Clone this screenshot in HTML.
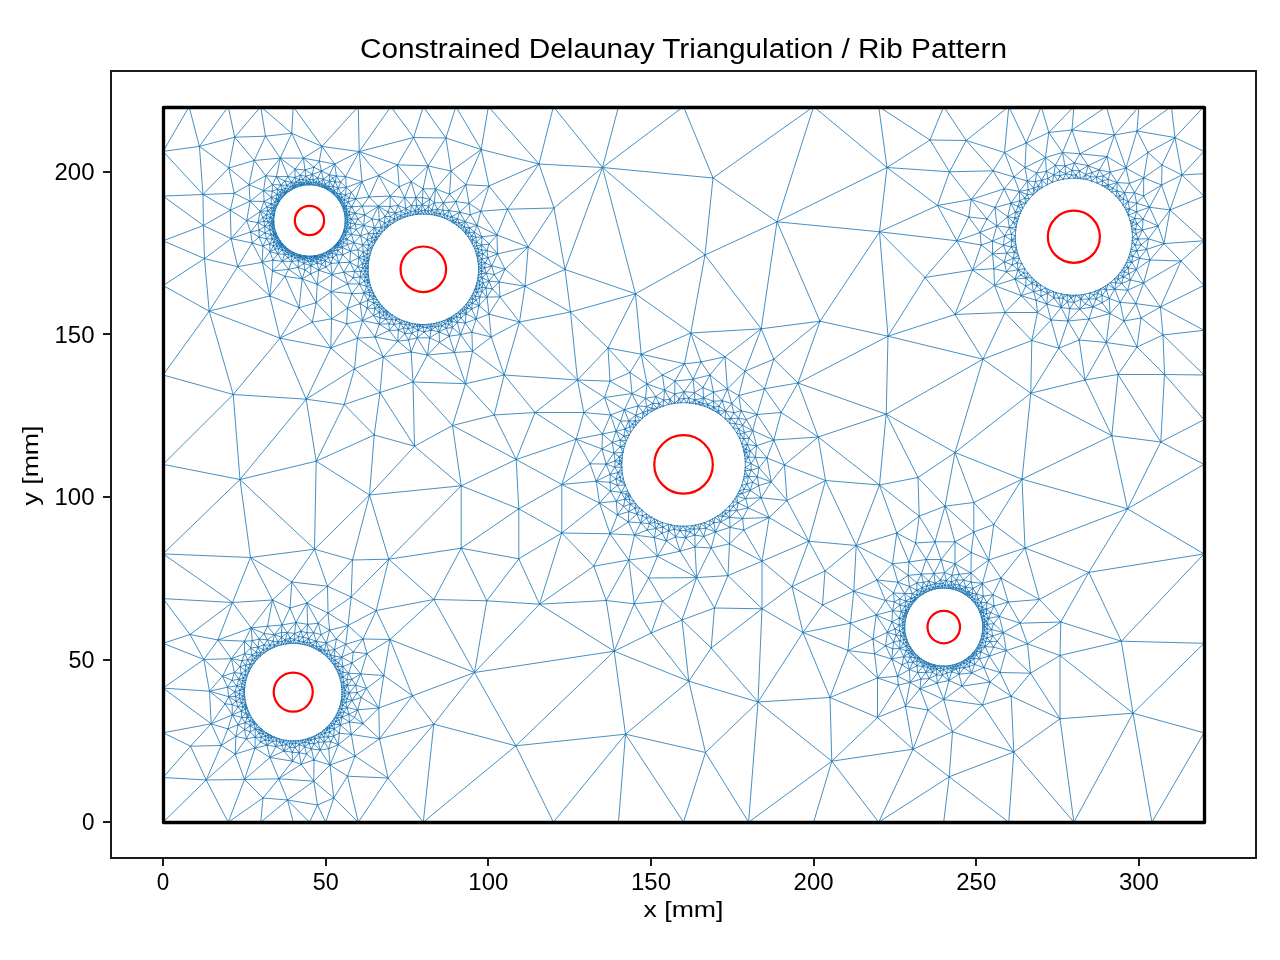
<!DOCTYPE html>
<html><head><meta charset="utf-8"><title>Constrained Delaunay Triangulation / Rib Pattern</title>
<style>
html,body{margin:0;padding:0;background:#fff;}
body{width:1280px;height:960px;overflow:hidden;position:relative;}
svg{display:block;}
text{font-family:"Liberation Sans",sans-serif;fill:#000;}
.tk{font-size:23.05px;}
.lb{font-size:22.5px;}
.tt{font-size:27px;}
</style></head><body>
<svg width="1280" height="960" viewBox="0 0 1280 960">
<rect x="0" y="0" width="1280" height="960" fill="#fff"/>
<path d="M345.3 220.2L345.2 218.5M345.3 220.2L345.2 222.0M345.3 220.2L347.9 221.6M345.3 220.2L347.4 219.3M345.2 218.5L345.1 216.7M345.2 218.5L347.5 217.4M345.2 218.5L347.4 219.3M345.1 216.7L344.8 215.0M345.1 216.7L347.5 217.4M345.1 216.7L346.7 215.6M344.8 215.0L344.5 213.2M344.8 215.0L346.8 213.7M344.8 215.0L346.7 215.6M344.5 213.2L344.1 211.5M344.5 213.2L346.8 213.7M344.5 213.2L346.2 211.9M344.1 211.5L343.6 209.8M344.1 211.5L346.6 209.4M344.1 211.5L346.2 211.9M343.6 209.8L343.1 208.2M343.6 209.8L346.6 209.4M343.6 209.8L344.8 208.1M343.1 208.2L342.4 206.6M343.1 208.2L344.1 206.8M343.1 208.2L344.8 208.1M342.4 206.6L341.7 205.0M342.4 206.6L344.1 206.8M342.4 206.6L343.7 205.5M341.7 205.0L340.9 203.4M341.7 205.0L344.0 203.3M341.7 205.0L343.7 205.5M340.9 203.4L340.0 201.9M340.9 203.4L344.0 203.3M340.9 203.4L342.1 201.7M340.0 201.9L339.1 200.4M340.0 201.9L341.3 199.9M340.0 201.9L342.1 201.7M339.1 200.4L338.1 199.0M339.1 200.4L341.3 199.9M339.1 200.4L339.9 198.7M338.1 199.0L337.0 197.6M338.1 199.0L339.2 197.0M338.1 199.0L339.9 198.7M337.0 197.6L335.8 196.3M337.0 197.6L339.2 197.0M337.0 197.6L337.9 195.6M335.8 196.3L334.6 195.0M335.8 196.3L336.7 193.3M335.8 196.3L337.9 195.6M334.6 195.0L333.3 193.8M334.6 195.0L336.7 193.3M334.6 195.0L334.6 193.0M333.3 193.8L332.0 192.7M333.3 193.8L334.6 193.0M333.3 193.8L333.5 192.2M332.0 192.7L330.6 191.6M332.0 192.7L332.4 191.2M332.0 192.7L333.5 192.2M330.6 191.6L329.1 190.6M330.6 191.6L331.1 189.3M330.6 191.6L332.4 191.2M329.1 190.6L327.6 189.7M329.1 190.6L331.1 189.3M329.1 190.6L328.9 188.7M327.6 189.7L326.1 188.8M327.6 189.7L328.9 188.7M327.6 189.7L327.5 188.0M326.1 188.8L324.5 188.0M326.1 188.8L326.1 186.9M326.1 188.8L327.5 188.0M324.5 188.0L322.9 187.3M324.5 188.0L324.3 186.4M324.5 188.0L326.1 186.9M322.9 187.3L321.3 186.7M322.9 187.3L324.3 186.4M322.9 187.3L323.0 185.7M321.3 186.7L319.6 186.2M321.3 186.7L321.6 184.0M321.3 186.7L323.0 185.7M319.6 186.2L317.9 185.7M319.6 186.2L321.6 184.0M319.6 186.2L319.2 184.3M317.9 185.7L316.2 185.3M317.9 185.7L317.8 183.8M317.9 185.7L319.2 184.3M316.2 185.3L314.5 185.1M316.2 185.3L316.1 182.3M316.2 185.3L317.8 183.8M314.5 185.1L312.7 184.9M314.5 185.1L316.1 182.3M314.5 185.1L313.6 182.8M312.7 184.9L311.0 184.7M312.7 184.9L311.1 182.6M312.7 184.9L313.6 182.8M311.0 184.7L310.1 184.7M311.0 184.7L311.1 182.6M310.1 184.7L309.2 184.7M310.1 184.7L311.1 182.6M310.1 184.7L309.0 183.7M309.2 184.7L307.5 184.8M309.2 184.7L309.0 183.7M307.5 184.8L305.7 184.9M307.5 184.8L309.0 183.7M307.5 184.8L306.9 183.1M305.7 184.9L304.0 185.1M305.7 184.9L304.3 182.8M305.7 184.9L306.9 183.1M304.0 185.1L302.2 185.5M304.0 185.1L304.3 182.8M304.0 185.1L302.7 184.1M302.2 185.5L301.4 185.6M302.2 185.5L301.6 184.5M302.2 185.5L302.7 184.1M301.4 185.6L300.5 185.8M301.4 185.6L300.1 184.6M301.4 185.6L301.6 184.5M300.5 185.8L298.8 186.3M300.5 185.8L300.1 184.6M298.8 186.3L297.2 186.9M298.8 186.3L300.1 184.6M298.8 186.3L297.4 184.7M297.2 186.9L295.5 187.5M297.2 186.9L295.2 185.9M297.2 186.9L297.4 184.7M295.5 187.5L294.7 187.9M295.5 187.5L295.2 185.9M295.5 187.5L294.1 187.1M294.7 187.9L293.9 188.3M294.7 187.9L294.1 187.1M293.9 188.3L292.4 189.1M293.9 188.3L294.1 187.1M293.9 188.3L292.4 187.7M292.4 189.1L290.9 189.9M292.4 189.1L292.4 187.7M290.9 189.9L289.4 190.9M290.9 189.9L290.6 186.5M290.9 189.9L288.5 188.7M290.9 189.9L292.4 187.7M289.4 190.9L288.0 191.9M289.4 190.9L286.9 191.0M289.4 190.9L288.5 188.7M288.0 191.9L286.6 193.0M288.0 191.9L286.9 191.0M286.6 193.0L285.9 193.6M286.6 193.0L286.9 191.0M286.6 193.0L285.7 192.4M285.9 193.6L285.3 194.2M285.9 193.6L284.7 193.2M285.9 193.6L285.7 192.4M285.3 194.2L284.0 195.4M285.3 194.2L284.7 193.2M284.0 195.4L282.8 196.7M284.0 195.4L281.2 194.4M284.0 195.4L284.7 193.2M284.0 195.4L282.7 192.5M282.8 196.7L281.7 198.0M282.8 196.7L281.2 194.4M282.8 196.7L280.4 196.1M281.7 198.0L280.6 199.4M281.7 198.0L279.0 197.5M281.7 198.0L280.4 196.1M280.6 199.4L279.6 200.8M280.6 199.4L279.0 197.5M280.6 199.4L278.2 199.4M279.6 200.8L279.1 201.6M279.6 200.8L278.8 200.7M279.6 200.8L278.2 199.4M279.1 201.6L278.7 202.3M279.1 201.6L277.3 201.2M279.1 201.6L278.8 200.7M278.7 202.3L277.8 203.9M278.7 202.3L277.3 201.2M277.8 203.9L277.0 205.4M277.8 203.9L277.3 201.2M277.8 203.9L275.0 202.3M277.8 203.9L274.7 205.3M277.0 205.4L276.3 207.0M277.0 205.4L274.7 205.3M276.3 207.0L275.7 208.7M276.3 207.0L273.8 207.0M276.3 207.0L274.7 205.3M275.7 208.7L275.2 210.4M275.7 208.7L273.8 207.0M275.7 208.7L273.7 209.0M275.2 210.4L274.7 212.1M275.2 210.4L272.4 211.0M275.2 210.4L273.7 209.0M274.7 212.1L274.3 213.8M274.7 212.1L272.4 211.0M274.7 212.1L273.2 213.5M274.3 213.8L274.2 214.6M274.3 213.8L273.2 213.5M274.2 214.6L274.1 215.5M274.2 214.6L272.7 215.4M274.2 214.6L273.2 213.5M274.1 215.5L273.8 217.2M274.1 215.5L272.7 215.4M273.8 217.2L273.7 219.0M273.8 217.2L272.7 215.4M273.8 217.2L270.3 217.7M273.8 217.2L272.6 219.2M273.7 219.0L273.7 220.8M273.7 219.0L272.6 219.2M273.7 220.8L273.7 221.6M273.7 220.8L271.7 221.1M273.7 220.8L272.6 219.2M273.7 221.6L273.8 222.5M273.7 221.6L271.7 221.1M273.7 221.6L272.7 222.9M273.8 222.5L273.9 224.3M273.8 222.5L272.7 222.9M273.9 224.3L274.1 226.0M273.9 224.3L272.7 222.9M273.9 224.3L272.3 224.9M274.1 226.0L274.4 227.7M274.1 226.0L272.2 227.2M274.1 226.0L272.3 224.9M274.4 227.7L274.8 229.4M274.4 227.7L272.2 227.2M274.4 227.7L272.8 229.1M274.8 229.4L275.3 231.1M274.8 229.4L273.0 231.5M274.8 229.4L272.8 229.1M275.3 231.1L275.9 232.8M275.3 231.1L273.0 231.5M275.3 231.1L274.5 232.5M275.9 232.8L276.2 233.6M275.9 232.8L275.1 233.5M275.9 232.8L274.5 232.5M276.2 233.6L276.5 234.4M276.2 233.6L275.3 235.0M276.2 233.6L275.1 233.5M276.5 234.4L277.3 236.0M276.5 234.4L275.3 235.0M277.3 236.0L277.6 236.8M277.3 236.0L275.4 237.3M277.3 236.0L275.3 235.0M277.6 236.8L278.1 237.6M277.6 236.8L275.4 237.3M277.6 236.8L277.0 238.3M278.1 237.6L278.9 239.1M278.1 237.6L277.0 238.3M278.9 239.1L279.9 240.6M278.9 239.1L277.0 238.3M278.9 239.1L277.2 240.7M279.9 240.6L280.4 241.3M279.9 240.6L278.4 242.2M279.9 240.6L279.8 242.3M279.9 240.6L277.2 240.7M280.4 241.3L280.9 242.0M280.4 241.3L279.8 242.3M280.9 242.0L282.0 243.4M280.9 242.0L279.8 242.3M280.9 242.0L280.5 243.6M282.0 243.4L282.6 244.1M282.0 243.4L281.4 244.4M282.0 243.4L280.5 243.6M282.6 244.1L283.2 244.7M282.6 244.1L281.9 245.5M282.6 244.1L281.4 244.4M283.2 244.7L284.4 246.0M283.2 244.7L281.9 245.5M283.2 244.7L283.3 246.9M284.4 246.0L285.0 246.6M284.4 246.0L283.3 246.9M285.0 246.6L285.7 247.2M285.0 246.6L284.6 248.4M285.0 246.6L283.3 246.9M285.7 247.2L287.0 248.3M285.7 247.2L284.6 248.4M285.7 247.2L286.3 249.1M287.0 248.3L287.7 248.9M287.0 248.3L286.3 249.1M287.7 248.9L288.4 249.4M287.7 248.9L287.6 250.5M287.7 248.9L286.3 249.1M288.4 249.4L289.8 250.4M288.4 249.4L287.6 250.5M289.8 250.4L291.3 251.3M289.8 250.4L287.6 250.5M289.8 250.4L289.2 252.1M291.3 251.3L292.9 252.2M291.3 251.3L289.2 252.1M291.3 251.3L291.1 253.4M292.9 252.2L294.4 252.9M292.9 252.2L292.9 254.0M292.9 252.2L291.1 253.4M294.4 252.9L296.0 253.6M294.4 252.9L292.9 254.0M294.4 252.9L294.5 255.0M296.0 253.6L297.7 254.3M296.0 253.6L296.7 255.7M296.0 253.6L294.5 255.0M297.7 254.3L299.4 254.8M297.7 254.3L298.9 256.0M297.7 254.3L296.7 255.7M299.4 254.8L300.2 255.0M299.4 254.8L298.9 256.0M300.2 255.0L301.0 255.3M300.2 255.0L298.9 256.0M300.2 255.0L300.4 256.2M301.0 255.3L302.8 255.6M301.0 255.3L300.4 256.2M301.0 255.3L301.4 256.5M302.8 255.6L304.5 255.9M302.8 255.6L302.6 257.3M302.8 255.6L301.4 256.5M304.5 255.9L305.4 256.0M304.5 255.9L304.1 258.0M304.5 255.9L305.5 257.3M304.5 255.9L302.6 257.3M305.4 256.0L306.2 256.1M305.4 256.0L305.5 257.3M306.2 256.1L308.0 256.2M306.2 256.1L307.1 258.2M306.2 256.1L305.5 257.3M308.0 256.2L309.7 256.3M308.0 256.2L309.7 258.6M308.0 256.2L307.1 258.2M309.7 256.3L310.6 256.3M309.7 256.3L309.7 258.6M310.6 256.3L311.5 256.2M310.6 256.3L309.7 258.6M310.6 256.3L311.5 257.3M311.5 256.2L313.3 256.1M311.5 256.2L311.5 257.3M313.3 256.1L314.1 256.0M313.3 256.1L313.6 258.4M313.3 256.1L311.5 257.3M313.3 256.1L315.0 257.1M314.1 256.0L315.0 255.8M314.1 256.0L315.0 257.1M315.0 255.8L315.9 255.7M315.0 255.8L315.0 257.1M315.0 255.8L316.2 256.5M315.9 255.7L316.7 255.5M315.9 255.7L316.2 256.5M316.7 255.5L318.4 255.1M316.7 255.5L316.2 256.5M316.7 255.5L317.7 256.8M318.4 255.1L320.1 254.6M318.4 255.1L319.9 257.1M318.4 255.1L317.7 256.8M320.1 254.6L321.8 254.1M320.1 254.6L319.9 257.1M320.1 254.6L321.4 255.8M321.8 254.1L323.4 253.4M321.8 254.1L321.4 255.8M321.8 254.1L322.9 255.4M323.4 253.4L325.0 252.7M323.4 253.4L324.9 256.0M323.4 253.4L322.9 255.4M325.0 252.7L326.6 251.9M325.0 252.7L324.9 256.0M325.0 252.7L326.8 254.3M326.6 251.9L328.1 251.0M326.6 251.9L329.3 253.8M326.6 251.9L326.8 254.3M328.1 251.0L329.6 250.1M328.1 251.0L329.3 253.8M328.1 251.0L330.1 251.8M329.6 250.1L331.0 249.1M329.6 250.1L330.1 251.8M329.6 250.1L331.3 250.9M331.0 249.1L332.4 248.0M331.0 249.1L333.8 250.6M331.0 249.1L331.3 250.9M332.4 248.0L333.7 246.8M332.4 248.0L335.1 248.3M332.4 248.0L333.8 250.6M333.7 246.8L334.3 246.2M333.7 246.8L335.1 248.3M333.7 246.8L335.4 246.7M334.3 246.2L335.0 245.6M334.3 246.2L335.4 246.7M335.0 245.6L336.2 244.3M335.0 245.6L335.4 246.7M335.0 245.6L336.7 245.7M336.2 244.3L336.7 243.7M336.2 244.3L337.3 244.7M336.2 244.3L336.7 245.7M336.7 243.7L337.3 243.0M336.7 243.7L338.3 243.8M336.7 243.7L337.3 244.7M337.3 243.0L337.9 242.3M337.3 243.0L338.3 243.8M337.3 243.0L338.2 243.0M337.9 242.3L338.4 241.6M337.9 242.3L339.2 242.3M337.9 242.3L338.2 243.0M338.4 241.6L339.4 240.1M338.4 241.6L339.2 242.3M339.4 240.1L340.3 238.7M339.4 240.1L339.2 242.3M339.4 240.1L341.1 241.1M340.3 238.7L341.2 237.1M340.3 238.7L342.8 239.3M340.3 238.7L341.1 241.1M341.2 237.1L341.9 235.5M341.2 237.1L342.8 239.3M341.2 237.1L343.6 237.3M341.9 235.5L342.6 233.9M341.9 235.5L345.5 235.1M341.9 235.5L343.6 237.3M342.6 233.9L343.3 232.3M342.6 233.9L345.0 232.6M342.6 233.9L345.5 235.1M343.3 232.3L343.5 231.5M343.3 232.3L345.0 232.6M343.3 232.3L344.4 231.4M343.5 231.5L343.8 230.6M343.5 231.5L344.4 231.4M343.8 230.6L344.3 228.9M343.8 230.6L344.4 231.4M343.8 230.6L345.6 230.7M344.3 228.9L344.6 227.2M344.3 228.9L346.7 228.9M344.3 228.9L345.6 230.7M344.6 227.2L344.9 225.5M344.6 227.2L346.7 228.9M344.6 227.2L346.9 226.8M344.9 225.5L345.1 223.7M344.9 225.5L347.7 224.5M344.9 225.5L346.9 226.8M345.1 223.7L345.2 222.0M345.1 223.7L347.7 224.5M345.1 223.7L346.6 222.9M345.2 222.0L347.9 221.6M345.2 222.0L346.6 222.9M478.6 266.8L478.4 264.1M478.6 266.8L478.6 269.5M478.6 266.8L481.6 265.4M478.6 266.8L481.1 268.1M478.4 264.1L478.1 261.4M478.4 264.1L481.6 265.4M478.4 264.1L481.2 262.5M478.1 261.4L477.6 258.8M478.1 261.4L481.9 259.0M478.1 261.4L481.2 262.5M477.6 258.8L477.0 256.1M477.6 258.8L481.9 259.0M477.6 258.8L479.1 255.8M477.0 256.1L476.7 254.8M477.0 256.1L479.1 255.8M476.7 254.8L476.3 253.5M476.7 254.8L478.7 252.5M476.7 254.8L479.1 255.8M476.3 253.5L475.5 250.9M476.3 253.5L478.7 252.5M475.5 250.9L474.5 248.4M475.5 250.9L478.7 252.5M475.5 250.9L478.2 248.7M474.5 248.4L473.4 245.9M474.5 248.4L478.2 248.7M474.5 248.4L476.8 245.9M473.4 245.9L472.2 243.4M473.4 245.9L476.5 242.0M473.4 245.9L476.8 245.9M472.2 243.4L470.9 241.1M472.2 243.4L476.5 242.0M472.2 243.4L472.9 239.8M470.9 241.1L469.4 238.8M470.9 241.1L472.9 239.8M469.4 238.8L467.9 236.6M469.4 238.8L471.7 236.0M469.4 238.8L472.9 239.8M467.9 236.6L466.2 234.4M467.9 236.6L469.0 232.4M467.9 236.6L471.7 236.0M466.2 234.4L465.4 233.4M466.2 234.4L469.0 232.4M466.2 234.4L465.8 232.0M465.4 233.4L464.5 232.3M465.4 233.4L465.8 232.0M464.5 232.3L462.6 230.4M464.5 232.3L465.8 232.0M464.5 232.3L466.5 229.7M462.6 230.4L460.7 228.5M462.6 230.4L464.5 227.0M462.6 230.4L466.5 229.7M460.7 228.5L458.6 226.7M460.7 228.5L464.5 227.0M460.7 228.5L461.7 225.2M458.6 226.7L456.5 225.0M458.6 226.7L459.2 223.0M458.6 226.7L461.7 225.2M456.5 225.0L454.3 223.5M456.5 225.0L459.2 223.0M456.5 225.0L455.6 222.0M454.3 223.5L453.1 222.7M454.3 223.5L455.6 222.0M453.1 222.7L452.0 222.0M453.1 222.7L453.2 220.2M453.1 222.7L455.6 222.0M452.0 222.0L449.6 220.6M452.0 222.0L453.2 220.2M449.6 220.6L447.2 219.4M449.6 220.6L453.2 220.2M449.6 220.6L451.9 216.6M447.2 219.4L444.7 218.3M447.2 219.4L451.9 216.6M447.2 219.4L447.4 215.8M444.7 218.3L442.2 217.3M444.7 218.3L444.4 214.4M444.7 218.3L447.4 215.8M442.2 217.3L439.6 216.4M442.2 217.3L444.4 214.4M442.2 217.3L440.0 213.7M439.6 216.4L437.0 215.7M439.6 216.4L440.0 213.7M437.0 215.7L434.4 215.1M437.0 215.7L436.5 213.1M437.0 215.7L440.0 213.7M434.4 215.1L431.7 214.6M434.4 215.1L436.5 213.1M434.4 215.1L434.2 212.4M431.7 214.6L429.0 214.3M431.7 214.6L431.8 210.1M431.7 214.6L434.2 212.4M429.0 214.3L426.3 214.1M429.0 214.3L431.8 210.1M429.0 214.3L428.1 211.0M426.3 214.1L423.6 214.0M426.3 214.1L425.0 210.1M426.3 214.1L428.1 211.0M423.6 214.0L420.9 214.0M423.6 214.0L425.0 210.1M423.6 214.0L421.4 210.7M420.9 214.0L418.2 214.2M420.9 214.0L421.4 210.7M420.9 214.0L418.3 212.3M418.2 214.2L416.8 214.4M418.2 214.2L418.3 212.3M416.8 214.4L415.5 214.5M416.8 214.4L415.0 210.9M416.8 214.4L418.3 212.3M415.5 214.5L412.8 215.0M415.5 214.5L415.0 210.9M412.8 215.0L410.1 215.6M412.8 215.0L415.0 210.9M412.8 215.0L410.6 211.4M410.1 215.6L407.5 216.3M410.1 215.6L410.6 211.4M410.1 215.6L407.9 213.0M407.5 216.3L404.9 217.1M407.5 216.3L404.8 213.7M407.5 216.3L407.9 213.0M404.9 217.1L402.4 218.1M404.9 217.1L404.8 213.7M404.9 217.1L400.8 215.7M402.4 218.1L399.9 219.2M402.4 218.1L400.8 215.7M399.9 219.2L397.5 220.4M399.9 219.2L397.5 217.4M399.9 219.2L400.8 215.7M397.5 220.4L395.1 221.7M397.5 220.4L397.5 217.4M397.5 220.4L394.1 219.1M395.1 221.7L392.8 223.2M395.1 221.7L394.1 219.1M392.8 223.2L390.6 224.7M392.8 223.2L389.3 221.2M392.8 223.2L394.1 219.1M390.6 224.7L388.5 226.4M390.6 224.7L389.3 221.2M390.6 224.7L387.5 224.9M388.5 226.4L387.4 227.2M388.5 226.4L387.5 224.9M387.4 227.2L386.4 228.1M387.4 227.2L385.1 226.7M387.4 227.2L387.5 224.9M386.4 228.1L384.4 230.0M386.4 228.1L385.1 226.7M384.4 230.0L382.5 231.9M384.4 230.0L385.1 226.7M384.4 230.0L381.2 227.1M382.5 231.9L380.7 234.0M382.5 231.9L381.2 227.1M382.5 231.9L379.1 230.8M380.7 234.0L379.1 236.1M380.7 234.0L377.0 233.2M380.7 234.0L379.1 230.8M379.1 236.1L377.5 238.3M379.1 236.1L375.7 236.9M379.1 236.1L377.0 233.2M377.5 238.3L376.8 239.5M377.5 238.3L375.7 236.9M376.8 239.5L376.0 240.6M376.8 239.5L375.7 236.9M376.8 239.5L374.4 239.9M376.0 240.6L374.7 243.0M376.0 240.6L374.4 239.9M374.7 243.0L373.5 245.4M374.7 243.0L371.6 241.7M374.7 243.0L374.4 239.9M373.5 245.4L372.3 247.9M373.5 245.4L368.7 244.9M373.5 245.4L371.6 241.7M373.5 245.4L370.5 247.7M372.3 247.9L371.4 250.4M372.3 247.9L370.5 247.7M371.4 250.4L370.5 253.0M371.4 250.4L367.6 249.7M371.4 250.4L370.5 247.7M370.5 253.0L369.8 255.6M370.5 253.0L367.6 249.7M370.5 253.0L367.1 254.1M369.8 255.6L369.1 258.2M369.8 255.6L367.1 257.7M369.8 255.6L367.1 254.1M369.1 258.2L368.9 259.6M369.1 258.2L367.1 257.7M368.9 259.6L368.7 260.9M368.9 259.6L367.1 257.7M368.9 259.6L367.1 260.8M368.7 260.9L368.3 263.6M368.7 260.9L367.1 260.8M368.3 263.6L368.1 266.3M368.3 263.6L367.1 260.8M368.3 263.6L365.8 263.4M368.1 266.3L368.1 267.7M368.1 266.3L365.0 266.0M368.1 266.3L366.2 268.1M368.1 266.3L365.8 263.4M368.1 267.7L368.0 269.0M368.1 267.7L366.2 268.1M368.0 269.0L368.1 271.7M368.0 269.0L365.2 271.0M368.0 269.0L366.2 268.1M368.1 271.7L368.3 274.4M368.1 271.7L365.2 271.0M368.1 271.7L366.5 274.3M368.3 274.4L368.4 275.8M368.3 274.4L366.5 274.3M368.4 275.8L368.6 277.1M368.4 275.8L365.3 277.3M368.4 275.8L366.5 274.3M368.6 277.1L369.0 279.8M368.6 277.1L365.3 277.3M368.6 277.1L367.2 280.0M369.0 279.8L369.3 281.1M369.0 279.8L367.2 280.0M369.3 281.1L369.6 282.5M369.3 281.1L367.2 280.0M369.3 281.1L367.8 282.8M369.6 282.5L370.3 285.1M369.6 282.5L367.8 282.8M370.3 285.1L371.2 287.7M370.3 285.1L366.5 286.4M370.3 285.1L367.8 282.8M371.2 287.7L372.1 290.2M371.2 287.7L366.5 286.4M371.2 287.7L368.6 290.0M372.1 290.2L373.2 292.7M372.1 290.2L369.4 292.4M372.1 290.2L368.6 290.0M373.2 292.7L374.4 295.1M373.2 292.7L369.4 292.4M373.2 292.7L373.4 296.1M373.2 292.7L369.9 295.7M374.4 295.1L375.1 296.3M374.4 295.1L373.4 296.1M375.1 296.3L375.8 297.5M375.1 296.3L373.4 296.1M375.8 297.5L377.2 299.8M375.8 297.5L372.8 298.8M375.8 297.5L373.4 296.1M377.2 299.8L378.8 302.0M377.2 299.8L372.8 298.8M377.2 299.8L373.7 303.1M378.8 302.0L380.4 304.2M378.8 302.0L373.7 303.1M378.8 302.0L377.3 304.9M380.4 304.2L382.2 306.2M380.4 304.2L379.1 307.4M380.4 304.2L377.3 304.9M382.2 306.2L384.0 308.2M382.2 306.2L379.1 307.4M382.2 306.2L381.6 309.2M384.0 308.2L386.0 310.1M384.0 308.2L383.9 311.8M384.0 308.2L381.6 309.2M386.0 310.1L387.0 311.0M386.0 310.1L383.9 311.8M386.0 310.1L386.4 312.0M387.0 311.0L388.0 311.9M387.0 311.0L386.4 312.0M388.0 311.9L390.2 313.5M388.0 311.9L386.8 314.5M388.0 311.9L386.4 312.0M390.2 313.5L392.4 315.1M390.2 313.5L386.8 314.5M390.2 313.5L389.4 316.5M392.4 315.1L394.7 316.6M392.4 315.1L391.6 319.5M392.4 315.1L389.4 316.5M394.7 316.6L397.0 317.9M394.7 316.6L391.6 319.5M394.7 316.6L396.0 320.1M397.0 317.9L399.4 319.2M397.0 317.9L396.0 320.1M399.4 319.2L401.9 320.3M399.4 319.2L400.3 323.4M399.4 319.2L396.0 320.1M401.9 320.3L404.4 321.3M401.9 320.3L400.3 323.4M404.4 321.3L407.0 322.1M404.4 321.3L400.3 323.4M404.4 321.3L405.5 324.6M407.0 322.1L409.6 322.9M407.0 322.1L405.5 324.6M407.0 322.1L409.5 324.9M409.6 322.9L412.3 323.5M409.6 322.9L409.5 324.9M412.3 323.5L414.9 323.9M412.3 323.5L413.4 327.4M412.3 323.5L409.5 324.9M414.9 323.9L417.6 324.3M414.9 323.9L417.3 326.2M414.9 323.9L413.4 327.4M417.6 324.3L419.0 324.4M417.6 324.3L417.3 326.2M419.0 324.4L420.3 324.5M419.0 324.4L417.3 326.2M419.0 324.4L420.0 326.3M420.3 324.5L421.7 324.5M420.3 324.5L420.0 326.3M421.7 324.5L423.1 324.6M421.7 324.5L422.8 327.3M421.7 324.5L420.0 326.3M423.1 324.6L425.8 324.5M423.1 324.6L422.8 327.3M425.8 324.5L428.5 324.3M425.8 324.5L422.8 327.3M425.8 324.5L427.0 327.7M428.5 324.3L431.2 324.0M428.5 324.3L427.0 327.7M428.5 324.3L430.1 326.7M431.2 324.0L433.9 323.6M431.2 324.0L432.4 326.5M431.2 324.0L430.1 326.7M433.9 323.6L436.5 323.0M433.9 323.6L435.4 327.1M433.9 323.6L432.4 326.5M436.5 323.0L439.1 322.3M436.5 323.0L435.4 327.1M436.5 323.0L438.6 326.1M439.1 322.3L441.7 321.4M439.1 322.3L441.8 325.8M439.1 322.3L438.6 326.1M441.7 321.4L444.2 320.5M441.7 321.4L441.8 325.8M441.7 321.4L445.2 323.7M444.2 320.5L446.7 319.4M444.2 320.5L447.8 321.1M444.2 320.5L445.2 323.7M446.7 319.4L447.9 318.8M446.7 319.4L447.8 321.1M447.9 318.8L449.2 318.2M447.9 318.8L447.8 321.1M447.9 318.8L449.6 319.7M449.2 318.2L451.5 316.8M449.2 318.2L449.6 319.7M449.2 318.2L451.2 318.9M451.5 316.8L453.8 315.4M451.5 316.8L451.2 318.9M451.5 316.8L453.7 318.5M453.8 315.4L456.0 313.8M453.8 315.4L456.9 316.9M453.8 315.4L453.7 318.5M456.0 313.8L458.2 312.2M456.0 313.8L456.9 316.9M456.0 313.8L460.2 313.8M458.2 312.2L460.3 310.4M458.2 312.2L460.2 313.8M460.3 310.4L462.2 308.6M460.3 310.4L462.8 311.4M460.3 310.4L460.2 313.8M462.2 308.6L464.1 306.6M462.2 308.6L462.8 311.4M462.2 308.6L464.7 309.8M464.1 306.6L465.9 304.6M464.1 306.6L467.1 308.2M464.1 306.6L464.7 309.8M465.9 304.6L467.6 302.4M465.9 304.6L467.1 308.2M465.9 304.6L469.0 305.5M467.6 302.4L469.2 300.2M467.6 302.4L472.3 303.2M467.6 302.4L469.0 305.5M469.2 300.2L470.6 297.9M469.2 300.2L472.3 303.2M469.2 300.2L472.7 299.0M470.6 297.9L472.0 295.6M470.6 297.9L472.7 299.0M472.0 295.6L473.2 293.2M472.0 295.6L475.4 296.2M472.0 295.6L472.7 299.0M473.2 293.2L474.3 290.7M473.2 293.2L477.3 292.2M473.2 293.2L475.4 296.2M474.3 290.7L474.8 289.4M474.3 290.7L477.3 292.2M474.3 290.7L476.3 289.1M474.8 289.4L475.3 288.2M474.8 289.4L476.3 289.1M475.3 288.2L476.2 285.6M475.3 288.2L476.3 289.1M476.2 285.6L476.9 283.0M476.2 285.6L479.6 284.7M476.2 285.6L476.3 289.1M476.2 285.6L479.1 288.5M476.9 283.0L477.5 280.3M476.9 283.0L479.6 284.7M476.9 283.0L479.6 280.9M477.5 280.3L478.0 277.7M477.5 280.3L479.6 280.9M478.0 277.7L478.3 275.0M478.0 277.7L482.2 277.7M478.0 277.7L479.6 280.9M478.3 275.0L478.5 272.3M478.3 275.0L482.2 277.7M478.3 275.0L481.4 273.9M478.5 272.3L478.6 269.5M478.5 272.3L481.8 270.9M478.5 272.3L481.4 273.9M478.6 269.5L481.8 270.9M478.6 269.5L481.1 268.1M1132.2 231.9L1131.9 229.1M1132.2 231.9L1132.4 237.7M1132.2 231.9L1135.5 229.2M1132.2 231.9L1136.2 233.7M1131.9 229.1L1131.4 226.2M1131.9 229.1L1135.5 229.2M1131.4 226.2L1130.9 223.4M1131.4 226.2L1137.1 223.9M1131.4 226.2L1135.5 229.2M1131.4 226.2L1133.0 222.2M1130.9 223.4L1130.1 220.6M1130.9 223.4L1133.0 222.2M1130.1 220.6L1128.3 215.2M1130.1 220.6L1134.7 218.4M1130.1 220.6L1133.0 222.2M1128.3 215.2L1127.2 212.6M1128.3 215.2L1136.6 211.8M1128.3 215.2L1129.5 208.9M1128.3 215.2L1134.7 218.4M1127.2 212.6L1125.9 210.0M1127.2 212.6L1129.5 208.9M1125.9 210.0L1124.5 207.4M1125.9 210.0L1129.5 208.9M1124.5 207.4L1123.0 205.0M1124.5 207.4L1128.2 201.6M1124.5 207.4L1129.5 208.9M1123.0 205.0L1119.7 200.3M1123.0 205.0L1128.2 201.6M1123.0 205.0L1123.4 199.1M1119.7 200.3L1117.8 198.1M1119.7 200.3L1119.9 195.9M1119.7 200.3L1123.4 199.1M1117.8 198.1L1115.9 196.0M1117.8 198.1L1119.9 195.9M1115.9 196.0L1111.7 192.1M1115.9 196.0L1119.9 195.9M1115.9 196.0L1117.0 191.1M1111.7 192.1L1109.5 190.3M1111.7 192.1L1112.8 188.1M1111.7 192.1L1117.0 191.1M1109.5 190.3L1107.1 188.6M1109.5 190.3L1112.8 188.1M1109.5 190.3L1108.1 185.2M1107.1 188.6L1104.7 187.0M1107.1 188.6L1108.1 185.2M1104.7 187.0L1102.3 185.6M1104.7 187.0L1108.1 185.2M1102.3 185.6L1097.1 183.0M1102.3 185.6L1108.1 185.2M1102.3 185.6L1102.4 180.9M1097.1 183.0L1091.7 181.0M1097.1 183.0L1096.5 177.0M1097.1 183.0L1102.4 180.9M1091.7 181.0L1086.2 179.5M1091.7 181.0L1096.5 177.0M1091.7 181.0L1090.4 176.7M1086.2 179.5L1083.4 179.0M1086.2 179.5L1085.7 174.5M1086.2 179.5L1090.4 176.7M1083.4 179.0L1080.5 178.6M1083.4 179.0L1085.7 174.5M1080.5 178.6L1077.6 178.3M1080.5 178.6L1079.4 170.9M1080.5 178.6L1085.7 174.5M1080.5 178.6L1076.0 175.1M1077.6 178.3L1074.8 178.2M1077.6 178.3L1076.0 175.1M1074.8 178.2L1069.0 178.4M1074.8 178.2L1071.5 175.0M1074.8 178.2L1076.0 175.1M1069.0 178.4L1063.3 179.2M1069.0 178.4L1065.7 173.7M1069.0 178.4L1071.5 175.0M1063.3 179.2L1057.7 180.5M1063.3 179.2L1065.7 173.7M1063.3 179.2L1059.9 175.9M1057.7 180.5L1052.3 182.3M1057.7 180.5L1059.9 175.9M1057.7 180.5L1053.9 174.9M1052.3 182.3L1047.1 184.7M1052.3 182.3L1048.0 178.5M1052.3 182.3L1053.9 174.9M1047.1 184.7L1042.1 187.6M1047.1 184.7L1048.0 178.5M1047.1 184.7L1041.7 180.2M1042.1 187.6L1039.7 189.2M1042.1 187.6L1038.4 186.1M1042.1 187.6L1041.7 180.2M1039.7 189.2L1037.4 190.9M1039.7 189.2L1038.4 186.1M1037.4 190.9L1035.2 192.8M1037.4 190.9L1038.4 186.1M1037.4 190.9L1033.6 188.1M1035.2 192.8L1033.1 194.7M1035.2 192.8L1033.6 188.1M1033.1 194.7L1029.2 198.9M1033.1 194.7L1028.2 189.8M1033.1 194.7L1033.6 188.1M1033.1 194.7L1027.0 194.4M1029.2 198.9L1027.4 201.1M1029.2 198.9L1024.8 198.1M1029.2 198.9L1027.0 194.4M1027.4 201.1L1025.7 203.5M1027.4 201.1L1024.8 198.1M1025.7 203.5L1022.7 208.3M1025.7 203.5L1019.7 200.8M1025.7 203.5L1024.8 198.1M1025.7 203.5L1021.3 204.4M1022.7 208.3L1021.3 210.9M1022.7 208.3L1018.1 206.4M1022.7 208.3L1021.3 204.4M1021.3 210.9L1020.1 213.5M1021.3 210.9L1018.1 206.4M1021.3 210.9L1015.5 212.1M1020.1 213.5L1019.0 216.2M1020.1 213.5L1015.5 212.1M1019.0 216.2L1018.1 218.9M1019.0 216.2L1015.5 212.1M1019.0 216.2L1014.8 217.9M1018.1 218.9L1017.3 221.6M1018.1 218.9L1014.8 217.9M1017.3 221.6L1016.6 224.4M1017.3 221.6L1013.3 222.5M1017.3 221.6L1014.8 217.9M1016.6 224.4L1016.1 227.3M1016.6 224.4L1013.3 222.5M1016.1 227.3L1015.7 230.1M1016.1 227.3L1009.4 227.5M1016.1 227.3L1013.3 222.5M1015.7 230.1L1015.3 235.8M1015.7 230.1L1009.4 227.5M1015.7 230.1L1011.4 233.9M1015.3 235.8L1015.3 238.7M1015.3 235.8L1011.6 240.3M1015.3 235.8L1011.4 233.9M1015.3 238.7L1015.5 241.6M1015.3 238.7L1011.6 240.3M1015.5 241.6L1015.8 244.4M1015.5 241.6L1011.6 240.3M1015.8 244.4L1016.3 247.3M1015.8 244.4L1011.3 247.1M1015.8 244.4L1011.6 240.3M1016.3 247.3L1016.8 250.1M1016.3 247.3L1011.3 247.1M1016.3 247.3L1014.3 252.1M1016.8 250.1L1017.6 252.9M1016.8 250.1L1014.3 252.1M1017.6 252.9L1018.4 255.6M1017.6 252.9L1014.3 252.1M1018.4 255.6L1019.4 258.3M1018.4 255.6L1013.4 258.4M1018.4 255.6L1014.3 252.1M1019.4 258.3L1021.8 263.5M1019.4 258.3L1013.4 258.4M1019.4 258.3L1017.2 262.9M1021.8 263.5L1024.7 268.5M1021.8 263.5L1018.0 269.8M1021.8 263.5L1017.2 262.9M1024.7 268.5L1028.0 273.2M1024.7 268.5L1023.7 273.0M1024.7 268.5L1018.0 269.8M1028.0 273.2L1029.9 275.4M1028.0 273.2L1023.7 273.0M1028.0 273.2L1026.0 278.2M1029.9 275.4L1031.8 277.5M1029.9 275.4L1026.0 278.2M1031.8 277.5L1033.9 279.5M1031.8 277.5L1026.0 278.2M1031.8 277.5L1031.9 283.4M1033.9 279.5L1036.0 281.4M1033.9 279.5L1031.9 283.4M1036.0 281.4L1038.2 283.2M1036.0 281.4L1031.9 283.4M1036.0 281.4L1036.8 286.1M1038.2 283.2L1040.6 284.9M1038.2 283.2L1036.8 286.1M1040.6 284.9L1045.4 287.9M1040.6 284.9L1036.8 286.1M1040.6 284.9L1040.9 290.2M1045.4 287.9L1048.0 289.3M1045.4 287.9L1047.5 293.5M1045.4 287.9L1040.9 290.2M1048.0 289.3L1050.6 290.5M1048.0 289.3L1047.5 293.5M1050.6 290.5L1053.3 291.6M1050.6 290.5L1047.5 293.5M1053.3 291.6L1056.0 292.5M1053.3 291.6L1053.8 297.9M1053.3 291.6L1047.5 293.5M1056.0 292.5L1061.5 294.0M1056.0 292.5L1053.8 297.9M1056.0 292.5L1058.9 298.0M1061.5 294.0L1064.4 294.5M1061.5 294.0L1063.2 298.4M1061.5 294.0L1058.9 298.0M1064.4 294.5L1067.2 294.9M1064.4 294.5L1063.2 298.4M1067.2 294.9L1070.1 295.2M1067.2 294.9L1067.4 301.8M1067.2 294.9L1063.2 298.4M1067.2 294.9L1071.1 297.7M1070.1 295.2L1072.9 295.3M1070.1 295.2L1071.1 297.7M1072.9 295.3L1075.8 295.3M1072.9 295.3L1071.1 297.7M1075.8 295.3L1078.7 295.1M1075.8 295.3L1073.9 302.3M1075.8 295.3L1080.9 299.3M1075.8 295.3L1071.1 297.7M1078.7 295.1L1081.5 294.8M1078.7 295.1L1080.9 299.3M1081.5 294.8L1084.4 294.3M1081.5 294.8L1080.9 299.3M1084.4 294.3L1090.0 293.0M1084.4 294.3L1080.9 299.3M1084.4 294.3L1088.9 298.9M1090.0 293.0L1095.4 291.2M1090.0 293.0L1088.9 298.9M1090.0 293.0L1093.6 295.2M1095.4 291.2L1098.1 290.1M1095.4 291.2L1093.6 295.2M1095.4 291.2L1097.7 293.4M1098.1 290.1L1100.6 288.8M1098.1 290.1L1097.7 293.4M1100.6 288.8L1103.2 287.4M1100.6 288.8L1102.1 295.4M1100.6 288.8L1106.3 289.9M1100.6 288.8L1097.7 293.4M1103.2 287.4L1105.6 285.9M1103.2 287.4L1106.3 289.9M1105.6 285.9L1108.0 284.3M1105.6 285.9L1106.3 289.9M1108.0 284.3L1110.3 282.6M1108.0 284.3L1114.7 289.2M1108.0 284.3L1106.3 289.9M1110.3 282.6L1114.6 278.8M1110.3 282.6L1114.7 289.2M1110.3 282.6L1115.8 282.8M1114.6 278.8L1116.6 276.7M1114.6 278.8L1118.4 279.2M1114.6 278.8L1115.8 282.8M1116.6 276.7L1118.5 274.6M1116.6 276.7L1118.4 279.2M1118.5 274.6L1120.3 272.4M1118.5 274.6L1123.4 276.9M1118.5 274.6L1118.4 279.2M1120.3 272.4L1122.0 270.0M1120.3 272.4L1123.4 276.9M1120.3 272.4L1124.5 271.8M1122.0 270.0L1123.6 267.6M1122.0 270.0L1124.5 271.8M1123.6 267.6L1125.0 265.2M1123.6 267.6L1128.3 267.9M1123.6 267.6L1124.5 271.8M1125.0 265.2L1126.4 262.6M1125.0 265.2L1128.3 267.9M1126.4 262.6L1127.6 260.0M1126.4 262.6L1131.8 262.3M1126.4 262.6L1128.3 267.9M1127.6 260.0L1128.7 257.3M1127.6 260.0L1131.8 262.3M1128.7 257.3L1129.6 254.6M1128.7 257.3L1131.8 262.3M1128.7 257.3L1132.8 256.3M1129.6 254.6L1130.4 251.9M1129.6 254.6L1132.8 256.3M1130.4 251.9L1131.1 249.1M1130.4 251.9L1136.8 250.9M1130.4 251.9L1132.8 256.3M1131.1 249.1L1132.0 243.4M1131.1 249.1L1136.8 250.9M1131.1 249.1L1135.3 245.1M1132.0 243.4L1132.3 240.5M1132.0 243.4L1135.3 245.1M1132.3 240.5L1132.4 237.7M1132.3 240.5L1138.0 239.0M1132.3 240.5L1135.3 245.1M1132.4 237.7L1138.0 239.0M1132.4 237.7L1136.2 233.7M745.3 461.6L745.1 458.6M745.3 461.6L745.3 467.7M745.3 461.6L748.5 457.1M745.3 461.6L750.9 463.6M745.1 458.6L744.7 455.6M745.1 458.6L748.5 457.1M744.7 455.6L744.2 452.6M744.7 455.6L748.5 457.1M744.7 455.6L746.4 452.6M744.2 452.6L743.9 451.1M744.2 452.6L746.4 452.6M743.9 451.1L743.5 449.6M743.9 451.1L745.9 449.1M743.9 451.1L746.4 452.6M743.5 449.6L742.7 446.7M743.5 449.6L745.9 449.1M742.7 446.7L741.8 443.8M742.7 446.7L745.9 449.1M742.7 446.7L747.4 444.6M741.8 443.8L739.5 438.2M741.8 443.8L747.4 444.6M741.8 443.8L743.8 438.6M739.5 438.2L736.6 432.8M739.5 438.2L743.8 438.6M739.5 438.2L740.5 434.2M736.6 432.8L733.3 427.8M736.6 432.8L738.7 429.2M736.6 432.8L740.5 434.2M733.3 427.8L729.5 423.1M733.3 427.8L735.5 423.6M733.3 427.8L738.7 429.2M729.5 423.1L727.4 420.9M729.5 423.1L730.8 418.5M729.5 423.1L735.5 423.6M727.4 420.9L725.2 418.8M727.4 420.9L730.8 418.5M725.2 418.8L720.5 414.9M725.2 418.8L730.8 418.5M725.2 418.8L725.5 411.0M720.5 414.9L718.0 413.2M720.5 414.9L718.6 410.8M720.5 414.9L725.5 411.0M718.0 413.2L716.8 412.3M718.0 413.2L718.6 410.8M716.8 412.3L715.5 411.5M716.8 412.3L718.6 410.8M715.5 411.5L712.8 410.0M715.5 411.5L718.6 410.8M715.5 411.5L713.9 407.2M712.8 410.0L710.1 408.7M712.8 410.0L713.9 407.2M710.1 408.7L707.4 407.4M710.1 408.7L713.9 407.2M710.1 408.7L707.8 404.3M707.4 407.4L704.5 406.3M707.4 407.4L707.8 404.3M704.5 406.3L701.7 405.4M704.5 406.3L707.8 404.3M704.5 406.3L702.7 403.3M701.7 405.4L700.2 404.9M701.7 405.4L702.7 403.3M700.2 404.9L698.7 404.5M700.2 404.9L699.3 402.1M700.2 404.9L702.7 403.3M698.7 404.5L695.8 403.9M698.7 404.5L699.3 402.1M695.8 403.9L692.8 403.3M695.8 403.9L699.3 402.1M695.8 403.9L694.9 399.9M692.8 403.3L689.8 403.0M692.8 403.3L694.9 399.9M689.8 403.0L686.8 402.7M689.8 403.0L694.9 399.9M689.8 403.0L688.8 398.0M686.8 402.7L680.7 402.7M686.8 402.7L688.8 398.0M686.8 402.7L683.8 398.7M680.7 402.7L677.7 402.9M680.7 402.7L679.2 398.8M680.7 402.7L683.8 398.7M677.7 402.9L674.7 403.3M677.7 402.9L679.2 398.8M674.7 403.3L671.7 403.8M674.7 403.3L674.7 394.0M674.7 403.3L669.8 399.3M674.7 403.3L679.2 398.8M671.7 403.8L668.7 404.4M671.7 403.8L669.8 399.3M668.7 404.4L662.9 406.2M668.7 404.4L669.8 399.3M668.7 404.4L663.8 400.1M662.9 406.2L660.1 407.3M662.9 406.2L659.0 403.5M662.9 406.2L663.8 400.1M660.1 407.3L657.3 408.5M660.1 407.3L659.0 403.5M657.3 408.5L654.6 409.8M657.3 408.5L652.8 403.4M657.3 408.5L659.0 403.5M657.3 408.5L651.8 408.3M654.6 409.8L651.9 411.3M654.6 409.8L651.8 408.3M651.9 411.3L646.9 414.7M651.9 411.3L651.8 408.3M651.9 411.3L647.9 410.6M646.9 414.7L644.5 416.5M646.9 414.7L643.1 412.5M646.9 414.7L647.9 410.6M644.5 416.5L642.2 418.5M644.5 416.5L643.1 412.5M642.2 418.5L640.0 420.6M642.2 418.5L635.9 415.3M642.2 418.5L643.1 412.5M640.0 420.6L637.9 422.8M640.0 420.6L635.9 415.3M640.0 420.6L635.1 421.0M637.9 422.8L635.9 425.1M637.9 422.8L635.1 421.0M635.9 425.1L634.0 427.5M635.9 425.1L632.5 424.0M635.9 425.1L635.1 421.0M634.0 427.5L630.6 432.5M634.0 427.5L632.5 424.0M634.0 427.5L629.8 426.8M630.6 432.5L629.1 435.1M630.6 432.5L625.1 429.2M630.6 432.5L629.8 426.8M629.1 435.1L627.8 437.8M629.1 435.1L625.1 429.2M629.1 435.1L623.8 435.9M627.8 437.8L626.5 440.6M627.8 437.8L623.8 435.9M626.5 440.6L625.4 443.4M626.5 440.6L620.3 440.1M626.5 440.6L623.8 435.9M625.4 443.4L624.5 446.3M625.4 443.4L620.3 440.1M625.4 443.4L620.2 446.7M624.5 446.3L623.6 449.2M624.5 446.3L620.2 446.7M623.6 449.2L623.0 452.2M623.6 449.2L620.2 446.7M623.0 452.2L622.4 455.2M623.0 452.2L613.9 453.1M623.0 452.2L620.2 446.7M623.0 452.2L619.2 456.7M622.4 455.2L622.1 458.2M622.4 455.2L619.2 456.7M622.1 458.2L621.8 461.2M622.1 458.2L619.2 456.7M622.1 458.2L619.7 460.8M621.8 461.2L621.8 462.7M621.8 461.2L619.7 460.8M621.8 462.7L621.7 464.2M621.8 462.7L618.9 463.9M621.8 462.7L619.7 460.8M621.7 464.2L621.8 467.3M621.7 464.2L618.9 463.9M621.8 467.3L622.0 470.3M621.8 467.3L618.9 463.9M621.8 467.3L618.0 472.6M621.8 467.3L614.8 467.2M622.0 470.3L622.4 473.3M622.0 470.3L618.0 472.6M622.4 473.3L623.5 479.3M622.4 473.3L618.0 472.6M622.4 473.3L619.9 477.1M623.5 479.3L624.3 482.2M623.5 479.3L620.9 481.4M623.5 479.3L619.9 477.1M624.3 482.2L625.3 485.1M624.3 482.2L620.9 481.4M625.3 485.1L627.6 490.7M625.3 485.1L617.4 485.3M625.3 485.1L620.9 481.4M625.3 485.1L621.3 492.4M627.6 490.7L628.9 493.4M627.6 490.7L626.2 494.4M627.6 490.7L621.3 492.4M628.9 493.4L629.7 494.7M628.9 493.4L626.2 494.4M628.9 493.4L628.2 496.3M629.7 494.7L630.4 496.0M629.7 494.7L628.2 496.3M630.4 496.0L633.8 501.1M630.4 496.0L628.2 496.3M630.4 496.0L629.5 499.5M633.8 501.1L635.6 503.5M633.8 501.1L630.3 504.3M633.8 501.1L629.5 499.5M635.6 503.5L637.6 505.8M635.6 503.5L630.3 504.3M635.6 503.5L635.0 508.1M637.6 505.8L639.7 508.0M637.6 505.8L635.0 508.1M639.7 508.0L641.9 510.1M639.7 508.0L636.8 514.1M639.7 508.0L635.0 508.1M641.9 510.1L646.6 514.0M641.9 510.1L636.8 514.1M641.9 510.1L642.4 516.0M646.6 514.0L649.0 515.7M646.6 514.0L646.5 518.4M646.6 514.0L642.4 516.0M649.0 515.7L651.6 517.3M649.0 515.7L646.5 518.4M651.6 517.3L654.2 518.8M651.6 517.3L649.5 523.6M651.6 517.3L646.5 518.4M654.2 518.8L656.9 520.2M654.2 518.8L649.5 523.6M654.2 518.8L654.5 522.3M656.9 520.2L662.5 522.6M656.9 520.2L654.5 522.3M656.9 520.2L658.7 524.2M662.5 522.6L668.3 524.3M662.5 522.6L662.9 527.2M662.5 522.6L658.7 524.2M668.3 524.3L671.3 525.0M668.3 524.3L668.7 530.9M668.3 524.3L662.9 527.2M671.3 525.0L674.3 525.5M671.3 525.0L668.7 530.9M671.3 525.0L674.3 529.3M674.3 525.5L677.3 525.9M674.3 525.5L674.3 529.3M677.3 525.9L680.3 526.2M677.3 525.9L680.0 530.6M677.3 525.9L674.3 529.3M680.3 526.2L683.3 526.2M680.3 526.2L680.0 530.6M683.3 526.2L686.4 526.2M683.3 526.2L685.7 530.6M683.3 526.2L680.0 530.6M686.4 526.2L692.4 525.6M686.4 526.2L685.7 530.6M686.4 526.2L689.8 528.8M692.4 525.6L695.4 525.1M692.4 525.6L694.1 529.0M692.4 525.6L689.8 528.8M695.4 525.1L698.4 524.4M695.4 525.1L694.1 529.0M695.4 525.1L699.5 528.9M698.4 524.4L701.3 523.6M698.4 524.4L699.5 528.9M701.3 523.6L704.2 522.7M701.3 523.6L705.8 528.3M701.3 523.6L699.5 528.9M704.2 522.7L709.8 520.4M704.2 522.7L705.8 528.3M704.2 522.7L709.7 525.4M709.8 520.4L712.5 519.0M709.8 520.4L713.8 522.9M709.8 520.4L709.7 525.4M712.5 519.0L715.1 517.5M712.5 519.0L713.8 522.9M715.1 517.5L717.7 515.9M715.1 517.5L720.5 521.8M715.1 517.5L713.8 522.9M717.7 515.9L720.2 514.2M717.7 515.9L720.5 521.8M717.7 515.9L722.6 516.4M720.2 514.2L722.6 512.3M720.2 514.2L722.6 516.4M722.6 512.3L724.9 510.4M722.6 512.3L725.9 513.8M722.6 512.3L722.6 516.4M724.9 510.4L729.2 506.1M724.9 510.4L725.9 513.8M724.9 510.4L729.9 510.8M729.2 506.1L733.1 501.4M729.2 506.1L729.9 510.8M729.2 506.1L733.4 506.2M733.1 501.4L734.8 498.9M733.1 501.4L738.1 502.8M733.1 501.4L733.4 506.2M734.8 498.9L736.4 496.4M734.8 498.9L738.1 502.8M736.4 496.4L737.9 493.7M736.4 496.4L745.6 498.5M736.4 496.4L738.1 502.8M736.4 496.4L742.3 493.5M737.9 493.7L739.3 491.0M737.9 493.7L742.3 493.5M739.3 491.0L741.7 485.4M739.3 491.0L744.2 489.1M739.3 491.0L742.3 493.5M741.7 485.4L743.4 479.6M741.7 485.4L747.0 483.9M741.7 485.4L744.2 489.1M743.4 479.6L744.1 476.7M743.4 479.6L748.5 476.5M743.4 479.6L747.0 483.9M744.1 476.7L744.6 473.7M744.1 476.7L748.5 476.5M744.6 473.7L745.0 470.7M744.6 473.7L748.5 476.5M745.0 470.7L745.3 467.7M745.0 470.7L751.3 470.2M745.0 470.7L748.5 476.5M745.3 467.7L751.3 470.2M745.3 467.7L750.9 463.6M982.8 625.9L982.7 624.0M982.8 625.9L982.8 627.8M982.8 625.9L984.5 624.7M982.8 625.9L984.9 627.0M982.7 624.0L982.5 622.1M982.7 624.0L984.5 624.7M982.7 624.0L984.3 622.2M982.5 622.1L982.2 620.2M982.5 622.1L984.3 622.2M982.2 620.2L981.8 618.3M982.2 620.2L984.4 619.3M982.2 620.2L984.3 622.2M981.8 618.3L981.3 616.5M981.8 618.3L983.8 616.2M981.8 618.3L984.4 619.3M981.3 616.5L980.7 614.6M981.3 616.5L983.8 616.2M980.7 614.6L980.1 612.8M980.7 614.6L983.8 616.2M980.7 614.6L983.2 612.5M980.7 614.6L981.0 612.5M980.1 612.8L979.7 611.9M980.1 612.8L981.0 612.5M979.7 611.9L979.3 611.1M979.7 611.9L981.0 610.6M979.7 611.9L981.0 612.5M979.3 611.1L978.5 609.3M979.3 611.1L981.0 610.6M978.5 609.3L977.6 607.6M978.5 609.3L981.0 610.6M978.5 609.3L982.3 607.1M978.5 609.3L978.9 605.9M977.6 607.6L976.6 606.0M977.6 607.6L978.9 605.9M976.6 606.0L975.5 604.4M976.6 606.0L977.6 603.3M976.6 606.0L978.9 605.9M975.5 604.4L974.4 602.9M975.5 604.4L977.6 603.3M975.5 604.4L975.5 601.7M974.4 602.9L973.2 601.4M974.4 602.9L975.5 601.7M973.2 601.4L971.9 600.0M973.2 601.4L974.5 598.9M973.2 601.4L975.5 601.7M971.9 600.0L970.5 598.7M971.9 600.0L974.5 598.9M971.9 600.0L972.1 596.9M970.5 598.7L969.1 597.4M970.5 598.7L972.1 596.9M969.1 597.4L967.6 596.2M969.1 597.4L972.1 596.9M969.1 597.4L969.8 595.0M967.6 596.2L966.0 595.0M967.6 596.2L967.9 594.1M967.6 596.2L969.8 595.0M966.0 595.0L964.4 594.0M966.0 595.0L967.9 594.1M966.0 595.0L966.6 593.0M964.4 594.0L962.8 593.0M964.4 594.0L965.3 591.3M964.4 594.0L966.6 593.0M962.8 593.0L961.1 592.1M962.8 593.0L965.3 591.3M962.8 593.0L963.2 590.3M961.1 592.1L959.4 591.3M961.1 592.1L961.3 589.0M961.1 592.1L963.2 590.3M959.4 591.3L957.6 590.6M959.4 591.3L961.3 589.0M959.4 591.3L959.0 588.8M957.6 590.6L955.8 589.9M957.6 590.6L956.4 587.9M957.6 590.6L959.0 588.8M955.8 589.9L954.0 589.4M955.8 589.9L956.4 587.9M954.0 589.4L952.1 588.9M954.0 589.4L956.4 587.9M954.0 589.4L953.3 587.2M952.1 588.9L950.2 588.6M952.1 588.9L950.5 587.4M952.1 588.9L953.3 587.2M950.2 588.6L949.3 588.4M950.2 588.6L950.5 587.4M949.3 588.4L948.3 588.3M949.3 588.4L950.5 587.4M948.3 588.3L946.4 588.1M948.3 588.3L948.5 585.2M948.3 588.3L950.5 587.4M946.4 588.1L944.5 588.0M946.4 588.1L948.5 585.2M946.4 588.1L945.1 585.2M944.5 588.0L942.6 588.1M944.5 588.0L945.1 585.2M944.5 588.0L941.9 586.1M942.6 588.1L940.7 588.2M942.6 588.1L941.9 586.1M940.7 588.2L938.8 588.4M940.7 588.2L941.9 586.1M940.7 588.2L938.3 586.4M938.8 588.4L936.9 588.6M938.8 588.4L938.3 586.4M936.9 588.6L935.0 589.0M936.9 588.6L935.6 586.9M936.9 588.6L938.3 586.4M935.0 589.0L933.1 589.5M935.0 589.0L935.6 586.9M935.0 589.0L932.9 587.5M933.1 589.5L931.3 590.1M933.1 589.5L932.9 587.5M931.3 590.1L929.5 590.7M931.3 590.1L929.3 588.6M931.3 590.1L932.9 587.5M929.5 590.7L927.7 591.5M929.5 590.7L929.3 588.6M927.7 591.5L926.0 592.3M927.7 591.5L925.9 589.5M927.7 591.5L929.3 588.6M926.0 592.3L924.3 593.2M926.0 592.3L925.9 589.5M926.0 592.3L923.7 591.3M924.3 593.2L922.7 594.2M924.3 593.2L923.7 591.3M922.7 594.2L921.1 595.3M922.7 594.2L921.1 591.3M922.7 594.2L919.8 593.7M922.7 594.2L923.7 591.3M921.1 595.3L919.6 596.4M921.1 595.3L919.8 593.7M919.6 596.4L918.1 597.6M919.6 596.4L916.9 594.8M919.6 596.4L919.8 593.7M918.1 597.6L916.7 598.9M918.1 597.6L914.8 597.2M918.1 597.6L916.9 594.8M916.7 598.9L916.0 599.6M916.7 598.9L914.8 597.2M916.0 599.6L915.3 600.3M916.0 599.6L914.8 597.2M916.0 599.6L914.5 599.4M915.3 600.3L914.7 601.0M915.3 600.3L914.5 599.4M914.7 601.0L914.1 601.7M914.7 601.0L913.0 600.8M914.7 601.0L914.5 599.4M914.1 601.7L912.8 603.2M914.1 601.7L913.0 600.8M912.8 603.2L911.7 604.8M912.8 603.2L913.0 600.8M912.8 603.2L910.6 601.9M911.7 604.8L910.7 606.4M911.7 604.8L908.7 604.4M911.7 604.8L910.6 601.9M910.7 606.4L909.7 608.0M910.7 606.4L908.7 604.4M910.7 606.4L908.1 607.3M909.7 608.0L908.8 609.7M909.7 608.0L908.1 607.3M908.8 609.7L908.0 611.4M908.8 609.7L905.9 610.1M908.8 609.7L908.1 607.3M908.0 611.4L907.3 613.2M908.0 611.4L905.9 610.1M908.0 611.4L906.3 611.9M907.3 613.2L906.6 615.0M907.3 613.2L904.8 613.3M907.3 613.2L906.3 611.9M906.6 615.0L906.1 616.9M906.6 615.0L904.8 613.3M906.6 615.0L905.0 615.4M906.1 616.9L905.6 618.7M906.1 616.9L903.4 616.2M906.1 616.9L905.0 615.4M905.6 618.7L905.3 620.6M905.6 618.7L903.4 616.2M905.6 618.7L903.1 619.2M905.3 620.6L905.0 622.5M905.3 620.6L902.7 622.1M905.3 620.6L903.1 619.2M905.0 622.5L904.8 624.4M905.0 622.5L902.7 622.1M904.8 624.4L904.7 626.3M904.8 624.4L902.7 625.3M904.8 624.4L902.7 622.1M904.7 626.3L904.7 628.2M904.7 626.3L902.7 625.3M904.7 626.3L902.7 628.6M904.7 628.2L904.8 630.1M904.7 628.2L902.7 628.6M904.8 630.1L905.0 632.1M904.8 630.1L902.7 628.6M904.8 630.1L903.2 632.7M905.0 632.1L905.3 633.9M905.0 632.1L903.2 632.7M905.3 633.9L905.7 635.8M905.3 633.9L903.2 632.7M905.3 633.9L904.2 636.1M905.7 635.8L906.2 637.7M905.7 635.8L904.2 636.1M906.2 637.7L906.8 639.5M906.2 637.7L903.9 639.5M906.2 637.7L904.2 636.1M906.8 639.5L907.4 641.3M906.8 639.5L903.9 639.5M906.8 639.5L906.1 642.5M907.4 641.3L908.1 643.1M907.4 641.3L906.1 642.5M908.1 643.1L909.0 644.8M908.1 643.1L906.3 646.2M908.1 643.1L906.1 642.5M909.0 644.8L909.9 646.5M909.0 644.8L906.3 646.2M909.9 646.5L910.9 648.1M909.9 646.5L906.3 646.2M909.9 646.5L908.4 648.5M910.9 648.1L912.0 649.7M910.9 648.1L909.3 650.4M910.9 648.1L908.4 648.5M912.0 649.7L913.1 651.2M912.0 649.7L909.3 650.4M912.0 649.7L910.8 651.8M913.1 651.2L914.3 652.7M913.1 651.2L911.6 653.7M913.1 651.2L910.8 651.8M914.3 652.7L915.6 654.1M914.3 652.7L911.6 653.7M914.3 652.7L913.3 655.1M915.6 654.1L917.0 655.5M915.6 654.1L914.8 657.6M915.6 654.1L913.3 655.1M917.0 655.5L918.4 656.8M917.0 655.5L917.5 657.9M917.0 655.5L914.8 657.6M918.4 656.8L919.1 657.4M918.4 656.8L917.5 657.9M919.1 657.4L919.9 658.0M919.1 657.4L917.5 657.9M919.1 657.4L919.2 659.2M919.9 658.0L921.4 659.1M919.9 658.0L919.2 659.2M921.4 659.1L923.0 660.2M921.4 659.1L920.5 662.1M921.4 659.1L919.2 659.2M923.0 660.2L924.7 661.1M923.0 660.2L920.5 662.1M923.0 660.2L923.0 662.7M924.7 661.1L926.4 662.0M924.7 661.1L924.7 663.5M924.7 661.1L923.0 662.7M926.4 662.0L928.1 662.8M926.4 662.0L924.7 663.5M926.4 662.0L926.5 664.6M928.1 662.8L929.0 663.2M928.1 662.8L926.5 664.6M928.1 662.8L929.2 664.7M929.0 663.2L929.9 663.6M929.0 663.2L929.2 664.7M929.9 663.6L931.7 664.2M929.9 663.6L929.2 664.7M931.7 664.2L933.5 664.7M931.7 664.2L932.9 666.5M931.7 664.2L929.2 664.7M931.7 664.2L930.7 666.4M933.5 664.7L934.5 665.0M933.5 664.7L932.9 666.5M934.5 665.0L935.4 665.2M934.5 665.0L932.9 666.5M934.5 665.0L935.1 666.7M935.4 665.2L937.3 665.6M935.4 665.2L935.1 666.7M937.3 665.6L939.2 665.8M937.3 665.6L936.8 669.1M937.3 665.6L935.1 666.7M939.2 665.8L941.1 666.0M939.2 665.8L940.6 667.9M939.2 665.8L936.8 669.1M941.1 666.0L943.0 666.1M941.1 666.0L940.6 667.9M943.0 666.1L944.9 666.1M943.0 666.1L940.6 667.9M943.0 666.1L943.5 669.6M944.9 666.1L946.8 666.0M944.9 666.1L943.5 669.6M944.9 666.1L947.6 668.5M946.8 666.0L948.7 665.8M946.8 666.0L947.6 668.5M948.7 665.8L950.6 665.5M948.7 665.8L947.6 668.5M948.7 665.8L950.7 668.0M950.6 665.5L952.5 665.1M950.6 665.5L953.4 666.8M950.6 665.5L950.7 668.0M952.5 665.1L954.4 664.6M952.5 665.1L953.4 666.8M954.4 664.6L956.2 664.1M954.4 664.6L955.8 666.1M954.4 664.6L953.4 666.8M956.2 664.1L958.0 663.4M956.2 664.1L955.8 666.1M956.2 664.1L958.0 665.7M958.0 663.4L959.8 662.7M958.0 663.4L960.7 664.6M958.0 663.4L958.0 665.7M959.8 662.7L961.5 661.8M959.8 662.7L960.7 664.6M961.5 661.8L963.2 660.9M961.5 661.8L963.9 663.1M961.5 661.8L960.7 664.6M963.2 660.9L964.8 659.9M963.2 660.9L963.9 663.1M964.8 659.9L966.4 658.9M964.8 659.9L963.9 663.1M964.8 659.9L966.8 661.3M966.4 658.9L967.9 657.7M966.4 658.9L968.6 659.2M966.4 658.9L966.8 661.3M967.9 657.7L968.7 657.1M967.9 657.7L968.6 659.2M968.7 657.1L969.4 656.5M968.7 657.1L970.8 658.5M968.7 657.1L968.6 659.2M969.4 656.5L970.8 655.2M969.4 656.5L970.8 658.5M969.4 656.5L971.9 656.4M970.8 655.2L972.2 653.8M970.8 655.2L971.9 656.4M972.2 653.8L972.8 653.1M972.2 653.8L973.7 655.1M972.2 653.8L971.9 656.4M972.8 653.1L973.4 652.4M972.8 653.1L973.7 655.1M972.8 653.1L974.6 653.1M973.4 652.4L974.6 650.9M973.4 652.4L974.6 653.1M974.6 650.9L975.8 649.4M974.6 650.9L976.8 651.4M974.6 650.9L974.6 653.1M975.8 649.4L976.8 647.8M975.8 649.4L976.8 651.4M975.8 649.4L978.7 648.4M976.8 647.8L977.8 646.1M976.8 647.8L978.7 648.4M977.8 646.1L978.7 644.4M977.8 646.1L978.7 648.4M977.8 646.1L980.6 645.4M978.7 644.4L979.5 642.7M978.7 644.4L980.6 645.4M979.5 642.7L980.2 640.9M979.5 642.7L982.4 642.7M979.5 642.7L980.6 645.4M980.2 640.9L980.9 639.1M980.2 640.9L982.4 642.7M980.2 640.9L983.1 639.4M980.9 639.1L981.4 637.3M980.9 639.1L983.1 639.4M981.4 637.3L981.9 635.4M981.4 637.3L984.1 636.1M981.4 637.3L983.1 639.4M981.9 635.4L982.2 633.5M981.9 635.4L984.1 636.1M981.9 635.4L983.8 633.4M982.2 633.5L982.5 631.6M982.2 633.5L983.8 633.4M982.5 631.6L982.7 629.7M982.5 631.6L983.8 633.4M982.5 631.6L984.4 630.3M982.7 629.7L982.8 627.8M982.7 629.7L984.4 630.3M982.8 627.8L984.4 630.3M982.8 627.8L984.9 627.0M341.9 689.6L341.8 687.2M341.9 689.6L342.0 692.0M341.9 689.6L345.1 690.3M341.9 689.6L344.2 687.7M341.8 687.2L341.5 684.9M341.8 687.2L343.9 685.6M341.8 687.2L344.2 687.7M341.5 684.9L341.1 682.5M341.5 684.9L343.9 685.6M341.5 684.9L343.6 682.3M341.1 682.5L340.5 680.2M341.1 682.5L343.6 682.3M340.5 680.2L339.9 677.9M340.5 680.2L342.9 677.0M340.5 680.2L343.6 682.3M339.9 677.9L339.1 675.6M339.9 677.9L342.9 677.0M339.1 675.6L338.3 673.4M339.1 675.6L342.9 677.0M339.1 675.6L340.7 673.7M338.3 673.4L337.3 671.2M338.3 673.4L339.5 670.2M338.3 673.4L340.7 673.7M337.3 671.2L336.2 669.0M337.3 671.2L339.5 670.2M336.2 669.0L335.0 667.0M336.2 669.0L339.5 670.2M336.2 669.0L337.9 666.5M335.0 667.0L333.7 664.9M335.0 667.0L335.4 663.9M335.0 667.0L337.9 666.5M333.7 664.9L332.4 663.0M333.7 664.9L335.4 663.9M332.4 663.0L330.9 661.1M332.4 663.0L335.0 660.3M332.4 663.0L335.4 663.9M330.9 661.1L329.3 659.3M330.9 661.1L335.0 660.3M330.9 661.1L332.1 658.4M329.3 659.3L327.7 657.6M329.3 659.3L330.6 655.1M329.3 659.3L332.1 658.4M327.7 657.6L325.9 655.9M327.7 657.6L330.6 655.1M327.7 657.6L326.9 653.9M325.9 655.9L324.1 654.3M325.9 655.9L326.9 653.9M324.1 654.3L322.2 652.9M324.1 654.3L324.4 650.2M324.1 654.3L326.9 653.9M322.2 652.9L320.3 651.5M322.2 652.9L321.1 650.0M322.2 652.9L324.4 650.2M320.3 651.5L319.2 650.9M320.3 651.5L321.1 650.0M319.2 650.9L318.2 650.2M319.2 650.9L321.1 650.0M319.2 650.9L318.8 648.8M318.2 650.2L316.1 649.0M318.2 650.2L318.8 648.8M316.1 649.0L314.0 648.0M316.1 649.0L316.5 646.3M316.1 649.0L318.8 648.8M314.0 648.0L311.8 647.0M314.0 648.0L316.5 646.3M314.0 648.0L312.9 645.1M311.8 647.0L309.6 646.2M311.8 647.0L312.9 645.1M309.6 646.2L307.3 645.4M309.6 646.2L310.2 643.0M309.6 646.2L312.9 645.1M307.3 645.4L305.0 644.8M307.3 645.4L310.2 643.0M307.3 645.4L307.0 642.6M305.0 644.8L302.7 644.2M305.0 644.8L303.8 641.7M305.0 644.8L307.0 642.6M302.7 644.2L300.3 643.8M302.7 644.2L303.8 641.7M300.3 643.8L297.9 643.6M300.3 643.8L299.1 640.9M300.3 643.8L303.8 641.7M297.9 643.6L295.5 643.4M297.9 643.6L299.1 640.9M295.5 643.4L293.1 643.3M295.5 643.4L294.4 639.6M295.5 643.4L299.1 640.9M293.1 643.3L290.7 643.4M293.1 643.3L294.4 639.6M293.1 643.3L290.7 641.5M290.7 643.4L288.3 643.6M290.7 643.4L290.7 641.5M288.3 643.6L286.0 643.9M288.3 643.6L287.9 641.3M288.3 643.6L290.7 641.5M286.0 643.9L283.6 644.3M286.0 643.9L285.3 639.9M286.0 643.9L287.9 641.3M283.6 644.3L281.3 644.8M283.6 644.3L285.3 639.9M283.6 644.3L281.9 641.6M281.3 644.8L279.0 645.5M281.3 644.8L278.0 641.8M281.3 644.8L281.9 641.6M279.0 645.5L276.7 646.2M279.0 645.5L278.0 641.8M276.7 646.2L274.5 647.1M276.7 646.2L278.0 641.8M276.7 646.2L274.4 644.8M274.5 647.1L272.3 648.0M274.5 647.1L274.4 644.8M272.3 648.0L270.1 649.1M272.3 648.0L269.8 645.2M272.3 648.0L274.4 644.8M270.1 649.1L268.1 650.3M270.1 649.1L269.8 645.2M270.1 649.1L266.9 648.4M268.1 650.3L266.0 651.6M268.1 650.3L266.9 648.4M266.0 651.6L264.1 653.0M266.0 651.6L263.2 649.6M266.0 651.6L266.9 648.4M264.1 653.0L262.2 654.5M264.1 653.0L263.2 649.6M264.1 653.0L260.5 652.5M262.2 654.5L260.4 656.0M262.2 654.5L260.5 652.5M260.4 656.0L258.7 657.7M260.4 656.0L258.6 654.9M260.4 656.0L260.5 652.5M258.7 657.7L257.0 659.4M258.7 657.7L256.3 656.1M258.7 657.7L258.6 654.9M257.0 659.4L255.4 661.2M257.0 659.4L256.3 656.1M257.0 659.4L254.6 658.2M255.4 661.2L254.0 663.1M255.4 661.2L252.3 660.1M255.4 661.2L254.6 658.2M254.0 663.1L252.6 665.1M254.0 663.1L252.3 660.1M254.0 663.1L250.2 664.2M252.6 665.1L251.3 667.1M252.6 665.1L250.2 664.2M251.3 667.1L250.1 669.2M251.3 667.1L250.2 664.2M251.3 667.1L248.5 668.1M250.1 669.2L249.1 671.3M250.1 669.2L248.5 668.1M249.1 671.3L248.1 673.5M249.1 671.3L245.4 670.6M249.1 671.3L248.5 668.1M248.1 673.5L247.3 675.8M248.1 673.5L245.4 670.6M248.1 673.5L245.2 675.0M247.3 675.8L246.5 678.0M247.3 675.8L245.2 675.0M246.5 678.0L245.9 680.3M246.5 678.0L243.3 677.9M246.5 678.0L245.2 675.0M245.9 680.3L245.3 682.7M245.9 680.3L243.3 677.9M245.9 680.3L242.9 680.8M245.3 682.7L244.9 685.0M245.3 682.7L241.6 683.6M245.3 682.7L242.9 680.8M244.9 685.0L244.7 687.4M244.9 685.0L241.8 687.0M244.9 685.0L241.6 683.6M244.7 687.4L244.6 688.6M244.7 687.4L241.8 687.0M244.7 687.4L243.2 689.3M244.6 688.6L244.5 689.8M244.6 688.6L243.2 689.3M244.5 689.8L244.4 692.2M244.5 689.8L243.2 689.3M244.4 692.2L244.5 694.6M244.4 692.2L239.5 694.2M244.4 692.2L243.2 689.3M244.4 692.2L240.0 690.2M244.4 692.2L242.6 696.1M244.5 694.6L244.7 697.0M244.5 694.6L242.6 696.1M244.7 697.0L245.0 699.4M244.7 697.0L242.6 696.1M244.7 697.0L243.1 699.5M245.0 699.4L245.4 701.7M245.0 699.4L243.1 699.5M245.4 701.7L245.9 704.1M245.4 701.7L241.5 702.9M245.4 701.7L244.6 704.7M245.4 701.7L243.1 699.5M245.9 704.1L246.2 705.2M245.9 704.1L244.6 704.7M246.2 705.2L246.6 706.4M246.2 705.2L244.6 704.7M246.2 705.2L245.4 706.7M246.6 706.4L246.9 707.5M246.6 706.4L245.4 706.7M246.9 707.5L247.3 708.6M246.9 707.5L245.4 709.2M246.9 707.5L245.4 706.7M247.3 708.6L248.2 710.9M247.3 708.6L245.4 709.2M248.2 710.9L249.1 713.1M248.2 710.9L245.6 713.5M248.2 710.9L245.4 709.2M249.1 713.1L250.2 715.2M249.1 713.1L245.6 713.5M249.1 713.1L247.8 714.9M250.2 715.2L251.4 717.3M250.2 715.2L247.2 717.6M250.2 715.2L247.8 714.9M251.4 717.3L252.7 719.3M251.4 717.3L247.2 717.6M251.4 717.3L249.8 720.9M252.7 719.3L254.1 721.3M252.7 719.3L252.6 722.3M252.7 719.3L249.8 720.9M254.1 721.3L254.8 722.2M254.1 721.3L252.6 722.3M254.8 722.2L255.6 723.1M254.8 722.2L252.6 722.3M254.8 722.2L254.2 724.5M255.6 723.1L257.1 724.9M255.6 723.1L254.2 724.5M257.1 724.9L258.8 726.7M257.1 724.9L255.3 729.2M257.1 724.9L254.2 724.5M258.8 726.7L260.5 728.3M258.8 726.7L259.2 729.7M258.8 726.7L255.3 729.2M260.5 728.3L261.4 729.1M260.5 728.3L259.2 729.7M261.4 729.1L262.3 729.9M261.4 729.1L259.2 729.7M261.4 729.1L261.4 731.2M262.3 729.9L264.2 731.4M262.3 729.9L261.4 731.2M264.2 731.4L266.2 732.7M264.2 731.4L262.8 733.8M264.2 731.4L261.4 731.2M266.2 732.7L268.2 734.0M266.2 732.7L265.3 736.2M266.2 732.7L262.8 733.8M266.2 732.7L267.9 735.1M268.2 734.0L269.2 734.6M268.2 734.0L267.9 735.1M269.2 734.6L270.3 735.2M269.2 734.6L267.9 735.1M270.3 735.2L271.4 735.7M270.3 735.2L268.3 737.5M270.3 735.2L271.3 737.7M270.3 735.2L267.9 735.1M271.4 735.7L272.4 736.3M271.4 735.7L271.3 737.7M272.4 736.3L274.6 737.2M272.4 736.3L271.3 737.7M274.6 737.2L276.9 738.1M274.6 737.2L272.6 741.5M274.6 737.2L271.3 737.7M274.6 737.2L276.5 740.8M276.9 738.1L279.1 738.8M276.9 738.1L276.5 740.8M279.1 738.8L281.4 739.5M279.1 738.8L279.7 742.3M279.1 738.8L276.5 740.8M281.4 739.5L283.8 740.0M281.4 739.5L279.7 742.3M281.4 739.5L283.2 742.1M283.8 740.0L286.1 740.4M283.8 740.0L283.2 742.1M286.1 740.4L288.5 740.7M286.1 740.4L286.1 744.6M286.1 740.4L283.2 742.1M288.5 740.7L290.9 740.9M288.5 740.7L286.1 744.6M288.5 740.7L289.5 743.6M290.9 740.9L293.3 740.9M290.9 740.9L292.4 743.9M290.9 740.9L289.5 743.6M293.3 740.9L295.7 740.8M293.3 740.9L292.4 743.9M293.3 740.9L295.7 743.0M295.7 740.8L298.1 740.7M295.7 740.8L295.7 743.0M298.1 740.7L300.5 740.4M298.1 740.7L299.4 744.7M298.1 740.7L295.7 743.0M300.5 740.4L302.8 740.0M300.5 740.4L299.4 744.7M300.5 740.4L302.4 742.7M302.8 740.0L305.2 739.4M302.8 740.0L305.2 742.1M302.8 740.0L302.4 742.7M305.2 739.4L307.5 738.8M305.2 739.4L305.2 742.1M305.2 739.4L307.8 740.3M307.5 738.8L308.6 738.4M307.5 738.8L307.8 740.3M308.6 738.4L309.7 738.0M308.6 738.4L310.8 740.0M308.6 738.4L307.8 740.3M309.7 738.0L312.0 737.2M309.7 738.0L310.8 740.0M312.0 737.2L314.2 736.2M312.0 737.2L310.8 740.0M312.0 737.2L314.9 738.8M314.2 736.2L316.3 735.1M314.2 736.2L314.9 738.8M316.3 735.1L318.4 733.9M316.3 735.1L319.5 737.6M316.3 735.1L314.9 738.8M318.4 733.9L320.4 732.6M318.4 733.9L319.5 737.6M318.4 733.9L321.5 734.4M320.4 732.6L322.4 731.3M320.4 732.6L321.5 734.4M322.4 731.3L324.2 729.8M322.4 731.3L325.2 733.2M322.4 731.3L321.5 734.4M324.2 729.8L326.0 728.2M324.2 729.8L327.0 730.1M324.2 729.8L325.2 733.2M326.0 728.2L326.9 727.4M326.0 728.2L327.0 730.1M326.0 728.2L327.5 728.2M326.9 727.4L327.8 726.6M326.9 727.4L327.5 728.2M327.8 726.6L329.4 724.8M327.8 726.6L329.7 728.1M327.8 726.6L327.5 728.2M329.4 724.8L331.0 723.0M329.4 724.8L329.7 728.1M329.4 724.8L331.8 725.8M331.0 723.0L332.5 721.1M331.0 723.0L334.3 724.1M331.0 723.0L331.8 725.8M332.5 721.1L333.8 719.2M332.5 721.1L334.3 724.1M332.5 721.1L336.1 721.3M333.8 719.2L335.1 717.1M333.8 719.2L336.1 721.3M333.8 719.2L337.4 717.9M335.1 717.1L336.3 715.0M335.1 717.1L337.4 717.9M336.3 715.0L337.4 712.9M336.3 715.0L338.9 715.1M336.3 715.0L337.4 717.9M337.4 712.9L338.3 710.7M337.4 712.9L338.9 715.1M337.4 712.9L340.4 712.7M338.3 710.7L339.2 708.5M338.3 710.7L341.7 708.9M338.3 710.7L340.4 712.7M339.2 708.5L339.9 706.2M339.2 708.5L341.7 708.9M339.9 706.2L340.6 703.9M339.9 706.2L342.9 705.2M339.9 706.2L341.7 708.9M340.6 703.9L341.1 701.6M340.6 703.9L342.5 702.1M340.6 703.9L342.9 705.2M341.1 701.6L341.3 700.4M341.1 701.6L342.5 702.1M341.3 700.4L341.5 699.2M341.3 700.4L343.6 699.5M341.3 700.4L342.5 702.1M341.5 699.2L341.8 696.8M341.5 699.2L343.6 699.5M341.8 696.8L342.0 694.4M341.8 696.8L343.6 699.5M341.8 696.8L344.9 696.1M342.0 694.4L342.0 692.0M342.0 694.4L344.9 696.1M342.0 694.4L344.8 693.2M342.0 692.0L345.1 690.3M342.0 692.0L344.8 693.2M163.1 822.2L228.2 822.2M163.1 822.2L163.1 777.5M163.1 822.2L206.2 780.0M228.2 822.2L260.7 822.2M228.2 822.2L206.2 780.0M228.2 822.2L244.5 779.5M228.2 822.2L263.0 798.0M260.7 822.2L293.2 822.2M260.7 822.2L263.0 798.0M260.7 822.2L287.5 800.0M293.2 822.2L309.5 822.2M293.2 822.2L287.5 800.0M309.5 822.2L325.7 822.2M309.5 822.2L287.5 800.0M309.5 822.2L317.5 805.0M325.7 822.2L358.3 822.2M325.7 822.2L317.5 805.0M325.7 822.2L333.8 798.0M358.3 822.2L423.3 822.2M358.3 822.2L388.0 778.0M358.3 822.2L347.5 776.2M358.3 822.2L333.8 798.0M423.3 822.2L553.4 822.2M423.3 822.2L433.8 724.2M423.3 822.2L388.0 778.0M423.3 822.2L515.8 745.8M553.4 822.2L618.5 822.2M553.4 822.2L625.5 734.2M553.4 822.2L515.8 745.8M618.5 822.2L683.5 822.2M618.5 822.2L625.5 734.2M683.5 822.2L748.6 822.2M683.5 822.2L625.5 734.2M683.5 822.2L705.5 752.5M748.6 822.2L813.6 822.2M748.6 822.2L758.0 702.0M748.6 822.2L705.5 752.5M748.6 822.2L831.8 761.2M813.6 822.2L878.7 822.2M813.6 822.2L831.8 761.2M878.7 822.2L943.7 822.2M878.7 822.2L831.8 761.2M878.7 822.2L913.0 749.2M878.7 822.2L949.2 776.8M943.7 822.2L1008.8 822.2M943.7 822.2L949.2 776.8M1008.8 822.2L1073.9 822.2M1008.8 822.2L949.2 776.8M1008.8 822.2L1013.8 752.0M1073.9 822.2L1151.9 822.2M1073.9 822.2L1013.8 752.0M1073.9 822.2L1060.0 718.8M1073.9 822.2L1133.0 713.2M1151.9 822.2L1204.0 822.2M1151.9 822.2L1204.0 732.8M1151.9 822.2L1133.0 713.2M1204.0 822.2L1204.0 732.8M163.1 106.6L189.1 106.6M163.1 106.6L163.1 151.4M189.1 106.6L228.2 106.6M189.1 106.6L163.1 151.4M189.1 106.6L199.4 146.4M228.2 106.6L260.7 106.6M228.2 106.6L199.4 146.4M228.2 106.6L234.7 137.2M260.7 106.6L293.2 106.6M260.7 106.6L234.7 137.2M260.7 106.6L265.5 136.2M260.7 106.6L291.7 133.3M293.2 106.6L358.3 106.6M293.2 106.6L291.7 133.3M293.2 106.6L322.0 146.4M358.3 106.6L390.8 106.6M358.3 106.6L322.0 146.4M358.3 106.6L359.2 151.6M390.8 106.6L423.3 106.6M390.8 106.6L359.2 151.6M390.8 106.6L413.6 137.5M423.3 106.6L455.9 106.6M423.3 106.6L413.6 137.5M423.3 106.6L445.9 138.0M455.9 106.6L488.4 106.6M455.9 106.6L481.2 149.5M455.9 106.6L445.9 138.0M488.4 106.6L553.4 106.6M488.4 106.6L481.2 149.5M488.4 106.6L539.0 164.0M553.4 106.6L618.5 106.6M553.4 106.6L539.0 164.0M553.4 106.6L602.5 167.5M618.5 106.6L683.5 106.6M618.5 106.6L602.5 167.5M683.5 106.6L813.6 106.6M683.5 106.6L602.5 167.5M683.5 106.6L713.0 178.0M813.6 106.6L878.7 106.6M813.6 106.6L713.0 178.0M813.6 106.6L777.0 221.8M813.6 106.6L887.0 167.5M878.7 106.6L943.7 106.6M878.7 106.6L887.0 167.5M878.7 106.6L930.0 140.0M943.7 106.6L1008.8 106.6M943.7 106.6L930.0 140.0M943.7 106.6L966.2 140.5M1008.8 106.6L1041.3 106.6M1008.8 106.6L966.2 140.5M1008.8 106.6L1004.5 152.5M1008.8 106.6L1026.2 143.0M1041.3 106.6L1073.9 106.6M1041.3 106.6L1026.2 143.0M1041.3 106.6L1048.8 132.5M1073.9 106.6L1106.4 106.6M1073.9 106.6L1048.8 132.5M1073.9 106.6L1072.0 130.0M1106.4 106.6L1138.9 106.6M1106.4 106.6L1072.0 130.0M1106.4 106.6L1114.4 135.0M1138.9 106.6L1171.4 106.6M1138.9 106.6L1114.4 135.0M1138.9 106.6L1137.0 131.0M1171.4 106.6L1204.0 106.6M1171.4 106.6L1137.0 131.0M1171.4 106.6L1175.0 137.6M1204.0 106.6L1204.0 151.4M1204.0 106.6L1175.0 137.6M163.1 777.5L163.1 732.8M163.1 777.5L190.5 746.2M163.1 777.5L206.2 780.0M163.1 732.8L163.1 688.1M163.1 732.8L211.2 723.8M163.1 732.8L190.5 746.2M163.1 688.1L163.1 643.3M163.1 688.1L203.8 659.5M163.1 688.1L209.5 691.2M163.1 688.1L211.2 723.8M163.1 643.3L163.1 598.6M163.1 643.3L190.0 634.5M163.1 643.3L203.8 659.5M163.1 598.6L163.1 553.9M163.1 598.6L232.5 602.5M163.1 598.6L190.0 634.5M163.1 553.9L163.1 464.4M163.1 553.9L240.0 479.5M163.1 553.9L250.5 557.5M163.1 553.9L232.5 602.5M163.1 464.4L163.1 375.0M163.1 464.4L233.2 394.5M163.1 464.4L240.0 479.5M163.1 375.0L163.1 285.5M163.1 375.0L233.2 394.5M163.1 375.0L209.2 311.2M163.1 285.5L163.1 240.8M163.1 285.5L204.5 258.6M163.1 285.5L209.2 311.2M163.1 240.8L163.1 196.1M163.1 240.8L203.4 225.5M163.1 240.8L204.5 258.6M163.1 196.1L163.1 151.4M163.1 196.1L203.0 194.5M163.1 196.1L203.4 225.5M163.1 151.4L199.4 146.4M163.1 151.4L203.0 194.5M1204.0 732.8L1204.0 643.3M1204.0 732.8L1133.0 713.2M1204.0 643.3L1204.0 553.9M1204.0 643.3L1121.3 641.2M1204.0 643.3L1133.0 713.2M1204.0 553.9L1204.0 464.4M1204.0 553.9L1121.3 641.2M1204.0 553.9L1127.5 508.8M1204.0 553.9L1088.8 572.4M1204.0 464.4L1204.0 419.7M1204.0 464.4L1160.8 442.0M1204.0 464.4L1127.5 508.8M1204.0 419.7L1204.0 375.0M1204.0 419.7L1164.5 374.5M1204.0 419.7L1160.8 442.0M1204.0 375.0L1204.0 330.3M1204.0 375.0L1163.0 335.0M1204.0 375.0L1164.5 374.5M1204.0 330.3L1204.0 285.5M1204.0 330.3L1163.0 335.0M1204.0 330.3L1160.4 307.0M1204.0 285.5L1204.0 240.8M1204.0 285.5L1181.0 261.0M1204.0 285.5L1160.4 307.0M1204.0 240.8L1204.0 196.1M1204.0 240.8L1170.0 210.0M1204.0 240.8L1164.0 243.6M1204.0 240.8L1181.0 261.0M1204.0 196.1L1204.0 173.7M1204.0 196.1L1182.0 175.0M1204.0 196.1L1170.0 210.0M1204.0 173.7L1204.0 151.4M1204.0 173.7L1182.0 175.0M1204.0 151.4L1175.0 137.6M1204.0 151.4L1182.0 175.0M481.2 149.5L539.0 164.0M481.2 149.5L489.0 186.0M481.2 149.5L445.9 138.0M481.2 149.5L451.1 171.1M481.2 149.5L465.8 184.7M539.0 164.0L602.5 167.5M539.0 164.0L554.0 208.0M539.0 164.0L507.5 209.2M539.0 164.0L489.0 186.0M602.5 167.5L713.0 178.0M602.5 167.5L705.0 255.0M602.5 167.5L635.5 293.8M602.5 167.5L565.0 269.5M602.5 167.5L554.0 208.0M713.0 178.0L777.0 221.8M713.0 178.0L705.0 255.0M777.0 221.8L705.0 255.0M777.0 221.8L761.2 328.8M777.0 221.8L887.0 167.5M777.0 221.8L879.5 231.8M777.0 221.8L820.0 321.2M705.0 255.0L635.5 293.8M705.0 255.0L690.8 333.0M705.0 255.0L761.2 328.8M635.5 293.8L565.0 269.5M635.5 293.8L570.5 312.0M635.5 293.8L690.8 333.0M635.5 293.8L608.0 348.0M635.5 293.8L641.2 354.2M565.0 269.5L554.0 208.0M565.0 269.5L528.2 247.0M565.0 269.5L525.0 286.2M565.0 269.5L570.5 312.0M554.0 208.0L507.5 209.2M554.0 208.0L528.2 247.0M507.5 209.2L489.0 186.0M507.5 209.2L528.2 247.0M507.5 209.2L497.0 235.0M507.5 209.2L480.8 211.2M489.0 186.0L469.1 203.4M489.0 186.0L480.8 211.2M489.0 186.0L465.8 184.7M528.2 247.0L497.0 235.0M528.2 247.0L525.0 286.2M528.2 247.0L505.0 269.2M528.2 247.0L497.5 253.9M497.0 235.0L480.8 211.2M497.0 235.0L497.5 253.9M497.0 235.0L477.1 225.4M497.0 235.0L481.8 236.9M497.0 235.0L489.1 244.0M525.0 286.2L570.5 312.0M525.0 286.2L519.5 322.0M525.0 286.2L500.0 296.8M525.0 286.2L505.0 269.2M525.0 286.2L499.1 282.0M570.5 312.0L519.5 322.0M570.5 312.0L577.5 380.0M570.5 312.0L608.0 348.0M519.5 322.0L500.0 296.8M519.5 322.0L489.0 314.2M519.5 322.0L491.2 337.0M519.5 322.0L504.2 375.0M519.5 322.0L577.5 380.0M500.0 296.8L489.0 314.2M500.0 296.8L499.1 282.0M500.0 296.8L487.0 297.1M500.0 296.8L492.3 288.8M505.0 269.2L497.5 253.9M505.0 269.2L499.1 282.0M505.0 269.2L491.7 265.9M505.0 269.2L494.2 274.5M489.0 314.2L491.2 337.0M489.0 314.2L487.0 297.1M489.0 314.2L476.2 319.1M489.0 314.2L479.0 305.6M690.8 333.0L761.2 328.8M690.8 333.0L725.0 356.8M690.8 333.0L641.2 354.2M690.8 333.0L684.5 363.8M690.8 333.0L701.0 362.0M761.2 328.8L820.0 321.2M761.2 328.8L773.8 359.2M761.2 328.8L745.0 371.2M761.2 328.8L725.0 356.8M491.2 337.0L472.5 351.3M491.2 337.0L504.2 375.0M491.2 337.0L471.9 332.3M491.2 337.0L476.2 319.1M887.0 167.5L930.0 140.0M887.0 167.5L949.5 171.8M887.0 167.5L937.5 205.5M887.0 167.5L879.5 231.8M930.0 140.0L966.2 140.5M930.0 140.0L949.5 171.8M966.2 140.5L1004.5 152.5M966.2 140.5L949.5 171.8M966.2 140.5L993.0 170.8M1004.5 152.5L1026.2 143.0M1004.5 152.5L993.0 170.8M1004.5 152.5L1025.0 167.5M1004.5 152.5L1014.0 177.0M1026.2 143.0L1048.8 132.5M1026.2 143.0L1025.0 167.5M1026.2 143.0L1045.5 157.5M1048.8 132.5L1072.0 130.0M1048.8 132.5L1045.5 157.5M1048.8 132.5L1062.5 152.5M1072.0 130.0L1062.5 152.5M1072.0 130.0L1080.0 153.8M1072.0 130.0L1114.4 135.0M949.5 171.8L993.0 170.8M949.5 171.8L937.5 205.5M949.5 171.8L971.2 199.5M993.0 170.8L971.2 199.5M993.0 170.8L1004.2 188.8M993.0 170.8L1014.0 177.0M1025.0 167.5L1045.5 157.5M1025.0 167.5L1014.0 177.0M1025.0 167.5L1027.4 181.1M1025.0 167.5L1036.6 173.0M1045.5 157.5L1062.5 152.5M1045.5 157.5L1046.4 171.3M1045.5 157.5L1055.3 165.3M1045.5 157.5L1036.6 173.0M1062.5 152.5L1080.0 153.8M1062.5 152.5L1065.0 166.0M1062.5 152.5L1055.3 165.3M1062.5 152.5L1074.4 163.0M1080.0 153.8L1114.4 135.0M1080.0 153.8L1107.0 156.6M1080.0 153.8L1088.2 165.7M1080.0 153.8L1074.4 163.0M937.5 205.5L971.2 199.5M937.5 205.5L879.5 231.8M937.5 205.5L956.8 240.8M937.5 205.5L968.8 217.0M971.2 199.5L1004.2 188.8M971.2 199.5L968.8 217.0M971.2 199.5L995.0 207.5M971.2 199.5L987.0 219.0M1004.2 188.8L995.0 207.5M1004.2 188.8L1014.0 177.0M1004.2 188.8L1010.9 203.2M1004.2 188.8L1019.4 191.4M879.5 231.8L956.8 240.8M879.5 231.8L925.0 277.5M879.5 231.8L820.0 321.2M879.5 231.8L888.0 336.2M956.8 240.8L968.8 217.0M956.8 240.8L980.0 232.5M956.8 240.8L981.2 245.0M956.8 240.8L925.0 277.5M956.8 240.8L972.5 270.0M968.8 217.0L980.0 232.5M968.8 217.0L987.0 219.0M995.0 207.5L987.0 219.0M995.0 207.5L996.9 225.9M995.0 207.5L1010.9 203.2M995.0 207.5L1007.7 216.7M980.0 232.5L981.2 245.0M980.0 232.5L992.5 241.2M980.0 232.5L987.0 219.0M980.0 232.5L996.9 225.9M981.2 245.0L992.5 241.2M981.2 245.0L972.5 270.0M981.2 245.0L992.5 253.8M992.5 241.2L992.5 253.8M992.5 241.2L996.9 225.9M992.5 241.2L1003.4 245.2M992.5 241.2L1004.6 235.8M925.0 277.5L972.5 270.0M925.0 277.5L888.0 336.2M925.0 277.5L955.0 314.5M972.5 270.0L994.5 285.5M972.5 270.0L992.5 253.8M972.5 270.0L955.0 314.5M972.5 270.0L993.9 268.7M994.5 285.5L955.0 314.5M994.5 285.5L1005.0 312.5M994.5 285.5L1015.0 279.0M994.5 285.5L1021.3 295.7M994.5 285.5L1006.4 271.7M994.5 285.5L993.9 268.7M992.5 253.8L1004.3 261.9M992.5 253.8L1003.4 245.2M992.5 253.8L1006.6 253.2M992.5 253.8L993.9 268.7M820.0 321.2L888.0 336.2M820.0 321.2L798.0 383.0M820.0 321.2L773.8 359.2M888.0 336.2L955.0 314.5M888.0 336.2L983.0 359.2M888.0 336.2L798.0 383.0M888.0 336.2L886.2 414.2M955.0 314.5L1005.0 312.5M955.0 314.5L983.0 359.2M1005.0 312.5L1037.5 312.5M1005.0 312.5L983.0 359.2M1005.0 312.5L1031.8 340.5M1005.0 312.5L1021.3 295.7M1037.5 312.5L1031.8 340.5M1037.5 312.5L1051.0 320.0M1037.5 312.5L1021.3 295.7M1037.5 312.5L1046.9 304.1M1037.5 312.5L1036.1 300.3M1061.2 307.5L1051.0 320.0M1061.2 307.5L1068.0 321.0M1061.2 307.5L1046.9 304.1M1061.2 307.5L1067.4 301.8M1061.2 307.5L1053.8 297.9M1061.2 307.5L1063.2 298.4M1061.2 307.5L1069.8 308.7M1061.2 307.5L1058.9 298.0M280.0 338.2L330.8 348.0M280.0 338.2L233.2 394.5M280.0 338.2L306.2 399.2M280.0 338.2L269.8 295.9M280.0 338.2L209.2 311.2M280.0 338.2L299.1 307.7M280.0 338.2L312.3 322.2M330.8 348.0L357.5 338.2M330.8 348.0L354.5 368.8M330.8 348.0L306.2 399.2M330.8 348.0L312.3 322.2M330.8 348.0L331.6 318.8M330.8 348.0L346.7 323.8M357.5 338.2L383.2 357.0M357.5 338.2L354.5 368.8M357.5 338.2L346.7 323.8M357.5 338.2L375.0 337.0M357.5 338.2L362.5 320.6M383.2 357.0L354.5 368.8M383.2 357.0L411.2 352.0M383.2 357.0L380.0 392.5M383.2 357.0L413.0 382.0M383.2 357.0L375.0 337.0M383.2 357.0L397.7 341.2M354.5 368.8L306.2 399.2M354.5 368.8L344.2 404.5M354.5 368.8L380.0 392.5M411.2 352.0L427.5 355.0M411.2 352.0L413.0 382.0M411.2 352.0L397.7 341.2M411.2 352.0L417.2 337.8M411.2 352.0L408.6 339.9M427.5 355.0L454.5 352.5M427.5 355.0L413.0 382.0M427.5 355.0L465.5 383.7M427.5 355.0L439.5 342.5M427.5 355.0L429.7 337.8M427.5 355.0L417.2 337.8M454.5 352.5L465.5 383.7M454.5 352.5L472.5 351.3M454.5 352.5L439.5 342.5M454.5 352.5L449.2 336.2M454.5 352.5L460.5 334.6M233.2 394.5L306.2 399.2M233.2 394.5L240.0 479.5M233.2 394.5L209.2 311.2M306.2 399.2L344.2 404.5M306.2 399.2L316.2 461.2M306.2 399.2L240.0 479.5M344.2 404.5L380.0 392.5M344.2 404.5L374.2 435.0M344.2 404.5L316.2 461.2M380.0 392.5L413.0 382.0M380.0 392.5L374.2 435.0M380.0 392.5L414.5 446.2M413.0 382.0L465.5 383.7M413.0 382.0L414.5 446.2M413.0 382.0L452.5 425.5M465.5 383.7L452.5 425.5M465.5 383.7L472.5 351.3M465.5 383.7L504.2 375.0M465.5 383.7L494.2 415.0M374.2 435.0L414.5 446.2M374.2 435.0L316.2 461.2M374.2 435.0L369.5 495.0M414.5 446.2L452.5 425.5M414.5 446.2L369.5 495.0M414.5 446.2L461.2 485.8M452.5 425.5L461.2 485.8M452.5 425.5L494.2 415.0M452.5 425.5L516.2 459.5M316.2 461.2L240.0 479.5M316.2 461.2L369.5 495.0M316.2 461.2L314.5 549.2M240.0 479.5L314.5 549.2M240.0 479.5L250.5 557.5M369.5 495.0L461.2 485.8M369.5 495.0L314.5 549.2M369.5 495.0L352.5 560.0M369.5 495.0L388.8 559.2M461.2 485.8L388.8 559.2M461.2 485.8L461.2 548.2M461.2 485.8L516.2 459.5M461.2 485.8L518.8 508.8M314.5 549.2L250.5 557.5M314.5 549.2L352.5 560.0M314.5 549.2L291.8 582.0M314.5 549.2L327.5 586.2M250.5 557.5L232.5 602.5M250.5 557.5L272.5 600.0M250.5 557.5L291.8 582.0M352.5 560.0L388.8 559.2M352.5 560.0L327.5 586.2M352.5 560.0L351.2 597.0M388.8 559.2L461.2 548.2M388.8 559.2L351.2 597.0M388.8 559.2L376.2 610.5M388.8 559.2L433.8 599.5M461.2 548.2L433.8 599.5M461.2 548.2L486.8 600.8M461.2 548.2L518.8 508.8M461.2 548.2L518.8 558.8M232.5 602.5L190.0 634.5M232.5 602.5L218.0 640.0M232.5 602.5L272.5 600.0M232.5 602.5L251.2 627.9M190.0 634.5L218.0 640.0M190.0 634.5L203.8 659.5M218.0 640.0L203.8 659.5M218.0 640.0L244.5 641.2M218.0 640.0L231.4 658.7M218.0 640.0L251.2 627.9M203.8 659.5L209.5 691.2M203.8 659.5L222.5 676.2M203.8 659.5L231.4 658.7M209.5 691.2L211.2 723.8M209.5 691.2L222.5 676.2M209.5 691.2L225.0 703.8M209.5 691.2L227.5 687.2M209.5 691.2L228.7 696.7M211.2 723.8L190.5 746.2M211.2 723.8L221.2 745.5M211.2 723.8L225.0 703.8M211.2 723.8L232.3 714.9M211.2 723.8L227.9 728.9M190.5 746.2L221.2 745.5M190.5 746.2L206.2 780.0M221.2 745.5L206.2 780.0M221.2 745.5L235.9 736.4M221.2 745.5L235.2 754.1M221.2 745.5L227.9 728.9M206.2 780.0L244.5 779.5M206.2 780.0L235.2 754.1M244.5 779.5L278.8 778.8M244.5 779.5L270.0 757.5M244.5 779.5L263.0 798.0M244.5 779.5L255.0 748.0M244.5 779.5L235.2 754.1M278.8 778.8L292.5 761.2M278.8 778.8L270.0 757.5M278.8 778.8L263.0 798.0M278.8 778.8L287.5 800.0M278.8 778.8L313.8 781.2M278.8 778.8L301.2 764.3M272.5 600.0L291.8 582.0M272.5 600.0L267.5 626.2M272.5 600.0L290.0 608.0M272.5 600.0L282.0 625.0M272.5 600.0L251.2 627.9M291.8 582.0L307.0 603.0M291.8 582.0L327.5 586.2M291.8 582.0L290.0 608.0M307.0 603.0L327.5 586.2M307.0 603.0L290.0 608.0M307.0 603.0L328.0 613.0M307.0 603.0L307.6 624.3M307.0 603.0L318.3 623.3M307.0 603.0L295.9 622.5M327.5 586.2L351.2 597.0M327.5 586.2L328.0 613.0M351.2 597.0L376.2 610.5M351.2 597.0L348.0 625.5M351.2 597.0L328.0 613.0M376.2 610.5L390.0 639.5M376.2 610.5L433.8 599.5M376.2 610.5L348.0 625.5M376.2 610.5L363.0 639.0M390.0 639.5L433.8 599.5M390.0 639.5L474.5 672.5M390.0 639.5L412.5 695.8M390.0 639.5L383.8 675.5M390.0 639.5L367.0 653.6M390.0 639.5L363.0 639.0M433.8 599.5L474.5 672.5M433.8 599.5L486.8 600.8M474.5 672.5L412.5 695.8M474.5 672.5L433.8 724.2M474.5 672.5L486.8 600.8M474.5 672.5L539.5 604.2M474.5 672.5L614.2 651.2M474.5 672.5L515.8 745.8M412.5 695.8L433.8 724.2M412.5 695.8L379.5 738.8M412.5 695.8L378.8 708.0M412.5 695.8L383.8 675.5M433.8 724.2L388.0 778.0M433.8 724.2L379.5 738.8M433.8 724.2L515.8 745.8M388.0 778.0L379.5 738.8M388.0 778.0L347.5 776.2M388.0 778.0L355.0 756.0M379.5 738.8L378.8 708.0M379.5 738.8L355.0 756.0M379.5 738.8L363.0 723.6M379.5 738.8L351.3 734.4M378.8 708.0L383.8 675.5M378.8 708.0L361.2 697.5M378.8 708.0L363.0 723.6M378.8 708.0L357.7 709.9M378.8 708.0L366.5 688.4M383.8 675.5L367.0 653.6M383.8 675.5L360.7 673.9M383.8 675.5L366.5 688.4M348.0 625.5L328.0 613.0M348.0 625.5L363.0 639.0M348.0 625.5L329.7 630.2M348.0 625.5L345.7 644.3M348.0 625.5L336.4 639.0M267.5 626.2L282.0 625.0M267.5 626.2L274.5 634.7M267.5 626.2L264.0 633.6M267.5 626.2L251.2 627.9M244.5 641.2L231.4 658.7M244.5 641.2L244.6 653.7M244.5 641.2L252.3 640.7M244.5 641.2L251.2 627.9M244.5 641.2L250.7 648.0M361.2 697.5L352.0 700.5M361.2 697.5L357.7 709.9M361.2 697.5L357.1 692.7M361.2 697.5L366.5 688.4M347.5 776.2L330.0 765.0M347.5 776.2L333.8 798.0M347.5 776.2L355.0 756.0M330.0 765.0L333.8 798.0M330.0 765.0L313.8 781.2M330.0 765.0L355.0 756.0M330.0 765.0L338.3 744.7M330.0 765.0L314.0 760.0M330.0 765.0L328.7 748.7M330.0 765.0L320.1 749.9M292.5 761.2L270.0 757.5M292.5 761.2L284.0 751.0M292.5 761.2L299.1 752.8M292.5 761.2L292.2 752.2M292.5 761.2L301.2 764.3M270.0 757.5L255.0 748.0M270.0 757.5L267.0 745.3M270.0 757.5L284.0 751.0M270.0 757.5L275.9 746.5M222.5 676.2L227.5 687.2M222.5 676.2L231.4 658.7M222.5 676.2L234.4 672.5M222.5 676.2L232.0 680.4M225.0 703.8L232.3 714.9M225.0 703.8L232.2 704.6M225.0 703.8L228.7 696.7M263.0 798.0L287.5 800.0M287.5 800.0L317.5 805.0M287.5 800.0L313.8 781.2M317.5 805.0L333.8 798.0M317.5 805.0L313.8 781.2M333.8 798.0L313.8 781.2M313.8 781.2L314.0 760.0M313.8 781.2L301.2 764.3M486.8 600.8L539.5 604.2M486.8 600.8L518.8 558.8M539.5 604.2L606.2 600.5M539.5 604.2L614.2 651.2M539.5 604.2L561.8 533.0M539.5 604.2L518.8 558.8M539.5 604.2L593.8 566.2M606.2 600.5L634.2 603.8M606.2 600.5L614.2 651.2M606.2 600.5L593.8 566.2M606.2 600.5L628.8 560.0M634.2 603.8L662.5 601.2M634.2 603.8L651.2 633.0M634.2 603.8L614.2 651.2M634.2 603.8L628.8 560.0M634.2 603.8L648.6 578.0M662.5 601.2L682.0 620.0M662.5 601.2L651.2 633.0M662.5 601.2L696.6 577.6M662.5 601.2L648.6 578.0M714.5 608.0L762.0 608.8M714.5 608.0L682.0 620.0M714.5 608.0L711.2 648.0M714.5 608.0L728.0 575.6M714.5 608.0L696.6 577.6M762.0 608.8L711.2 648.0M762.0 608.8L758.0 702.0M762.0 608.8L803.0 632.5M762.0 608.8L762.0 561.2M762.0 608.8L728.0 575.6M762.0 608.8L792.0 586.6M682.0 620.0L651.2 633.0M682.0 620.0L711.2 648.0M682.0 620.0L688.8 681.2M682.0 620.0L696.6 577.6M651.2 633.0L614.2 651.2M651.2 633.0L688.8 681.2M711.2 648.0L688.8 681.2M711.2 648.0L758.0 702.0M614.2 651.2L688.8 681.2M614.2 651.2L625.5 734.2M614.2 651.2L515.8 745.8M688.8 681.2L758.0 702.0M688.8 681.2L625.5 734.2M688.8 681.2L705.5 752.5M758.0 702.0L705.5 752.5M758.0 702.0L803.0 632.5M758.0 702.0L830.0 697.5M758.0 702.0L831.8 761.2M625.5 734.2L515.8 745.8M625.5 734.2L705.5 752.5M803.0 632.5L822.5 605.0M803.0 632.5L850.5 623.2M803.0 632.5L848.0 650.5M803.0 632.5L830.0 697.5M803.0 632.5L792.0 586.6M822.5 605.0L853.8 591.2M822.5 605.0L850.5 623.2M822.5 605.0L792.0 586.6M822.5 605.0L825.0 571.0M853.8 591.2L850.5 623.2M853.8 591.2L876.2 615.0M853.8 591.2L856.2 545.5M853.8 591.2L825.0 571.0M853.8 591.2L877.0 580.0M853.8 591.2L885.4 600.4M850.5 623.2L876.2 615.0M850.5 623.2L848.0 650.5M850.5 623.2L873.0 639.0M876.2 615.0L885.4 600.4M876.2 615.0L873.0 639.0M876.2 615.0L887.4 632.3M876.2 615.0L892.6 610.7M876.2 615.0L891.9 621.8M848.0 650.5L874.5 653.8M848.0 650.5L877.5 678.0M848.0 650.5L830.0 697.5M848.0 650.5L873.0 639.0M874.5 653.8L877.5 678.0M874.5 653.8L873.0 639.0M874.5 653.8L891.8 659.0M874.5 653.8L885.5 645.8M877.5 678.0L830.0 697.5M877.5 678.0L877.5 717.5M877.5 678.0L897.5 676.2M877.5 678.0L898.4 685.0M877.5 678.0L891.8 659.0M830.0 697.5L877.5 717.5M830.0 697.5L831.8 761.2M877.5 717.5L831.8 761.2M877.5 717.5L913.0 749.2M877.5 717.5L905.5 706.2M877.5 717.5L898.4 685.0M831.8 761.2L913.0 749.2M913.0 749.2L952.5 731.8M913.0 749.2L949.2 776.8M913.0 749.2L905.5 706.2M913.0 749.2L928.0 710.0M952.5 731.8L949.2 776.8M952.5 731.8L1013.8 752.0M952.5 731.8L982.5 705.0M952.5 731.8L928.0 710.0M952.5 731.8L943.8 699.5M949.2 776.8L1013.8 752.0M1013.8 752.0L1060.0 718.8M1013.8 752.0L1011.2 696.2M1013.8 752.0L982.5 705.0M1060.0 718.8L1011.2 696.2M1060.0 718.8L1030.5 673.2M1060.0 718.8L1060.0 655.5M1060.0 718.8L1133.0 713.2M1011.2 696.2L982.5 705.0M1011.2 696.2L1030.5 673.2M1011.2 696.2L1000.0 672.5M1011.2 696.2L990.0 682.0M982.5 705.0L943.8 699.5M982.5 705.0L962.0 686.2M982.5 705.0L990.0 682.0M1030.5 673.2L1060.0 655.5M1030.5 673.2L1027.5 643.8M1030.5 673.2L1006.2 650.5M1030.5 673.2L1000.0 672.5M1060.0 655.5L1027.5 643.8M1060.0 655.5L1060.8 622.0M1060.0 655.5L1121.3 641.2M1060.0 655.5L1133.0 713.2M1027.5 643.8L1020.0 623.2M1027.5 643.8L1060.8 622.0M1027.5 643.8L1006.2 650.5M1027.5 643.8L1003.3 632.6M1020.0 623.2L1060.8 622.0M1020.0 623.2L1039.5 599.5M1020.0 623.2L1008.2 602.0M1020.0 623.2L1003.3 632.6M1020.0 623.2L999.3 616.4M1060.8 622.0L1039.5 599.5M1060.8 622.0L1121.3 641.2M1060.8 622.0L1088.8 572.4M1039.5 599.5L1008.2 602.0M1039.5 599.5L1025.0 548.0M1039.5 599.5L1001.0 578.0M1039.5 599.5L1088.8 572.4M1008.2 602.0L1001.0 578.0M1008.2 602.0L994.0 606.0M1008.2 602.0L999.3 616.4M1008.2 602.0L992.9 594.7M1006.2 650.5L1000.0 672.5M1006.2 650.5L1003.3 632.6M1006.2 650.5L993.5 647.1M1006.2 650.5L989.4 656.1M1006.2 650.5L997.2 641.4M1000.0 672.5L990.0 682.0M1000.0 672.5L983.9 667.5M1000.0 672.5L989.4 656.1M905.5 706.2L928.0 710.0M905.5 706.2L920.0 688.8M905.5 706.2L898.4 685.0M905.5 706.2L910.1 682.4M928.0 710.0L943.8 699.5M928.0 710.0L920.0 688.8M943.8 699.5L920.0 688.8M943.8 699.5L962.0 686.2M943.8 699.5L949.0 680.5M943.8 699.5L937.2 683.1M920.0 688.8L929.2 678.6M920.0 688.8L937.2 683.1M920.0 688.8L920.9 679.1M920.0 688.8L910.1 682.4M962.0 686.2L990.0 682.0M962.0 686.2L971.5 672.9M962.0 686.2L949.0 680.5M962.0 686.2L959.0 674.2M897.5 676.2L898.4 685.0M897.5 676.2L909.4 669.6M897.5 676.2L891.8 659.0M897.5 676.2L902.0 664.8M897.5 676.2L910.1 682.4M1121.3 641.2L1133.0 713.2M1121.3 641.2L1088.8 572.4M983.0 359.2L1031.8 340.5M983.0 359.2L1030.8 393.2M983.0 359.2L886.2 414.2M983.0 359.2L955.0 452.5M1031.8 340.5L1058.8 348.2M1031.8 340.5L1030.8 393.2M1031.8 340.5L1051.0 320.0M1058.8 348.2L1079.2 340.0M1058.8 348.2L1085.0 380.0M1058.8 348.2L1030.8 393.2M1058.8 348.2L1051.0 320.0M1058.8 348.2L1068.0 321.0M1079.2 340.0L1106.3 342.5M1079.2 340.0L1085.0 380.0M1079.2 340.0L1068.0 321.0M1079.2 340.0L1089.0 319.0M1106.3 342.5L1137.0 347.0M1106.3 342.5L1085.0 380.0M1106.3 342.5L1118.0 374.5M1106.3 342.5L1089.0 319.0M1106.3 342.5L1110.0 313.6M1106.3 342.5L1124.0 321.0M1137.0 347.0L1163.0 335.0M1137.0 347.0L1118.0 374.5M1137.0 347.0L1164.5 374.5M1137.0 347.0L1124.0 321.0M1137.0 347.0L1141.0 318.0M1163.0 335.0L1164.5 374.5M1163.0 335.0L1141.0 318.0M1163.0 335.0L1160.4 307.0M1085.0 380.0L1118.0 374.5M1085.0 380.0L1030.8 393.2M1085.0 380.0L1111.8 435.7M1118.0 374.5L1164.5 374.5M1118.0 374.5L1111.8 435.7M1118.0 374.5L1160.8 442.0M1164.5 374.5L1160.8 442.0M1030.8 393.2L1111.8 435.7M1030.8 393.2L1022.0 479.2M1030.8 393.2L955.0 452.5M1111.8 435.7L1160.8 442.0M1111.8 435.7L1022.0 479.2M1111.8 435.7L1127.5 508.8M1160.8 442.0L1127.5 508.8M1022.0 479.2L1127.5 508.8M1022.0 479.2L973.8 502.5M1022.0 479.2L993.8 524.5M1022.0 479.2L1025.0 548.0M1022.0 479.2L955.0 452.5M1127.5 508.8L1025.0 548.0M1127.5 508.8L1088.8 572.4M973.8 502.5L993.8 524.5M973.8 502.5L973.8 532.0M973.8 502.5L955.0 452.5M973.8 502.5L945.0 506.2M993.8 524.5L973.8 532.0M993.8 524.5L1025.0 548.0M993.8 524.5L988.8 560.0M973.8 532.0L988.8 560.0M973.8 532.0L971.2 552.5M973.8 532.0L945.0 506.2M973.8 532.0L955.0 541.8M1025.0 548.0L988.8 560.0M1025.0 548.0L1001.0 578.0M1025.0 548.0L1088.8 572.4M988.8 560.0L971.2 552.5M988.8 560.0L971.0 573.0M988.8 560.0L1001.0 578.0M988.8 560.0L982.4 583.4M971.2 552.5L955.0 541.8M971.2 552.5L955.0 563.8M971.2 552.5L971.0 573.0M798.0 383.0L773.8 359.2M798.0 383.0L764.5 388.8M798.0 383.0L781.2 412.5M798.0 383.0L886.2 414.2M798.0 383.0L818.2 437.0M773.8 359.2L745.0 371.2M773.8 359.2L764.5 388.8M745.0 371.2L725.0 356.8M745.0 371.2L764.5 388.8M745.0 371.2L738.8 395.5M745.0 371.2L727.4 389.0M725.0 356.8L710.0 375.0M725.0 356.8L701.0 362.0M725.0 356.8L727.4 389.0M764.5 388.8L738.8 395.5M764.5 388.8L781.2 412.5M764.5 388.8L757.0 414.5M738.8 395.5L757.0 414.5M738.8 395.5L727.4 389.0M738.8 395.5L741.1 410.7M738.8 395.5L731.7 403.5M781.2 412.5L757.0 414.5M781.2 412.5L818.2 437.0M781.2 412.5L773.8 440.0M757.0 414.5L773.8 440.0M757.0 414.5L741.1 410.7M757.0 414.5L752.7 430.6M757.0 414.5L746.4 419.6M886.2 414.2L818.2 437.0M886.2 414.2L955.0 452.5M886.2 414.2L879.5 485.0M886.2 414.2L918.0 477.5M818.2 437.0L773.8 440.0M818.2 437.0L784.5 465.0M818.2 437.0L825.5 480.5M818.2 437.0L879.5 485.0M773.8 440.0L784.5 465.0M773.8 440.0L767.0 458.0M773.8 440.0L756.6 445.7M773.8 440.0L752.7 430.6M784.5 465.0L825.5 480.5M784.5 465.0L771.2 481.8M784.5 465.0L787.0 500.5M784.5 465.0L767.0 458.0M955.0 452.5L918.0 477.5M955.0 452.5L945.0 506.2M825.5 480.5L879.5 485.0M825.5 480.5L787.0 500.5M825.5 480.5L808.8 541.2M825.5 480.5L856.2 545.5M879.5 485.0L918.0 477.5M879.5 485.0L856.2 545.5M879.5 485.0L896.8 533.0M879.5 485.0L919.2 516.2M918.0 477.5L919.2 516.2M918.0 477.5L945.0 506.2M771.2 481.8L787.0 500.5M771.2 481.8L767.0 458.0M771.2 481.8L761.0 497.8M771.2 481.8L757.3 476.8M771.2 481.8L758.7 485.6M771.2 481.8L759.1 467.7M787.0 500.5L769.2 517.5M787.0 500.5L808.8 541.2M787.0 500.5L761.0 497.8M769.2 517.5L808.8 541.2M769.2 517.5L762.0 561.2M769.2 517.5L743.8 530.0M769.2 517.5L761.0 497.8M769.2 517.5L748.2 507.8M769.2 517.5L742.6 518.5M808.8 541.2L856.2 545.5M808.8 541.2L762.0 561.2M808.8 541.2L792.0 586.6M808.8 541.2L825.0 571.0M856.2 545.5L896.8 533.0M856.2 545.5L892.5 563.8M856.2 545.5L825.0 571.0M856.2 545.5L877.0 580.0M896.8 533.0L919.2 516.2M896.8 533.0L892.5 563.8M896.8 533.0L915.6 543.0M896.8 533.0L909.0 562.0M919.2 516.2L945.0 506.2M919.2 516.2L935.0 541.8M919.2 516.2L915.6 543.0M945.0 506.2L935.0 541.8M945.0 506.2L955.0 541.8M935.0 541.8L955.0 541.8M935.0 541.8L926.2 559.5M935.0 541.8L915.6 543.0M935.0 541.8L941.1 559.6M955.0 541.8L955.0 563.8M955.0 541.8L941.1 559.6M926.2 559.5L915.6 543.0M926.2 559.5L909.0 562.0M926.2 559.5L921.3 574.1M926.2 559.5L934.0 573.6M926.2 559.5L941.1 559.6M762.0 561.2L743.8 530.0M762.0 561.2L729.5 543.8M762.0 561.2L728.0 575.6M762.0 561.2L792.0 586.6M743.8 530.0L729.5 543.8M743.8 530.0L730.0 527.4M743.8 530.0L742.6 518.5M729.5 543.8L711.2 548.0M729.5 543.8L728.0 575.6M729.5 543.8L730.0 527.4M729.5 543.8L715.5 531.9M955.0 563.8L971.0 573.0M955.0 563.8L951.9 575.4M955.0 563.8L959.3 574.2M955.0 563.8L944.5 572.6M955.0 563.8L941.1 559.6M892.5 563.8L909.0 562.0M892.5 563.8L877.0 580.0M892.5 563.8L897.9 582.2M892.5 563.8L908.1 575.4M472.5 351.3L504.2 375.0M472.5 351.3L471.9 332.3M472.5 351.3L460.5 334.6M504.2 375.0L577.5 380.0M504.2 375.0L494.2 415.0M504.2 375.0L535.0 412.5M577.5 380.0L608.0 348.0M577.5 380.0L610.0 381.2M577.5 380.0L535.0 412.5M577.5 380.0L583.8 412.5M577.5 380.0L604.5 397.5M608.0 348.0L641.2 354.2M608.0 348.0L610.0 381.2M608.0 348.0L630.0 372.5M641.2 354.2L630.0 372.5M641.2 354.2L662.5 375.0M641.2 354.2L684.5 363.8M641.2 354.2L647.0 384.0M610.0 381.2L630.0 372.5M610.0 381.2L604.5 397.5M610.0 381.2L632.0 393.6M630.0 372.5L632.0 393.6M630.0 372.5L647.0 384.0M662.5 375.0L684.5 363.8M662.5 375.0L647.0 384.0M662.5 375.0L675.0 381.0M662.5 375.0L664.5 390.1M684.5 363.8L701.0 362.0M684.5 363.8L675.0 381.0M684.5 363.8L693.1 379.2M710.0 375.0L701.0 362.0M710.0 375.0L727.4 389.0M710.0 375.0L702.9 387.6M710.0 375.0L713.5 392.1M710.0 375.0L693.1 379.2M494.2 415.0L535.0 412.5M494.2 415.0L516.2 459.5M535.0 412.5L583.8 412.5M535.0 412.5L576.2 439.2M535.0 412.5L516.2 459.5M583.8 412.5L604.5 397.5M583.8 412.5L610.5 415.0M583.8 412.5L576.2 439.2M583.8 412.5L602.4 434.0M604.5 397.5L610.5 415.0M604.5 397.5L632.0 393.6M604.5 397.5L624.3 409.8M610.5 415.0L602.4 434.0M610.5 415.0L624.3 409.8M610.5 415.0L616.1 431.2M610.5 415.0L620.6 421.2M576.2 439.2L516.2 459.5M576.2 439.2L590.0 463.8M576.2 439.2L561.8 484.5M576.2 439.2L602.4 434.0M576.2 439.2L602.0 449.0M516.2 459.5L561.8 484.5M516.2 459.5L518.8 508.8M590.0 463.8L596.2 481.2M590.0 463.8L561.8 484.5M590.0 463.8L602.0 449.0M590.0 463.8L606.1 464.1M596.2 481.2L561.8 484.5M596.2 481.2L599.5 503.0M596.2 481.2L606.1 464.1M596.2 481.2L610.1 482.4M596.2 481.2L610.2 474.3M596.2 481.2L610.4 491.1M561.8 484.5L518.8 508.8M561.8 484.5L599.5 503.0M561.8 484.5L561.8 533.0M518.8 508.8L561.8 533.0M518.8 508.8L518.8 558.8M599.5 503.0L561.8 533.0M599.5 503.0L610.0 533.8M599.5 503.0L617.4 515.0M599.5 503.0L616.3 501.2M599.5 503.0L610.4 491.1M561.8 533.0L610.0 533.8M561.8 533.0L518.8 558.8M561.8 533.0L593.8 566.2M610.0 533.8L634.5 535.0M610.0 533.8L593.8 566.2M610.0 533.8L628.8 560.0M610.0 533.8L617.4 515.0M610.0 533.8L628.3 521.9M634.5 535.0L628.8 560.0M634.5 535.0L657.5 556.2M634.5 535.0L647.3 530.0M634.5 535.0L628.3 521.9M634.5 535.0L640.8 522.9M634.5 535.0L654.3 537.6M593.8 566.2L628.8 560.0M628.8 560.0L657.5 556.2M628.8 560.0L648.6 578.0M657.5 556.2L680.0 551.2M657.5 556.2L696.6 577.6M657.5 556.2L648.6 578.0M657.5 556.2L666.4 541.0M657.5 556.2L654.3 537.6M680.0 551.2L695.0 547.0M680.0 551.2L696.6 577.6M680.0 551.2L666.4 541.0M680.0 551.2L685.7 537.8M680.0 551.2L675.6 536.9M711.2 548.0L695.0 547.0M711.2 548.0L728.0 575.6M711.2 548.0L696.6 577.6M711.2 548.0L703.8 536.5M711.2 548.0L715.5 531.9M199.4 146.4L234.7 137.2M199.4 146.4L228.8 168.0M199.4 146.4L203.0 194.5M234.7 137.2L265.5 136.2M234.7 137.2L254.2 160.5M234.7 137.2L228.8 168.0M265.5 136.2L291.7 133.3M265.5 136.2L254.2 160.5M265.5 136.2L280.3 158.1M291.7 133.3L322.0 146.4M291.7 133.3L280.3 158.1M291.7 133.3L303.4 158.1M322.0 146.4L303.4 158.1M322.0 146.4L334.7 164.1M322.0 146.4L359.2 151.6M322.0 146.4L319.3 161.1M254.2 160.5L280.3 158.1M254.2 160.5L228.8 168.0M254.2 160.5L249.1 184.8M254.2 160.5L265.7 175.7M280.3 158.1L303.4 158.1M280.3 158.1L276.4 176.6M280.3 158.1L288.1 176.6M280.3 158.1L265.7 175.7M280.3 158.1L295.1 169.2M303.4 158.1L313.9 167.2M303.4 158.1L305.0 169.9M303.4 158.1L295.1 169.2M303.4 158.1L319.3 161.1M228.8 168.0L203.0 194.5M228.8 168.0L234.2 193.3M228.8 168.0L249.1 184.8M203.0 194.5L234.2 193.3M203.0 194.5L230.3 210.2M203.0 194.5L203.4 225.5M234.2 193.3L249.1 184.8M234.2 193.3L230.3 210.2M234.2 193.3L250.1 201.2M249.1 184.8L263.6 190.6M249.1 184.8L265.7 175.7M249.1 184.8L250.1 201.2M276.4 176.6L288.1 176.6M276.4 176.6L280.8 185.0M276.4 176.6L272.4 184.6M276.4 176.6L265.7 175.7M276.4 176.6L284.8 181.1M288.1 176.6L291.3 182.3M288.1 176.6L284.8 181.1M288.1 176.6L295.0 177.5M288.1 176.6L295.1 169.2M313.9 167.2L312.3 174.4M313.9 167.2L305.0 169.9M313.9 167.2L321.4 171.0M313.9 167.2L319.3 161.1M334.7 164.1L359.2 151.6M334.7 164.1L345.6 176.6M334.7 164.1L329.4 174.7M334.7 164.1L321.4 171.0M334.7 164.1L336.4 176.0M334.7 164.1L319.3 161.1M230.3 210.2L246.7 220.6M230.3 210.2L203.4 225.5M230.3 210.2L231.1 238.6M230.3 210.2L250.1 201.2M246.7 220.6L231.1 238.6M246.7 220.6L260.3 211.5M246.7 220.6L257.9 222.6M246.7 220.6L250.6 232.0M246.7 220.6L250.1 201.2M203.4 225.5L231.1 238.6M203.4 225.5L204.5 258.6M231.1 238.6L252.2 243.0M231.1 238.6L204.5 258.6M231.1 238.6L237.7 266.7M231.1 238.6L250.6 232.0M252.2 243.0L237.7 266.7M252.2 243.0L259.1 237.1M252.2 243.0L262.3 262.3M252.2 243.0L250.6 232.0M252.2 243.0L262.9 246.1M359.2 151.6L413.6 137.5M359.2 151.6L397.5 164.8M359.2 151.6L345.6 176.6M359.2 151.6L362.0 181.6M359.2 151.6L378.8 175.5M204.5 258.6L237.7 266.7M204.5 258.6L209.2 311.2M237.7 266.7L269.8 295.9M237.7 266.7L209.2 311.2M237.7 266.7L262.3 262.3M272.5 270.9L269.8 295.9M272.5 270.9L285.0 276.4M272.5 270.9L282.3 261.3M272.5 270.9L288.6 269.4M272.5 270.9L272.9 260.3M272.5 270.9L262.3 262.3M269.8 295.9L209.2 311.2M269.8 295.9L285.0 276.4M269.8 295.9L299.1 307.7M269.8 295.9L262.3 262.3M285.0 276.4L302.2 278.8M285.0 276.4L299.1 307.7M285.0 276.4L288.6 269.4M302.2 278.8L299.1 307.7M302.2 278.8L316.2 302.7M302.2 278.8L317.2 284.4M302.2 278.8L298.1 267.3M302.2 278.8L310.7 273.9M302.2 278.8L288.6 269.4M302.2 278.8L305.0 269.9M299.1 307.7L316.2 302.7M299.1 307.7L312.3 322.2M316.2 302.7L331.1 291.7M316.2 302.7L312.3 322.2M316.2 302.7L331.6 318.8M316.2 302.7L317.2 284.4M331.1 291.7L331.6 318.8M331.1 291.7L347.7 283.9M331.1 291.7L317.2 284.4M331.1 291.7L347.5 308.2M331.1 291.7L332.0 274.6M331.1 291.7L351.8 293.7M312.3 322.2L331.6 318.8M331.6 318.8L346.7 323.8M331.6 318.8L347.5 308.2M346.7 323.8L362.5 320.6M346.7 323.8L347.5 308.2M375.0 337.0L397.7 341.2M375.0 337.0L362.5 320.6M375.0 337.0L389.2 330.5M375.0 337.0L379.3 324.1M397.7 341.2L404.9 333.6M397.7 341.2L389.2 330.5M397.7 341.2L408.6 339.9M397.7 341.2L398.4 330.1M439.5 342.5L449.2 336.2M439.5 342.5L429.7 337.8M439.5 342.5L439.1 331.9M471.9 332.3L476.2 319.1M471.9 332.3L465.2 322.9M471.9 332.3L460.5 334.6M449.2 336.2L452.5 327.6M449.2 336.2L439.1 331.9M449.2 336.2L446.3 328.3M449.2 336.2L460.5 334.6M429.7 337.8L417.2 337.8M429.7 337.8L424.1 332.0M429.7 337.8L439.1 331.9M429.7 337.8L431.1 330.2M417.2 337.8L424.1 332.0M417.2 337.8L418.1 330.2M417.2 337.8L408.6 339.9M417.2 337.8L411.8 333.2M389.1 323.8L394.2 324.5M389.1 323.8L391.6 319.5M389.1 323.8L389.2 330.5M389.1 323.8L379.3 324.1M389.1 323.8L385.7 319.2M362.5 320.6L367.2 308.1M362.5 320.6L379.3 324.1M362.5 320.6L373.5 315.5M362.5 320.6L347.5 308.2M362.5 320.6L360.1 303.6M347.7 283.9L343.8 272.2M347.7 283.9L359.4 283.9M347.7 283.9L353.2 277.8M347.7 283.9L332.0 274.6M347.7 283.9L351.8 293.7M343.8 272.2L353.2 277.8M343.8 272.2L349.8 262.2M343.8 272.2L338.8 262.8M343.8 272.2L354.5 271.3M343.8 272.2L332.0 274.6M357.8 266.7L362.9 267.9M357.8 266.7L358.9 257.6M357.8 266.7L360.8 271.4M357.8 266.7L349.8 262.2M357.8 266.7L362.4 263.6M357.8 266.7L354.5 271.3M359.4 283.9L360.2 276.9M359.4 283.9L364.3 281.4M359.4 283.9L364.1 293.1M359.4 283.9L353.2 277.8M359.4 283.9L366.5 286.4M359.4 283.9L351.8 293.7M367.2 308.1L367.8 300.3M367.2 308.1L374.8 308.5M367.2 308.1L373.7 303.1M367.2 308.1L373.5 315.5M367.2 308.1L360.1 303.6M318.8 270.3L317.2 284.4M318.8 270.3L310.9 265.7M318.8 270.3L317.1 263.0M318.8 270.3L310.7 273.9M318.8 270.3L325.9 267.0M318.8 270.3L332.0 274.6M318.8 270.3L321.6 264.4M317.2 284.4L310.7 273.9M317.2 284.4L332.0 274.6M413.6 137.5L445.9 138.0M413.6 137.5L397.5 164.8M413.6 137.5L428.0 165.9M445.9 138.0L428.0 165.9M445.9 138.0L451.1 171.1M397.5 164.8L428.0 165.9M397.5 164.8L378.8 175.5M397.5 164.8L399.2 186.7M397.5 164.8L411.2 181.6M428.0 165.9L451.1 171.1M428.0 165.9L411.2 181.6M428.0 165.9L423.0 188.8M428.0 165.9L435.5 188.8M451.1 171.1L435.5 188.8M451.1 171.1L449.5 194.2M451.1 171.1L465.8 184.7M345.6 176.6L362.0 181.6M345.6 176.6L346.3 187.4M345.6 176.6L336.4 176.0M345.6 176.6L340.6 182.1M362.0 181.6L378.8 175.5M362.0 181.6L369.1 196.9M362.0 181.6L355.8 198.8M362.0 181.6L346.3 187.4M362.0 181.6L351.5 192.4M378.8 175.5L399.2 186.7M378.8 175.5L369.1 196.9M378.8 175.5L390.2 196.1M399.2 186.7L411.2 181.6M399.2 186.7L390.2 196.1M399.2 186.7L404.6 197.6M411.2 181.6L423.0 188.8M411.2 181.6L415.9 197.7M411.2 181.6L404.6 197.6M423.0 188.8L435.5 188.8M423.0 188.8L430.0 199.2M423.0 188.8L415.9 197.7M423.0 188.8L422.6 197.7M435.5 188.8L449.5 194.2M435.5 188.8L430.0 199.2M435.5 188.8L443.4 202.7M435.5 188.8L434.4 202.8M449.5 194.2L443.4 202.7M449.5 194.2L455.9 201.6M449.5 194.2L465.8 184.7M469.1 203.4L480.8 211.2M469.1 203.4L459.7 212.3M469.1 203.4L470.3 214.7M469.1 203.4L455.9 201.6M469.1 203.4L465.8 184.7M480.8 211.2L477.1 225.4M480.8 211.2L470.3 214.7M369.1 196.9L355.8 198.8M369.1 196.9L390.2 196.1M369.1 196.9L378.4 206.2M369.1 196.9L362.3 206.1M355.8 198.8L348.5 202.1M355.8 198.8L351.5 192.4M355.8 198.8L362.3 206.1M355.8 198.8L351.8 206.8M355.8 198.8L349.0 197.8M390.2 196.1L378.4 206.2M390.2 196.1L398.1 205.5M390.2 196.1L390.1 206.5M390.2 196.1L404.6 197.6M430.0 199.2L428.5 206.3M430.0 199.2L422.6 197.7M430.0 199.2L422.3 204.7M430.0 199.2L434.4 202.8M378.4 206.2L364.7 214.9M378.4 206.2L387.9 211.9M378.4 206.2L379.3 220.0M378.4 206.2L390.1 206.5M378.4 206.2L362.3 206.1M378.4 206.2L385.0 216.6M378.4 206.2L372.1 218.9M497.5 253.9L487.0 250.6M497.5 253.9L491.7 265.9M497.5 253.9L488.0 257.7M497.5 253.9L489.1 244.0M499.1 282.0L489.0 281.1M499.1 282.0L492.3 288.8M499.1 282.0L494.2 274.5M1114.4 135.0L1137.0 131.0M1114.4 135.0L1107.0 156.6M1114.4 135.0L1126.0 168.0M1137.0 131.0L1175.0 137.6M1137.0 131.0L1126.0 168.0M1137.0 131.0L1148.0 152.4M1175.0 137.6L1148.0 152.4M1175.0 137.6L1162.0 165.0M1175.0 137.6L1182.0 175.0M1065.0 166.0L1059.7 171.0M1065.0 166.0L1071.9 170.4M1065.0 166.0L1055.3 165.3M1065.0 166.0L1074.4 163.0M1065.0 166.0L1065.7 173.7M1107.0 156.6L1126.0 168.0M1107.0 156.6L1110.2 172.2M1107.0 156.6L1088.2 165.7M1107.0 156.6L1099.4 170.0M1126.0 168.0L1148.0 152.4M1126.0 168.0L1129.5 183.3M1126.0 168.0L1110.2 172.2M1126.0 168.0L1117.2 182.6M1126.0 168.0L1143.7 177.9M1148.0 152.4L1162.0 165.0M1148.0 152.4L1143.7 177.9M1162.0 165.0L1182.0 175.0M1162.0 165.0L1161.6 185.0M1162.0 165.0L1143.7 177.9M1182.0 175.0L1161.6 185.0M1182.0 175.0L1170.0 210.0M1161.6 185.0L1170.0 210.0M1161.6 185.0L1143.6 196.0M1161.6 185.0L1149.5 207.2M1161.6 185.0L1143.7 177.9M1170.0 210.0L1158.0 226.0M1170.0 210.0L1164.0 243.6M1170.0 210.0L1149.5 207.2M1143.6 196.0L1136.7 203.2M1143.6 196.0L1149.5 207.2M1143.6 196.0L1134.5 192.8M1143.6 196.0L1143.7 177.9M1158.0 226.0L1164.0 243.6M1158.0 226.0L1148.4 238.8M1158.0 226.0L1143.0 219.2M1158.0 226.0L1142.5 230.0M1158.0 226.0L1149.5 207.2M1164.0 243.6L1181.0 261.0M1164.0 243.6L1150.0 260.0M1164.0 243.6L1148.4 238.8M1164.0 243.6L1146.7 249.4M1181.0 261.0L1150.0 260.0M1181.0 261.0L1143.6 283.0M1181.0 261.0L1160.4 307.0M1150.0 260.0L1143.6 283.0M1150.0 260.0L1136.4 269.6M1150.0 260.0L1139.5 258.3M1150.0 260.0L1146.7 249.4M1143.6 283.0L1160.4 307.0M1143.6 283.0L1136.4 269.6M1143.6 283.0L1130.4 279.9M1143.6 283.0L1127.6 290.3M1143.6 283.0L1135.9 303.6M1014.0 177.0L1027.4 181.1M1014.0 177.0L1019.4 191.4M987.0 219.0L996.9 225.9M1015.0 279.0L1021.3 295.7M1015.0 279.0L1020.9 275.1M1015.0 279.0L1025.7 286.1M1015.0 279.0L1026.0 278.2M1015.0 279.0L1018.0 269.8M1015.0 279.0L1006.4 271.7M1051.0 320.0L1068.0 321.0M1051.0 320.0L1046.9 304.1M1068.0 321.0L1089.0 319.0M1068.0 321.0L1079.7 309.1M1068.0 321.0L1069.8 308.7M1089.0 319.0L1110.0 313.6M1089.0 319.0L1079.7 309.1M1089.0 319.0L1092.9 306.9M1110.0 313.6L1124.0 321.0M1110.0 313.6L1120.1 302.4M1110.0 313.6L1102.1 302.7M1110.0 313.6L1109.2 298.5M1110.0 313.6L1092.9 306.9M1124.0 321.0L1141.0 318.0M1124.0 321.0L1120.1 302.4M1124.0 321.0L1135.9 303.6M1141.0 318.0L1160.4 307.0M1141.0 318.0L1135.9 303.6M1160.4 307.0L1135.9 303.6M701.0 362.0L693.1 379.2M632.0 393.6L647.0 384.0M632.0 393.6L624.3 409.8M632.0 393.6L645.5 398.3M632.0 393.6L638.0 405.9M647.0 384.0L645.5 398.3M647.0 384.0L664.5 390.1M647.0 384.0L655.8 396.6M675.0 381.0L664.5 390.1M675.0 381.0L684.0 391.7M675.0 381.0L674.7 394.0M675.0 381.0L693.1 379.2M727.4 389.0L722.2 400.7M727.4 389.0L713.5 392.1M727.4 389.0L731.7 403.5M767.0 458.0L756.6 445.7M767.0 458.0L755.5 457.3M767.0 458.0L759.1 467.7M602.4 434.0L602.0 449.0M602.4 434.0L616.1 431.2M602.4 434.0L612.3 442.4M602.0 449.0L606.1 464.1M602.0 449.0L612.3 442.4M602.0 449.0L613.9 453.1M617.4 515.0L616.3 501.2M617.4 515.0L628.3 521.9M617.4 515.0L628.8 511.6M617.4 515.0L623.5 506.3M695.0 547.0L696.6 577.6M695.0 547.0L703.8 536.5M695.0 547.0L685.7 537.8M695.0 547.0L694.9 535.1M728.0 575.6L696.6 577.6M696.6 577.6L648.6 578.0M792.0 586.6L825.0 571.0M915.6 543.0L909.0 562.0M909.0 562.0L921.3 574.1M909.0 562.0L908.1 575.4M971.0 573.0L982.4 583.4M971.0 573.0L963.6 580.0M971.0 573.0L959.3 574.2M971.0 573.0L971.1 582.1M1001.0 578.0L982.4 583.4M1001.0 578.0L992.9 594.7M877.0 580.0L885.4 600.4M877.0 580.0L897.9 582.2M877.0 580.0L893.5 593.0M885.4 600.4L892.6 610.7M885.4 600.4L894.3 601.8M885.4 600.4L893.5 593.0M873.0 639.0L887.4 632.3M873.0 639.0L885.5 645.8M898.4 685.0L910.1 682.4M990.0 682.0L983.9 667.5M990.0 682.0L971.5 672.9M290.0 608.0L282.0 625.0M290.0 608.0L295.9 622.5M328.0 613.0L329.7 630.2M328.0 613.0L318.3 623.3M355.0 756.0L338.3 744.7M355.0 756.0L351.3 734.4M363.0 723.6L349.5 722.0M363.0 723.6L351.3 734.4M363.0 723.6L354.5 717.5M363.0 723.6L357.7 709.9M367.0 653.6L363.0 639.0M367.0 653.6L360.7 673.9M367.0 653.6L351.9 663.0M367.0 653.6L353.3 652.0M363.0 639.0L345.7 644.3M363.0 639.0L353.3 652.0M282.0 625.0L274.5 634.7M282.0 625.0L287.4 632.6M282.0 625.0L281.5 632.4M282.0 625.0L295.9 622.5M255.0 748.0L267.0 745.3M255.0 748.0L255.2 737.2M255.0 748.0L260.6 741.9M255.0 748.0L246.3 738.8M255.0 748.0L235.2 754.1M897.9 582.2L904.6 593.5M897.9 582.2L909.5 586.6M897.9 582.2L908.1 575.4M897.9 582.2L893.5 593.0M263.6 190.6L271.4 197.4M263.6 190.6L272.4 184.6M263.6 190.6L265.7 175.7M263.6 190.6L264.1 201.5M263.6 190.6L272.3 191.2M263.6 190.6L250.1 201.2M270.1 251.7L277.8 253.8M270.1 251.7L273.4 246.0M270.1 251.7L272.9 260.3M270.1 251.7L262.3 262.3M270.1 251.7L262.9 246.1M270.1 251.7L269.6 243.8M270.1 251.7L275.1 249.3M360.5 235.7L351.5 234.5M360.5 235.7L368.6 233.3M360.5 235.7L362.7 245.0M360.5 235.7L353.9 242.7M360.5 235.7L363.7 225.4M360.5 235.7L356.3 229.5M360.5 235.7L367.2 239.7M350.5 251.2L342.7 254.7M350.5 251.2L358.9 257.6M350.5 251.2L347.4 244.5M350.5 251.2L342.3 247.5M350.5 251.2L349.8 262.2M350.5 251.2L353.9 242.7M350.5 251.2L357.9 249.7M983.9 667.5L971.5 672.9M983.9 667.5L974.6 664.5M983.9 667.5L989.4 656.1M983.9 667.5L979.5 658.7M260.3 211.5L267.0 206.9M260.3 211.5L266.4 214.7M260.3 211.5L257.9 222.6M260.3 211.5L264.1 201.5M260.3 211.5L250.1 201.2M260.3 211.5L262.8 217.4M260.3 211.5L268.0 210.8M235.9 736.4L244.6 729.6M235.9 736.4L238.1 724.8M235.9 736.4L246.3 738.8M235.9 736.4L235.2 754.1M235.9 736.4L227.9 728.9M329.7 630.2L326.3 643.0M329.7 630.2L336.4 639.0M329.7 630.2L321.2 634.5M329.7 630.2L318.3 623.3M338.3 744.7L333.8 736.0M338.3 744.7L328.7 748.7M338.3 744.7L351.3 734.4M338.3 744.7L339.3 733.2M338.3 744.7L330.9 741.7M994.0 606.0L986.6 609.2M994.0 606.0L999.3 616.4M994.0 606.0L986.8 602.6M994.0 606.0L992.9 594.7M994.0 606.0L990.7 612.6M314.0 760.0L311.4 749.0M314.0 760.0L320.1 749.9M314.0 760.0L306.5 754.0M314.0 760.0L301.2 764.3M929.2 678.6L926.0 672.3M929.2 678.6L932.3 672.2M929.2 678.6L937.2 683.1M929.2 678.6L920.9 679.1M929.2 678.6L936.6 675.0M909.4 669.6L912.8 662.4M909.4 669.6L902.0 664.8M909.4 669.6L917.8 672.6M909.4 669.6L907.6 662.3M909.4 669.6L910.1 682.4M909.4 669.6L916.9 665.8M298.1 267.3L303.9 263.5M298.1 267.3L291.7 261.5M298.1 267.3L288.6 269.4M298.1 267.3L298.4 260.7M298.1 267.3L305.0 269.9M951.9 575.4L951.4 581.7M951.9 575.4L959.3 574.2M951.9 575.4L956.5 579.9M951.9 575.4L944.5 572.6M951.9 575.4L946.3 580.5M300.3 175.2L299.2 179.9M300.3 175.2L305.0 169.9M300.3 175.2L295.0 177.5M300.3 175.2L305.9 176.3M300.3 175.2L295.1 169.2M300.3 175.2L302.9 179.4M227.5 687.2L236.7 685.9M227.5 687.2L232.0 680.4M227.5 687.2L228.7 696.7M227.5 687.2L234.8 691.8M232.3 714.9L238.1 706.8M232.3 714.9L241.7 717.5M232.3 714.9L241.2 711.1M232.3 714.9L232.2 704.6M232.3 714.9L238.1 724.8M232.3 714.9L227.9 728.9M310.9 265.7L317.1 263.0M310.9 265.7L303.9 263.5M310.9 265.7L310.7 273.9M310.9 265.7L310.9 261.3M310.9 265.7L305.0 269.9M310.9 265.7L308.0 261.3M310.9 265.7L313.5 261.2M415.9 197.7L416.6 205.8M415.9 197.7L422.6 197.7M415.9 197.7L422.3 204.7M415.9 197.7L404.6 197.6M415.9 197.7L411.4 205.5M477.1 225.4L469.6 227.8M477.1 225.4L481.8 236.9M477.1 225.4L470.3 214.7M477.1 225.4L465.0 221.6M477.1 225.4L474.4 232.2M702.9 387.6L703.6 397.8M702.9 387.6L694.4 392.5M702.9 387.6L713.5 392.1M702.9 387.6L693.1 379.2M364.7 214.9L355.0 213.2M364.7 214.9L362.3 206.1M364.7 214.9L363.7 225.4M364.7 214.9L357.9 219.1M364.7 214.9L372.1 218.9M312.3 174.4L309.6 179.3M312.3 174.4L317.7 178.0M312.3 174.4L305.0 169.9M312.3 174.4L313.4 179.8M312.3 174.4L321.4 171.0M312.3 174.4L305.9 176.3M891.8 659.0L903.7 656.6M891.8 659.0L899.8 648.4M891.8 659.0L902.0 664.8M891.8 659.0L892.8 648.8M891.8 659.0L885.5 645.8M1003.3 632.6L993.7 623.6M1003.3 632.6L992.6 635.9M1003.3 632.6L991.6 629.5M1003.3 632.6L999.3 616.4M1003.3 632.6L997.2 641.4M606.1 464.1L615.2 461.0M606.1 464.1L610.2 474.3M606.1 464.1L613.9 453.1M606.1 464.1L614.8 467.2M487.0 297.1L482.1 291.5M487.0 297.1L479.0 305.6M487.0 297.1L492.3 288.8M487.0 297.1L486.0 288.0M487.0 297.1L479.8 297.0M982.4 583.4L983.2 596.2M982.4 583.4L973.0 588.4M982.4 583.4L976.6 593.9M982.4 583.4L971.1 582.1M982.4 583.4L992.9 594.7M267.0 745.3L265.3 740.1M267.0 745.3L275.9 746.5M267.0 745.3L269.1 740.5M267.0 745.3L260.6 741.9M267.0 745.3L272.6 741.5M756.6 445.7L752.7 430.6M756.6 445.7L750.3 451.0M756.6 445.7L749.0 438.2M756.6 445.7L755.5 457.3M756.6 445.7L747.4 444.6M459.7 212.3L457.4 218.9M459.7 212.3L449.3 210.6M459.7 212.3L470.3 214.7M459.7 212.3L465.0 221.6M459.7 212.3L451.9 216.6M459.7 212.3L455.9 201.6M616.3 501.2L625.0 499.2M616.3 501.2L610.4 491.1M616.3 501.2L623.5 506.3M616.3 501.2L621.3 492.4M352.0 700.5L347.2 698.7M352.0 700.5L349.4 692.9M352.0 700.5L347.2 707.6M352.0 700.5L357.7 709.9M352.0 700.5L357.1 692.7M352.0 700.5L345.8 702.5M887.4 632.3L893.6 641.8M887.4 632.3L891.9 621.8M887.4 632.3L896.2 635.0M887.4 632.3L895.0 629.0M887.4 632.3L885.5 645.8M307.6 624.3L313.6 632.7M307.6 624.3L301.1 631.2M307.6 624.3L318.3 623.3M307.6 624.3L306.9 632.8M307.6 624.3L295.9 622.5M360.7 673.9L351.9 663.0M360.7 673.9L355.7 685.2M360.7 673.9L348.6 673.2M360.7 673.9L366.5 688.4M360.7 673.9L351.8 679.4M921.3 574.1L934.0 573.6M921.3 574.1L916.9 583.0M921.3 574.1L928.9 581.1M921.3 574.1L908.1 575.4M921.3 574.1L923.4 582.4M259.1 230.2L257.9 222.6M259.1 230.2L259.1 237.1M259.1 230.2L250.6 232.0M259.1 230.2L265.0 232.9M259.1 230.2L264.7 226.4M722.2 400.7L719.0 406.2M722.2 400.7L713.5 392.1M722.2 400.7L731.7 403.5M722.2 400.7L713.4 401.2M722.2 400.7L725.5 411.0M231.4 658.7L234.4 672.5M231.4 658.7L244.6 653.7M231.4 658.7L240.1 666.7M231.4 658.7L241.9 660.7M345.7 644.3L334.6 649.6M345.7 644.3L341.7 657.2M345.7 644.3L336.4 639.0M345.7 644.3L353.3 652.0M380.0 317.8L383.2 315.4M380.0 317.8L379.2 312.3M380.0 317.8L379.3 324.1M380.0 317.8L373.5 315.5M380.0 317.8L385.7 319.2M487.0 250.6L482.9 254.1M487.0 250.6L481.7 245.1M487.0 250.6L488.0 257.7M487.0 250.6L481.7 250.0M487.0 250.6L489.1 244.0M330.9 263.5L325.1 261.0M330.9 263.5L332.9 257.6M330.9 263.5L325.9 267.0M330.9 263.5L338.8 262.8M330.9 263.5L328.4 257.6M330.9 263.5L332.0 274.6M282.3 261.3L277.8 253.8M282.3 261.3L291.7 261.5M282.3 261.3L288.6 269.4M282.3 261.3L284.4 254.5M282.3 261.3L272.9 260.3M282.3 261.3L287.8 257.7M329.4 174.7L329.5 181.4M329.4 174.7L321.4 171.0M329.4 174.7L336.4 176.0M329.4 174.7L323.3 179.2M329.4 174.7L332.5 178.2M971.5 672.9L974.6 664.5M971.5 672.9L959.0 674.2M971.5 672.9L964.0 667.9M971.5 672.9L969.2 666.6M949.0 680.5L959.0 674.2M949.0 680.5L942.3 675.3M949.0 680.5L951.7 671.8M949.0 680.5L937.2 683.1M949.0 680.5L946.7 672.9M993.5 647.1L989.4 656.1M993.5 647.1L985.3 646.6M993.5 647.1L990.2 641.7M993.5 647.1L997.2 641.4M892.6 610.7L899.9 605.1M892.6 610.7L891.9 621.8M892.6 610.7L901.3 611.5M892.6 610.7L894.3 601.8M892.6 610.7L899.2 618.2M452.5 327.6L448.9 324.4M452.5 327.6L457.3 322.4M452.5 327.6L446.3 328.3M452.5 327.6L460.5 334.6M452.5 327.6L451.7 321.6M346.3 187.4L345.4 195.0M346.3 187.4L338.3 188.1M346.3 187.4L351.5 192.4M346.3 187.4L340.6 182.1M346.3 187.4L340.7 193.6M1021.3 295.7L1025.7 286.1M1021.3 295.7L1033.5 291.6M1021.3 295.7L1036.1 300.3M761.0 497.8L748.2 507.8M761.0 497.8L750.2 490.4M761.0 497.8L745.6 498.5M761.0 497.8L758.7 485.6M1120.1 302.4L1109.2 298.5M1120.1 302.4L1114.7 289.2M1120.1 302.4L1127.6 290.3M1120.1 302.4L1135.9 303.6M367.8 300.3L372.8 298.8M367.8 300.3L364.1 293.1M367.8 300.3L373.7 303.1M367.8 300.3L369.9 295.7M367.8 300.3L360.1 303.6M259.3 639.1L257.8 647.0M259.3 639.1L267.4 639.9M259.3 639.1L264.0 645.0M259.3 639.1L264.0 633.6M259.3 639.1L252.3 640.7M259.3 639.1L251.2 627.9M1129.5 183.3L1117.2 182.6M1129.5 183.3L1124.6 192.6M1129.5 183.3L1134.5 192.8M1129.5 183.3L1143.7 177.9M349.5 722.0L348.8 714.3M349.5 722.0L340.4 725.0M349.5 722.0L342.2 717.3M349.5 722.0L351.3 734.4M349.5 722.0L354.5 717.5M360.2 276.9L364.3 281.4M360.2 276.9L365.3 277.3M360.2 276.9L353.2 277.8M360.2 276.9L360.8 271.4M360.2 276.9L354.5 271.3M360.2 276.9L363.5 274.3M963.6 580.0L959.5 585.1M963.6 580.0L959.3 574.2M963.6 580.0L965.7 587.0M963.6 580.0L956.5 579.9M963.6 580.0L971.1 582.1M666.4 541.0L675.6 536.9M666.4 541.0L662.0 533.1M666.4 541.0L668.7 530.9M666.4 541.0L654.3 537.6M424.1 332.0L418.1 330.2M424.1 332.0L431.1 330.2M424.1 332.0L422.8 327.3M424.1 332.0L427.0 327.7M1148.4 238.8L1142.5 230.0M1148.4 238.8L1141.0 244.8M1148.4 238.8L1146.7 249.4M1148.4 238.8L1138.0 239.0M624.3 409.8L638.0 405.9M624.3 409.8L628.7 420.8M624.3 409.8L635.9 415.3M624.3 409.8L620.6 421.2M280.8 185.0L281.9 189.7M280.8 185.0L287.1 185.3M280.8 185.0L272.4 184.6M280.8 185.0L285.2 188.6M280.8 185.0L284.8 181.1M280.8 185.0L277.4 189.3M476.2 319.1L479.0 305.6M476.2 319.1L465.2 322.9M476.2 319.1L471.7 309.1M476.2 319.1L466.1 313.9M996.9 225.9L1007.7 216.7M996.9 225.9L1004.6 235.8M996.9 225.9L1009.4 227.5M1110.2 172.2L1117.2 182.6M1110.2 172.2L1099.4 170.0M1110.2 172.2L1108.2 179.4M1110.2 172.2L1103.2 175.9M284.0 751.0L275.9 746.5M284.0 751.0L289.8 747.4M284.0 751.0L281.8 745.5M284.0 751.0L292.2 752.2M284.0 751.0L286.1 744.6M1143.0 219.2L1142.5 230.0M1143.0 219.2L1136.6 211.8M1143.0 219.2L1149.5 207.2M1143.0 219.2L1137.1 223.9M1143.0 219.2L1134.7 218.4M730.0 527.4L715.5 531.9M730.0 527.4L729.6 517.4M730.0 527.4L720.5 521.8M730.0 527.4L742.6 518.5M1004.3 261.9L1006.6 253.2M1004.3 261.9L1012.1 264.9M1004.3 261.9L1013.4 258.4M1004.3 261.9L1006.4 271.7M1004.3 261.9L993.9 268.7M741.1 410.7L733.7 412.7M741.1 410.7L731.7 403.5M741.1 410.7L746.4 419.6M741.1 410.7L738.5 418.3M1010.9 203.2L1019.4 191.4M1010.9 203.2L1007.7 216.7M1010.9 203.2L1018.1 206.4M1010.9 203.2L1019.7 200.8M1010.9 203.2L1015.5 212.1M1079.7 309.1L1085.4 303.8M1079.7 309.1L1073.9 302.3M1079.7 309.1L1069.8 308.7M1079.7 309.1L1080.9 299.3M1079.7 309.1L1092.9 306.9M491.7 265.9L485.2 263.0M491.7 265.9L486.3 273.3M491.7 265.9L494.2 274.5M491.7 265.9L484.7 267.9M491.7 265.9L488.0 257.7M1088.2 165.7L1079.4 170.9M1088.2 165.7L1099.4 170.0M1088.2 165.7L1074.4 163.0M1088.2 165.7L1085.7 174.5M1088.2 165.7L1091.9 172.5M1027.4 181.1L1019.4 191.4M1027.4 181.1L1035.4 181.5M1027.4 181.1L1028.2 189.8M1027.4 181.1L1036.6 173.0M1027.4 181.1L1033.6 188.1M647.3 530.0L640.8 522.9M647.3 530.0L649.5 523.6M647.3 530.0L655.9 528.5M647.3 530.0L654.3 537.6M1136.4 269.6L1130.4 279.9M1136.4 269.6L1139.5 258.3M1136.4 269.6L1128.9 273.7M1136.4 269.6L1131.8 262.3M1136.4 269.6L1128.3 267.9M398.1 205.5L405.7 208.4M398.1 205.5L395.2 213.0M398.1 205.5L390.1 206.5M398.1 205.5L401.1 211.3M398.1 205.5L404.6 197.6M757.3 476.8L752.7 482.3M757.3 476.8L751.3 470.2M757.3 476.8L748.5 476.5M757.3 476.8L758.7 485.6M757.3 476.8L759.1 467.7M1130.4 279.9L1121.7 283.4M1130.4 279.9L1128.9 273.7M1130.4 279.9L1123.4 276.9M1130.4 279.9L1127.6 290.3M610.1 482.4L610.2 474.3M610.1 482.4L617.4 485.3M610.1 482.4L610.4 491.1M610.1 482.4L615.9 478.9M274.5 634.7L267.4 639.9M274.5 634.7L281.5 637.2M274.5 634.7L273.0 641.2M274.5 634.7L264.0 633.6M274.5 634.7L281.5 632.4M274.5 634.7L278.0 641.8M645.5 398.3L638.0 405.9M645.5 398.3L655.8 396.6M645.5 398.3L652.8 403.4M645.5 398.3L646.5 406.5M628.3 521.9L640.8 522.9M628.3 521.9L628.8 511.6M628.3 521.9L636.8 514.1M1102.1 302.7L1109.2 298.5M1102.1 302.7L1096.1 298.9M1102.1 302.7L1102.1 295.4M1102.1 302.7L1092.9 306.9M616.1 431.2L612.3 442.4M616.1 431.2L620.3 440.1M616.1 431.2L625.1 429.2M616.1 431.2L623.8 435.9M616.1 431.2L620.6 421.2M443.4 202.7L449.3 210.6M443.4 202.7L437.4 209.3M443.4 202.7L442.8 210.2M443.4 202.7L455.9 201.6M443.4 202.7L434.4 202.8M1046.9 304.1L1041.1 296.1M1046.9 304.1L1053.8 297.9M1046.9 304.1L1047.5 293.5M1046.9 304.1L1036.1 300.3M348.5 202.1L346.2 206.0M348.5 202.1L344.5 199.7M348.5 202.1L344.0 203.3M348.5 202.1L351.8 206.8M348.5 202.1L349.0 197.8M287.4 632.6L281.5 637.2M287.4 632.6L290.0 638.0M287.4 632.6L285.3 639.9M287.4 632.6L281.5 632.4M287.4 632.6L294.6 633.4M287.4 632.6L295.9 622.5M703.8 536.5L715.5 531.9M703.8 536.5L694.9 535.1M703.8 536.5L705.8 528.3M703.8 536.5L699.5 528.9M664.5 390.1L655.8 396.6M664.5 390.1L674.7 394.0M664.5 390.1L669.8 399.3M664.5 390.1L663.8 400.1M387.9 211.9L395.2 213.0M387.9 211.9L390.1 206.5M387.9 211.9L390.5 216.5M387.9 211.9L385.0 216.6M685.7 537.8L675.6 536.9M685.7 537.8L694.9 535.1M685.7 537.8L685.7 530.6M685.7 537.8L680.0 530.6M685.7 537.8L690.0 532.3M1003.4 245.2L1006.6 253.2M1003.4 245.2L1004.6 235.8M1003.4 245.2L1011.3 247.1M1003.4 245.2L1011.6 240.3M404.9 333.6L403.5 327.9M404.9 333.6L408.6 339.9M404.9 333.6L408.3 328.7M404.9 333.6L398.4 330.1M404.9 333.6L411.8 333.2M489.0 281.1L486.3 273.3M489.0 281.1L483.1 283.2M489.0 281.1L492.3 288.8M489.0 281.1L494.2 274.5M489.0 281.1L482.2 277.7M489.0 281.1L486.0 288.0M1136.7 203.2L1136.6 211.8M1136.7 203.2L1128.2 201.6M1136.7 203.2L1149.5 207.2M1136.7 203.2L1129.5 208.9M1136.7 203.2L1134.5 192.8M362.9 267.9L365.0 266.0M362.9 267.9L365.2 271.0M362.9 267.9L366.2 268.1M362.9 267.9L360.8 271.4M362.9 267.9L362.4 263.6M612.3 442.4L620.3 440.1M612.3 442.4L613.9 453.1M612.3 442.4L620.2 446.7M364.3 281.4L365.3 277.3M364.3 281.4L367.2 280.0M364.3 281.4L366.5 286.4M364.3 281.4L367.8 282.8M1139.5 258.3L1131.8 262.3M1139.5 258.3L1136.8 250.9M1139.5 258.3L1146.7 249.4M1139.5 258.3L1132.8 256.3M439.1 331.9L431.1 330.2M439.1 331.9L441.8 325.8M439.1 331.9L435.4 327.1M439.1 331.9L446.3 328.3M439.1 331.9L438.6 326.1M428.5 206.3L425.0 210.1M428.5 206.3L431.8 210.1M428.5 206.3L422.3 204.7M428.5 206.3L434.4 202.8M428.5 206.3L428.1 211.0M374.8 308.5L379.2 312.3M374.8 308.5L373.7 303.1M374.8 308.5L373.5 315.5M374.8 308.5L379.1 307.4M374.8 308.5L377.3 304.9M752.7 430.6L749.0 438.2M752.7 430.6L742.6 425.3M752.7 430.6L744.4 432.5M752.7 430.6L746.4 419.6M1067.4 301.8L1073.9 302.3M1067.4 301.8L1063.2 298.4M1067.4 301.8L1069.8 308.7M1067.4 301.8L1071.1 297.7M1046.4 171.3L1055.3 165.3M1046.4 171.3L1048.0 178.5M1046.4 171.3L1053.9 174.9M1046.4 171.3L1036.6 173.0M1046.4 171.3L1041.7 180.2M394.2 324.5L391.6 319.5M394.2 324.5L389.2 330.5M394.2 324.5L400.3 323.4M394.2 324.5L398.4 330.1M394.2 324.5L396.0 320.1M684.0 391.7L694.4 392.5M684.0 391.7L674.7 394.0M684.0 391.7L688.8 398.0M684.0 391.7L679.2 398.8M684.0 391.7L693.1 379.2M684.0 391.7L683.8 398.7M1059.7 171.0L1055.3 165.3M1059.7 171.0L1065.7 173.7M1059.7 171.0L1059.9 175.9M1059.7 171.0L1053.9 174.9M1071.9 170.4L1079.4 170.9M1071.9 170.4L1074.4 163.0M1071.9 170.4L1065.7 173.7M1071.9 170.4L1071.5 175.0M1071.9 170.4L1076.0 175.1M1020.9 275.1L1023.7 273.0M1020.9 275.1L1026.0 278.2M1020.9 275.1L1018.0 269.8M266.5 238.8L270.6 234.6M266.5 238.8L259.1 237.1M266.5 238.8L272.2 238.9M266.5 238.8L262.9 246.1M266.5 238.8L265.0 232.9M266.5 238.8L269.6 243.8M277.8 253.8L284.4 254.5M277.8 253.8L272.9 260.3M277.8 253.8L278.8 248.6M277.8 253.8L282.2 250.0M277.8 253.8L275.1 249.3M342.7 254.7L342.3 247.5M342.7 254.7L349.8 262.2M342.7 254.7L338.8 262.8M342.7 254.7L337.9 250.5M342.7 254.7L336.5 254.8M904.6 593.5L912.3 593.6M904.6 593.5L905.9 601.1M904.6 593.5L909.5 586.6M904.6 593.5L910.9 598.2M904.6 593.5L893.5 593.0M904.6 593.5L899.9 598.9M263.9 221.3L268.3 222.0M263.9 221.3L257.9 222.6M263.9 221.3L266.4 218.5M263.9 221.3L262.8 217.4M263.9 221.3L264.7 226.4M974.6 664.5L979.5 658.7M974.6 664.5L970.2 662.0M974.6 664.5L969.2 666.6M974.6 664.5L973.9 658.7M926.0 672.3L932.3 672.2M926.0 672.3L922.9 666.5M926.0 672.3L920.9 679.1M926.0 672.3L927.7 667.4M926.0 672.3L917.8 672.6M926.0 672.3L930.6 669.0M271.4 197.4L276.2 198.7M271.4 197.4L277.2 194.4M271.4 197.4L271.1 204.0M271.4 197.4L264.1 201.5M271.4 197.4L272.3 191.2M271.4 197.4L275.0 202.3M351.5 234.5L347.6 231.7M351.5 234.5L346.9 239.3M351.5 234.5L353.9 242.7M351.5 234.5L356.3 229.5M351.5 234.5L350.4 227.8M351.5 234.5L345.5 235.1M255.2 737.2L259.0 733.2M255.2 737.2L260.6 741.9M255.2 737.2L246.3 738.8M255.2 737.2L255.3 729.2M255.2 737.2L261.2 737.3M255.2 737.2L250.3 731.8M244.6 729.6L250.3 725.7M244.6 729.6L238.1 724.8M244.6 729.6L246.3 738.8M244.6 729.6L245.2 722.7M244.6 729.6L250.3 731.8M326.3 643.0L334.6 649.6M326.3 643.0L320.7 646.5M326.3 643.0L316.2 641.2M326.3 643.0L328.6 650.4M326.3 643.0L336.4 639.0M326.3 643.0L321.2 634.5M326.3 643.0L324.4 650.2M317.1 263.0L315.8 259.4M317.1 263.0L320.7 260.4M317.1 263.0L321.6 264.4M317.1 263.0L313.5 261.2M317.1 263.0L318.1 259.1M333.8 736.0L329.8 732.1M333.8 736.0L334.2 728.9M333.8 736.0L339.3 733.2M333.8 736.0L330.9 741.7M333.8 736.0L328.2 737.0M986.6 609.2L983.2 609.9M986.6 609.2L986.4 613.8M986.6 609.2L982.3 607.1M986.6 609.2L986.8 602.6M986.6 609.2L983.2 612.5M986.6 609.2L990.7 612.6M303.9 263.5L298.4 260.7M303.9 263.5L305.2 259.7M303.9 263.5L305.0 269.9M303.9 263.5L308.0 261.3M303.9 263.5L302.4 259.5M379.3 220.0L384.5 222.8M379.3 220.0L374.3 227.8M379.3 220.0L381.2 227.1M379.3 220.0L385.0 216.6M379.3 220.0L372.1 218.9M311.4 749.0L309.0 743.5M311.4 749.0L304.7 746.7M311.4 749.0L320.1 749.9M311.4 749.0L306.5 754.0M311.4 749.0L314.0 743.7M912.8 662.4L917.0 660.9M912.8 662.4L910.3 657.4M912.8 662.4L914.8 657.6M912.8 662.4L907.6 662.3M912.8 662.4L916.9 665.8M291.3 182.3L287.1 185.3M291.3 182.3L293.0 185.5M291.3 182.3L296.2 181.9M291.3 182.3L284.8 181.1M291.3 182.3L295.0 177.5M291.3 182.3L290.6 186.5M291.3 182.3L294.7 184.1M358.9 257.6L364.1 259.8M358.9 257.6L363.2 252.1M358.9 257.6L349.8 262.2M358.9 257.6L362.4 263.6M358.9 257.6L357.9 249.7M358.9 257.6L364.1 256.2M893.6 641.8L899.8 648.4M893.6 641.8L896.2 635.0M893.6 641.8L899.7 640.7M893.6 641.8L892.8 648.8M893.6 641.8L885.5 645.8M368.6 233.3L371.8 237.6M368.6 233.3L374.3 227.8M368.6 233.3L363.7 225.4M368.6 233.3L367.2 239.7M368.6 233.3L373.5 233.7M934.0 573.6L928.9 581.1M934.0 573.6L940.5 579.9M934.0 573.6L935.2 583.3M934.0 573.6L944.5 572.6M934.0 573.6L941.1 559.6M951.4 581.7L948.5 585.2M951.4 581.7L954.7 584.5M951.4 581.7L956.5 579.9M951.4 581.7L951.6 585.2M951.4 581.7L946.3 580.5M299.2 179.9L301.4 182.6M299.2 179.9L296.2 181.9M299.2 179.9L295.0 177.5M299.2 179.9L302.9 179.4M299.2 179.9L299.0 182.8M335.2 181.9L329.5 181.4M335.2 181.9L338.3 188.1M335.2 181.9L336.4 176.0M335.2 181.9L340.6 182.1M335.2 181.9L333.0 186.3M335.2 181.9L332.5 178.2M236.7 685.9L238.8 679.3M236.7 685.9L241.8 687.0M236.7 685.9L241.6 683.6M236.7 685.9L232.0 680.4M236.7 685.9L240.0 690.2M236.7 685.9L234.8 691.8M351.9 663.0L341.7 657.2M351.9 663.0L348.6 673.2M351.9 663.0L342.9 666.5M351.9 663.0L353.3 652.0M916.9 583.0L922.1 587.6M916.9 583.0L909.5 586.6M916.9 583.0L916.9 590.2M916.9 583.0L908.1 575.4M916.9 583.0L923.4 582.4M238.1 706.8L241.2 711.1M238.1 706.8L241.5 702.9M238.1 706.8L232.2 704.6M238.1 706.8L242.9 706.8M238.1 706.8L236.0 701.2M355.2 223.9L351.4 219.0M355.2 223.9L363.7 225.4M355.2 223.9L356.3 229.5M355.2 223.9L350.4 227.8M355.2 223.9L357.9 219.1M355.2 223.9L350.7 223.3M281.9 189.7L284.6 191.2M281.9 189.7L285.2 188.6M281.9 189.7L277.4 189.3M281.9 189.7L282.7 192.5M281.9 189.7L280.1 191.9M993.7 623.6L991.6 629.5M993.7 623.6L988.7 618.2M993.7 623.6L987.5 624.3M993.7 623.6L999.3 616.4M983.2 596.2L976.6 593.9M983.2 596.2L981.2 602.4M983.2 596.2L978.1 599.4M983.2 596.2L986.8 602.6M983.2 596.2L992.9 594.7M973.0 588.4L976.6 593.9M973.0 588.4L965.7 587.0M973.0 588.4L971.1 582.1M973.0 588.4L968.9 591.6M973.0 588.4L972.3 593.4M959.0 674.2L964.0 667.9M959.0 674.2L951.7 671.8M959.0 674.2L956.2 668.9M959.0 674.2L959.7 667.9M355.0 213.2L351.4 219.0M355.0 213.2L349.2 211.7M355.0 213.2L362.3 206.1M355.0 213.2L349.3 215.0M355.0 213.2L351.8 206.8M355.0 213.2L357.9 219.1M992.6 635.9L991.6 629.5M992.6 635.9L987.1 638.0M992.6 635.9L987.1 633.1M992.6 635.9L990.2 641.7M992.6 635.9L997.2 641.4M899.9 605.1L901.3 611.5M899.9 605.1L905.9 601.1M899.9 605.1L894.3 601.8M899.9 605.1L904.9 606.3M899.9 605.1L899.9 598.9M989.4 656.1L979.5 658.7M989.4 656.1L985.3 646.6M989.4 656.1L980.9 651.8M265.3 740.1L269.1 740.5M265.3 740.1L265.3 736.2M265.3 740.1L260.6 741.9M265.3 740.1L268.3 737.5M265.3 740.1L261.2 737.3M903.7 656.6L899.8 648.4M903.7 656.6L910.3 657.4M903.7 656.6L902.0 664.8M903.7 656.6L906.0 650.7M903.7 656.6L907.6 662.3M903.7 656.6L908.5 653.5M891.9 621.8L899.2 625.2M891.9 621.8L899.2 618.2M891.9 621.8L895.0 629.0M416.6 205.8L415.0 210.9M416.6 205.8L422.3 204.7M416.6 205.8L411.4 205.5M416.6 205.8L418.6 209.0M234.4 672.5L240.1 666.7M234.4 672.5L238.8 679.3M234.4 672.5L241.2 673.6M234.4 672.5L232.0 680.4M313.6 632.7L308.7 638.7M313.6 632.7L316.2 641.2M313.6 632.7L321.2 634.5M313.6 632.7L318.3 623.3M313.6 632.7L306.9 632.8M469.6 227.8L465.0 221.6M469.6 227.8L469.0 232.4M469.6 227.8L464.5 227.0M469.6 227.8L474.4 232.2M469.6 227.8L466.5 229.7M355.7 685.2L349.4 692.9M355.7 685.2L347.6 685.4M355.7 685.2L357.1 692.7M355.7 685.2L366.5 688.4M355.7 685.2L351.8 679.4M703.6 397.8L694.4 392.5M703.6 397.8L713.5 392.1M703.6 397.8L699.3 402.1M703.6 397.8L713.4 401.2M703.6 397.8L694.9 399.9M703.6 397.8L707.8 404.3M703.6 397.8L702.7 403.3M309.6 179.3L311.1 182.6M309.6 179.3L306.3 180.5M309.6 179.3L313.4 179.8M309.6 179.3L305.9 176.3M309.6 179.3L308.6 181.9M244.6 653.7L252.0 655.0M244.6 653.7L247.7 659.7M244.6 653.7L250.7 648.0M244.6 653.7L241.9 660.7M267.0 206.9L271.1 204.0M267.0 206.9L264.1 201.5M267.0 206.9L271.1 208.1M267.0 206.9L268.0 210.8M299.1 752.8L304.7 746.7M299.1 752.8L294.9 747.4M299.1 752.8L306.5 754.0M299.1 752.8L292.2 752.2M299.1 752.8L301.2 764.3M299.1 752.8L299.4 744.7M615.2 461.0L613.9 453.1M615.2 461.0L618.9 463.9M615.2 461.0L619.2 456.7M615.2 461.0L619.7 460.8M615.2 461.0L614.8 467.2M347.4 244.5L342.3 247.5M347.4 244.5L346.9 239.3M347.4 244.5L353.9 242.7M347.4 244.5L343.6 242.5M482.1 291.5L477.3 292.2M482.1 291.5L486.0 288.0M482.1 291.5L479.8 297.0M482.1 291.5L479.1 288.5M482.1 291.5L482.1 287.2M750.3 451.0L755.5 457.3M750.3 451.0L745.9 449.1M750.3 451.0L747.4 444.6M750.3 451.0L748.5 457.1M750.3 451.0L746.4 452.6M301.1 631.2L298.3 636.6M301.1 631.2L302.9 637.1M301.1 631.2L294.6 633.4M301.1 631.2L306.9 632.8M301.1 631.2L295.9 622.5M457.4 218.9L465.0 221.6M457.4 218.9L453.2 220.2M457.4 218.9L451.9 216.6M457.4 218.9L459.2 223.0M457.4 218.9L455.6 222.0M1019.4 191.4L1028.2 189.8M1019.4 191.4L1019.7 200.8M1019.4 191.4L1024.8 198.1M1019.4 191.4L1027.0 194.4M625.0 499.2L626.2 494.4M625.0 499.2L630.3 504.3M625.0 499.2L623.5 506.3M625.0 499.2L621.3 492.4M625.0 499.2L628.2 496.3M625.0 499.2L629.5 499.5M942.3 675.3L940.0 671.3M942.3 675.3L937.2 683.1M942.3 675.3L946.7 672.9M942.3 675.3L936.6 675.0M942.3 675.3L943.5 669.6M481.8 236.9L481.7 245.1M481.8 236.9L475.7 237.2M481.8 236.9L476.5 242.0M481.8 236.9L489.1 244.0M481.8 236.9L474.4 232.2M317.7 178.0L319.3 181.8M317.7 178.0L313.4 179.8M317.7 178.0L321.4 171.0M317.7 178.0L316.1 182.3M317.7 178.0L323.3 179.2M347.2 698.7L349.4 692.9M347.2 698.7L343.6 699.5M347.2 698.7L344.9 696.1M347.2 698.7L345.8 702.5M334.6 649.6L341.7 657.2M334.6 649.6L328.6 650.4M334.6 649.6L336.4 639.0M334.6 649.6L334.7 656.2M334.6 649.6L330.6 655.1M479.0 305.6L471.7 309.1M479.0 305.6L476.1 300.2M479.0 305.6L472.3 303.2M479.0 305.6L479.8 297.0M291.7 261.5L288.6 269.4M291.7 261.5L298.4 260.7M291.7 261.5L291.7 256.2M291.7 261.5L295.1 257.8M291.7 261.5L287.8 257.7M748.2 507.8L745.6 498.5M748.2 507.8L736.7 510.5M748.2 507.8L738.1 502.8M748.2 507.8L742.6 518.5M719.0 406.2L713.4 401.2M719.0 406.2L718.6 410.8M719.0 406.2L725.5 411.0M719.0 406.2L713.9 407.2M325.1 261.0L322.5 257.7M325.1 261.0L325.9 267.0M325.1 261.0L328.4 257.6M325.1 261.0L324.9 256.0M325.1 261.0L320.7 260.4M325.1 261.0L321.6 264.4M348.8 714.3L342.2 717.3M348.8 714.3L347.2 707.6M348.8 714.3L354.5 717.5M348.8 714.3L343.9 712.0M348.8 714.3L357.7 709.9M383.2 315.4L379.2 312.3M383.2 315.4L383.9 311.8M383.2 315.4L386.8 314.5M383.2 315.4L385.7 319.2M482.9 254.1L478.7 252.5M482.9 254.1L481.9 259.0M482.9 254.1L488.0 257.7M482.9 254.1L481.7 250.0M482.9 254.1L479.1 255.8M465.2 322.9L466.1 313.9M465.2 322.9L457.3 322.4M465.2 322.9L460.5 334.6M465.2 322.9L461.0 317.8M345.4 195.0L344.5 199.7M345.4 195.0L351.5 192.4M345.4 195.0L340.7 193.6M345.4 195.0L349.0 197.8M345.4 195.0L341.8 197.4M1007.7 216.7L1009.4 227.5M1007.7 216.7L1015.5 212.1M1007.7 216.7L1013.3 222.5M1007.7 216.7L1014.8 217.9M1117.2 182.6L1124.6 192.6M1117.2 182.6L1108.2 179.4M1117.2 182.6L1112.8 188.1M1117.2 182.6L1108.1 185.2M1117.2 182.6L1117.0 191.1M1142.5 230.0L1137.1 223.9M1142.5 230.0L1138.0 239.0M1142.5 230.0L1135.5 229.2M1142.5 230.0L1136.2 233.7M715.5 531.9L720.5 521.8M715.5 531.9L705.8 528.3M715.5 531.9L713.8 522.9M715.5 531.9L709.7 525.4M1025.7 286.1L1033.5 291.6M1025.7 286.1L1026.0 278.2M1025.7 286.1L1031.9 283.4M418.1 330.2L422.8 327.3M418.1 330.2L417.3 326.2M418.1 330.2L420.0 326.3M418.1 330.2L413.4 327.4M418.1 330.2L411.8 333.2M241.7 717.5L241.2 711.1M241.7 717.5L247.2 717.6M241.7 717.5L238.1 724.8M241.7 717.5L245.6 713.5M241.7 717.5L245.2 722.7M638.0 405.9L635.9 415.3M638.0 405.9L646.5 406.5M638.0 405.9L643.1 412.5M640.8 522.9L649.5 523.6M640.8 522.9L636.8 514.1M640.8 522.9L646.5 518.4M640.8 522.9L642.4 516.0M448.9 324.4L447.8 321.1M448.9 324.4L445.2 323.7M448.9 324.4L446.3 328.3M448.9 324.4L451.7 321.6M1109.2 298.5L1114.7 289.2M1109.2 298.5L1102.1 295.4M1109.2 298.5L1106.3 289.9M362.7 245.0L363.2 252.1M362.7 245.0L368.7 244.9M362.7 245.0L353.9 242.7M362.7 245.0L367.6 249.7M362.7 245.0L367.2 239.7M362.7 245.0L357.9 249.7M655.8 396.6L652.8 403.4M655.8 396.6L659.0 403.5M655.8 396.6L663.8 400.1M610.2 474.3L618.0 472.6M610.2 474.3L614.8 467.2M610.2 474.3L615.9 478.9M257.8 647.0L264.0 645.0M257.8 647.0L252.3 640.7M257.8 647.0L256.3 652.3M257.8 647.0L263.2 649.6M257.8 647.0L250.7 648.0M257.8 647.0L260.5 652.5M267.4 639.9L264.0 645.0M267.4 639.9L273.0 641.2M267.4 639.9L264.0 633.6M267.4 639.9L269.8 645.2M340.4 725.0L342.2 717.3M340.4 725.0L334.2 728.9M340.4 725.0L351.3 734.4M340.4 725.0L338.9 720.3M340.4 725.0L334.3 724.1M340.4 725.0L339.3 733.2M340.4 725.0L336.1 721.3M275.9 746.5L281.8 745.5M275.9 746.5L272.6 741.5M275.9 746.5L279.7 742.3M275.9 746.5L276.5 740.8M449.3 210.6L442.8 210.2M449.3 210.6L451.9 216.6M449.3 210.6L455.9 201.6M449.3 210.6L444.4 214.4M449.3 210.6L447.4 215.8M675.6 536.9L668.7 530.9M675.6 536.9L680.0 530.6M675.6 536.9L674.3 529.3M628.7 420.8L625.1 429.2M628.7 420.8L635.9 415.3M628.7 420.8L632.5 424.0M628.7 420.8L620.6 421.2M628.7 420.8L635.1 421.0M628.7 420.8L629.8 426.8M287.1 185.3L285.2 188.6M287.1 185.3L284.8 181.1M287.1 185.3L290.6 186.5M287.1 185.3L288.5 188.7M289.8 747.4L294.9 747.4M289.8 747.4L292.2 752.2M289.8 747.4L286.1 744.6M289.8 747.4L292.4 743.9M289.8 747.4L289.5 743.6M372.8 298.8L373.7 303.1M372.8 298.8L373.4 296.1M372.8 298.8L369.9 295.7M1124.6 192.6L1128.2 201.6M1124.6 192.6L1119.9 195.9M1124.6 192.6L1134.5 192.8M1124.6 192.6L1123.4 199.1M1124.6 192.6L1117.0 191.1M729.6 517.4L720.5 521.8M729.6 517.4L725.9 513.8M729.6 517.4L736.7 510.5M729.6 517.4L722.6 516.4M729.6 517.4L742.6 518.5M729.6 517.4L729.9 510.8M364.1 293.1L366.5 286.4M364.1 293.1L369.4 292.4M364.1 293.1L369.9 295.7M364.1 293.1L368.6 290.0M364.1 293.1L360.1 303.6M364.1 293.1L351.8 293.7M1006.6 253.2L1011.3 247.1M1006.6 253.2L1013.4 258.4M1006.6 253.2L1014.3 252.1M694.4 392.5L694.9 399.9M694.4 392.5L688.8 398.0M694.4 392.5L693.1 379.2M1085.4 303.8L1080.9 299.3M1085.4 303.8L1092.9 306.9M1085.4 303.8L1088.9 298.9M365.3 277.3L367.2 280.0M365.3 277.3L366.5 274.3M365.3 277.3L363.5 274.3M959.5 585.1L965.7 587.0M959.5 585.1L954.7 584.5M959.5 585.1L956.4 587.9M959.5 585.1L956.5 579.9M959.5 585.1L961.3 589.0M959.5 585.1L959.0 588.8M485.2 263.0L484.7 267.9M485.2 263.0L481.9 259.0M485.2 263.0L488.0 257.7M485.2 263.0L481.6 265.4M485.2 263.0L481.2 262.5M1035.4 181.5L1038.4 186.1M1035.4 181.5L1036.6 173.0M1035.4 181.5L1033.6 188.1M1035.4 181.5L1041.7 180.2M405.7 208.4L401.1 211.3M405.7 208.4L410.6 211.4M405.7 208.4L404.6 197.6M405.7 208.4L404.8 213.7M405.7 208.4L411.4 205.5M405.7 208.4L407.9 213.0M752.7 482.3L750.2 490.4M752.7 482.3L748.5 476.5M752.7 482.3L758.7 485.6M752.7 482.3L747.0 483.9M1121.7 283.4L1114.7 289.2M1121.7 283.4L1123.4 276.9M1121.7 283.4L1118.4 279.2M1121.7 283.4L1127.6 290.3M1121.7 283.4L1115.8 282.8M1128.9 273.7L1123.4 276.9M1128.9 273.7L1128.3 267.9M1128.9 273.7L1124.5 271.8M281.5 637.2L285.3 639.9M281.5 637.2L281.5 632.4M281.5 637.2L278.0 641.8M281.5 637.2L281.9 641.6M628.8 511.6L636.8 514.1M628.8 511.6L630.3 504.3M628.8 511.6L623.5 506.3M628.8 511.6L635.0 508.1M1141.0 244.8L1136.8 250.9M1141.0 244.8L1146.7 249.4M1141.0 244.8L1138.0 239.0M1141.0 244.8L1135.3 245.1M1041.1 296.1L1033.5 291.6M1041.1 296.1L1047.5 293.5M1041.1 296.1L1036.1 300.3M1041.1 296.1L1040.9 290.2M1079.4 170.9L1074.4 163.0M1079.4 170.9L1085.7 174.5M1079.4 170.9L1076.0 175.1M694.9 535.1L694.1 529.0M694.9 535.1L699.5 528.9M694.9 535.1L690.0 532.3M674.7 394.0L669.8 399.3M674.7 394.0L679.2 398.8M395.2 213.0L390.1 206.5M395.2 213.0L401.1 211.3M395.2 213.0L390.5 216.5M395.2 213.0L397.5 217.4M395.2 213.0L400.8 215.7M395.2 213.0L394.1 219.1M733.7 412.7L731.7 403.5M733.7 412.7L730.8 418.5M733.7 412.7L725.5 411.0M733.7 412.7L738.5 418.3M1004.6 235.8L1009.4 227.5M1004.6 235.8L1011.6 240.3M1004.6 235.8L1011.4 233.9M486.3 273.3L494.2 274.5M486.3 273.3L484.7 267.9M486.3 273.3L482.2 277.7M486.3 273.3L481.8 270.9M486.3 273.3L481.4 273.9M1073.9 302.3L1069.8 308.7M1073.9 302.3L1080.9 299.3M1073.9 302.3L1071.1 297.7M1136.6 211.8L1149.5 207.2M1136.6 211.8L1129.5 208.9M1136.6 211.8L1134.7 218.4M620.3 440.1L620.2 446.7M620.3 440.1L623.8 435.9M613.9 453.1L620.2 446.7M613.9 453.1L619.2 456.7M1018.1 206.4L1019.7 200.8M1018.1 206.4L1015.5 212.1M1018.1 206.4L1021.3 204.4M1131.8 262.3L1132.8 256.3M1131.8 262.3L1128.3 267.9M431.1 330.2L435.4 327.1M431.1 330.2L427.0 327.7M431.1 330.2L432.4 326.5M431.1 330.2L430.1 326.7M751.3 470.2L748.5 476.5M751.3 470.2L759.1 467.7M751.3 470.2L750.9 463.6M617.4 485.3L620.9 481.4M617.4 485.3L610.4 491.1M617.4 485.3L621.3 492.4M617.4 485.3L615.9 478.9M625.1 429.2L623.8 435.9M625.1 429.2L620.6 421.2M625.1 429.2L629.8 426.8M437.4 209.3L442.8 210.2M437.4 209.3L431.8 210.1M437.4 209.3L436.5 213.1M437.4 209.3L434.4 202.8M437.4 209.3L434.2 212.4M437.4 209.3L440.0 213.7M1053.8 297.9L1047.5 293.5M1053.8 297.9L1058.9 298.0M346.2 206.0L344.1 206.8M346.2 206.0L346.6 209.4M346.2 206.0L344.0 203.3M346.2 206.0L351.8 206.8M346.2 206.0L344.8 208.1M346.2 206.0L343.7 205.5M379.2 312.3L373.5 315.5M379.2 312.3L383.9 311.8M379.2 312.3L379.1 307.4M379.2 312.3L381.6 309.2M403.5 327.9L400.3 323.4M403.5 327.9L408.3 328.7M403.5 327.9L398.4 330.1M403.5 327.9L405.5 324.6M290.0 638.0L285.3 639.9M290.0 638.0L294.4 639.6M290.0 638.0L287.9 641.3M290.0 638.0L294.6 633.4M290.0 638.0L290.7 641.5M483.1 283.2L482.2 277.7M483.1 283.2L479.6 284.7M483.1 283.2L486.0 288.0M483.1 283.2L479.6 280.9M483.1 283.2L482.1 287.2M1099.4 170.0L1096.5 177.0M1099.4 170.0L1091.9 172.5M1099.4 170.0L1103.2 175.9M1128.2 201.6L1129.5 208.9M1128.2 201.6L1134.5 192.8M1128.2 201.6L1123.4 199.1M685.7 530.6L680.0 530.6M685.7 530.6L690.0 532.3M685.7 530.6L689.8 528.8M365.0 266.0L366.2 268.1M365.0 266.0L362.4 263.6M365.0 266.0L365.8 263.4M367.2 280.0L367.8 282.8M1136.8 250.9L1146.7 249.4M1136.8 250.9L1132.8 256.3M1136.8 250.9L1135.3 245.1M441.8 325.8L445.2 323.7M441.8 325.8L446.3 328.3M441.8 325.8L438.6 326.1M750.2 490.4L745.6 498.5M750.2 490.4L758.7 485.6M750.2 490.4L747.0 483.9M750.2 490.4L744.2 489.1M750.2 490.4L742.3 493.5M391.6 319.5L396.0 320.1M391.6 319.5L385.7 319.2M391.6 319.5L389.4 316.5M425.0 210.1L422.3 204.7M425.0 210.1L421.4 210.7M425.0 210.1L428.1 211.0M662.0 533.1L668.7 530.9M662.0 533.1L655.9 528.5M662.0 533.1L654.3 537.6M662.0 533.1L662.9 527.2M389.2 330.5L379.3 324.1M389.2 330.5L398.4 330.1M749.0 438.2L747.4 444.6M749.0 438.2L744.4 432.5M749.0 438.2L743.8 438.6M742.6 425.3L744.4 432.5M742.6 425.3L746.4 419.6M742.6 425.3L735.5 423.6M742.6 425.3L738.7 429.2M742.6 425.3L738.5 418.3M373.7 303.1L377.3 304.9M1012.1 264.9L1013.4 258.4M1012.1 264.9L1018.0 269.8M1012.1 264.9L1006.4 271.7M1012.1 264.9L1017.2 262.9M1063.2 298.4L1058.9 298.0M400.3 323.4L398.4 330.1M400.3 323.4L396.0 320.1M400.3 323.4L405.5 324.6M1096.1 298.9L1102.1 295.4M1096.1 298.9L1092.9 306.9M1096.1 298.9L1088.9 298.9M1096.1 298.9L1093.6 295.2M1096.1 298.9L1097.7 293.4M1055.3 165.3L1053.9 174.9M1048.0 178.5L1053.9 174.9M1048.0 178.5L1041.7 180.2M365.2 271.0L366.5 274.3M365.2 271.0L366.2 268.1M365.2 271.0L360.8 271.4M365.2 271.0L363.5 274.3M1065.7 173.7L1059.9 175.9M1065.7 173.7L1071.5 175.0M272.4 184.6L265.7 175.7M272.4 184.6L272.3 191.2M272.4 184.6L277.4 189.3M310.7 273.9L305.0 269.9M713.5 392.1L713.4 401.2M353.2 277.8L354.5 271.3M305.0 169.9L305.9 176.3M305.0 169.9L295.1 169.2M379.3 324.1L373.5 315.5M379.3 324.1L385.7 319.2M470.3 214.7L465.0 221.6M492.3 288.8L486.0 288.0M328.7 748.7L324.3 742.0M328.7 748.7L320.1 749.9M328.7 748.7L330.9 741.7M1059.9 175.9L1053.9 174.9M408.6 339.9L411.8 333.2M1071.5 175.0L1076.0 175.1M959.3 574.2L956.5 579.9M1023.7 273.0L1026.0 278.2M1023.7 273.0L1018.0 269.8M422.6 197.7L422.3 204.7M731.7 403.5L725.5 411.0M273.4 246.0L276.4 243.5M273.4 246.0L269.6 243.8M273.4 246.0L274.0 242.0M273.4 246.0L277.0 246.1M273.4 246.0L275.1 249.3M266.4 214.7L270.6 213.8M266.4 214.7L266.4 218.5M266.4 214.7L262.8 217.4M266.4 214.7L270.3 217.7M266.4 214.7L268.0 210.8M979.5 658.7L976.5 654.8M979.5 658.7L980.9 651.8M979.5 658.7L973.9 658.7M932.3 672.2L933.6 668.7M932.3 672.2L936.6 675.0M932.3 672.2L936.8 669.1M932.3 672.2L930.6 669.0M284.4 254.5L285.3 250.9M284.4 254.5L288.6 254.4M284.4 254.5L282.2 250.0M284.4 254.5L287.8 257.7M284.4 254.5L287.0 252.5M342.3 247.5L337.9 250.5M342.3 247.5L340.6 243.8M342.3 247.5L338.8 245.6M342.3 247.5L343.6 242.5M342.3 247.5L337.7 247.4M298.4 260.7L300.2 257.8M298.4 260.7L295.1 257.8M298.4 260.7L302.4 259.5M298.4 260.7L297.8 257.7M912.3 593.6L909.5 586.6M912.3 593.6L910.9 598.2M912.3 593.6L916.9 590.2M912.3 593.6L914.8 597.2M912.3 593.6L916.9 594.8M270.6 234.6L272.2 238.9M270.6 234.6L269.7 229.7M270.6 234.6L273.6 233.9M270.6 234.6L273.0 231.5M270.6 234.6L265.0 232.9M270.6 234.6L273.5 236.0M310.9 261.3L309.7 258.6M310.9 261.3L308.0 261.3M310.9 261.3L311.9 259.4M310.9 261.3L313.5 261.2M268.3 222.0L271.7 221.1M268.3 222.0L266.4 218.5M268.3 222.0L269.8 225.6M268.3 222.0L270.3 217.7M268.3 222.0L264.7 226.4M268.3 222.0L271.0 223.3M276.2 198.7L277.2 194.4M276.2 198.7L277.3 201.2M276.2 198.7L279.0 197.5M276.2 198.7L275.0 202.3M276.2 198.7L278.2 199.4M347.6 231.7L350.4 227.8M347.6 231.7L345.0 232.6M347.6 231.7L345.5 235.1M347.6 231.7L346.7 228.9M347.6 231.7L345.6 230.7M259.0 733.2L259.2 729.7M259.0 733.2L255.3 729.2M259.0 733.2L261.2 737.3M259.0 733.2L262.8 733.8M259.0 733.2L261.4 731.2M899.8 648.4L899.7 640.7M899.8 648.4L906.0 650.7M899.8 648.4L892.8 648.8M899.8 648.4L903.3 643.6M899.8 648.4L906.3 646.2M896.2 635.0L899.7 640.7M896.2 635.0L899.6 631.1M896.2 635.0L895.0 629.0M896.2 635.0L901.1 635.9M928.9 581.1L935.2 583.3M928.9 581.1L926.8 585.8M928.9 581.1L923.4 582.4M928.9 581.1L930.7 585.3M332.9 257.6L338.8 262.8M332.9 257.6L328.4 257.6M332.9 257.6L332.3 253.2M332.9 257.6L329.3 253.8M332.9 257.6L336.5 254.8M250.3 725.7L252.6 722.3M250.3 725.7L255.3 729.2M250.3 725.7L249.8 720.9M250.3 725.7L245.2 722.7M250.3 725.7L254.2 724.5M250.3 725.7L250.3 731.8M320.7 646.5L316.2 641.2M320.7 646.5L321.1 650.0M320.7 646.5L316.5 646.3M320.7 646.5L324.4 650.2M320.7 646.5L318.8 648.8M315.8 259.4L313.6 258.4M315.8 259.4L316.6 257.8M315.8 259.4L315.0 257.1M315.8 259.4L313.5 261.2M315.8 259.4L318.1 259.1M329.8 732.1L334.2 728.9M329.8 732.1L329.7 728.1M329.8 732.1L327.0 730.1M329.8 732.1L328.2 737.0M329.8 732.1L325.2 733.2M329.5 181.4L333.0 186.3M329.5 181.4L325.2 184.2M329.5 181.4L323.3 179.2M329.5 181.4L332.5 178.2M329.5 181.4L328.8 186.4M341.7 657.2L342.9 666.5M341.7 657.2L334.7 656.2M341.7 657.2L353.3 652.0M341.7 657.2L338.5 662.9M341.7 657.2L335.0 660.3M348.6 673.2L342.9 666.5M348.6 673.2L346.9 679.6M348.6 673.2L343.0 672.2M348.6 673.2L342.9 677.0M348.6 673.2L351.8 679.4M983.2 609.9L981.0 610.6M983.2 609.9L982.3 607.1M983.2 609.9L983.2 612.5M976.6 593.9L978.1 599.4M976.6 593.9L972.3 593.4M976.6 593.9L974.5 598.9M976.6 593.9L972.1 596.9M305.2 259.7L304.1 258.0M305.2 259.7L307.1 258.2M305.2 259.7L308.0 261.3M305.2 259.7L302.4 259.5M305.2 259.7L305.5 257.3M940.5 579.9L935.2 583.3M940.5 579.9L942.8 583.2M940.5 579.9L944.5 572.6M940.5 579.9L939.7 583.9M940.5 579.9L946.3 580.5M991.6 629.5L987.5 624.3M991.6 629.5L987.1 633.1M991.6 629.5L987.0 628.8M384.5 222.8L385.1 226.7M384.5 222.8L381.2 227.1M384.5 222.8L389.3 221.2M384.5 222.8L385.0 216.6M384.5 222.8L387.5 224.9M309.0 743.5L304.7 746.7M309.0 743.5L310.8 740.0M309.0 743.5L305.2 742.1M309.0 743.5L314.0 743.7M309.0 743.5L307.8 740.3M324.3 742.0L320.1 749.9M324.3 742.0L318.4 742.3M324.3 742.0L323.8 736.9M324.3 742.0L330.9 741.7M324.3 742.0L319.5 737.6M324.3 742.0L328.2 737.0M241.2 711.1L242.9 706.8M241.2 711.1L245.6 713.5M241.2 711.1L245.4 709.2M338.3 188.1L340.6 182.1M338.3 188.1L333.0 186.3M338.3 188.1L340.7 193.6M338.3 188.1L334.4 190.5M338.3 188.1L336.7 193.3M917.0 660.9L917.5 657.9M917.0 660.9L920.5 662.1M917.0 660.9L914.8 657.6M917.0 660.9L919.2 659.2M917.0 660.9L916.9 665.8M240.1 666.7L241.2 673.6M240.1 666.7L241.9 660.7M240.1 666.7L245.6 665.1M240.1 666.7L245.4 670.6M293.0 185.5L295.2 185.9M293.0 185.5L290.6 186.5M293.0 185.5L294.1 187.1M293.0 185.5L294.7 184.1M293.0 185.5L292.4 187.7M235.7 696.5L239.7 698.6M235.7 696.5L239.5 694.2M235.7 696.5L228.7 696.7M235.7 696.5L236.0 701.2M235.7 696.5L234.8 691.8M964.0 667.9L966.7 664.4M964.0 667.9L959.7 667.9M964.0 667.9L963.9 663.1M964.0 667.9L969.2 666.6M964.0 667.9L960.7 664.6M951.7 671.8L956.2 668.9M951.7 671.8L946.7 672.9M951.7 671.8L953.0 669.0M951.7 671.8L947.6 668.5M951.7 671.8L950.7 668.0M269.1 740.5L268.3 737.5M269.1 740.5L272.6 741.5M269.1 740.5L271.3 737.7M985.3 646.6L980.9 651.8M985.3 646.6L985.6 641.6M985.3 646.6L990.2 641.7M985.3 646.6L981.4 647.9M985.3 646.6L982.4 642.7M985.3 646.6L980.6 645.4M901.3 611.5L899.2 618.2M901.3 611.5L904.9 606.3M901.3 611.5L904.8 613.3M901.3 611.5L903.4 616.2M901.3 611.5L905.9 610.1M364.1 259.8L367.1 257.7M364.1 259.8L362.4 263.6M364.1 259.8L367.1 260.8M364.1 259.8L364.1 256.2M364.1 259.8L365.8 263.4M371.8 237.6L375.7 236.9M371.8 237.6L371.6 241.7M371.8 237.6L367.2 239.7M371.8 237.6L374.4 239.9M371.8 237.6L373.5 233.7M922.1 587.6L916.9 590.2M922.1 587.6L926.8 585.8M922.1 587.6L923.4 582.4M922.1 587.6L921.1 591.3M922.1 587.6L925.9 589.5M922.1 587.6L923.7 591.3M351.4 219.0L349.3 215.0M351.4 219.0L347.9 221.6M351.4 219.0L357.9 219.1M351.4 219.0L347.5 217.4M351.4 219.0L350.7 223.3M351.4 219.0L347.4 219.3M1033.5 291.6L1031.9 283.4M1033.5 291.6L1036.8 286.1M1033.5 291.6L1036.1 300.3M1033.5 291.6L1040.9 290.2M948.5 585.2L950.5 587.4M948.5 585.2L945.1 585.2M948.5 585.2L951.6 585.2M948.5 585.2L946.3 580.5M988.7 618.2L987.5 624.3M988.7 618.2L986.4 613.8M988.7 618.2L999.3 616.4M988.7 618.2L986.2 621.0M988.7 618.2L983.8 616.2M988.7 618.2L990.7 612.6M988.7 618.2L984.4 619.3M965.7 587.0L971.1 582.1M965.7 587.0L968.9 591.6M965.7 587.0L961.3 589.0M965.7 587.0L965.3 591.3M965.7 587.0L963.2 590.3M301.4 182.6L300.1 184.6M301.4 182.6L304.3 182.8M301.4 182.6L302.9 179.4M301.4 182.6L299.0 182.8M301.4 182.6L301.6 184.5M301.4 182.6L302.7 184.1M905.9 601.1L910.9 598.2M905.9 601.1L904.9 606.3M905.9 601.1L908.7 604.4M905.9 601.1L899.9 598.9M905.9 601.1L910.6 601.9M910.3 657.4L911.6 653.7M910.3 657.4L914.8 657.6M910.3 657.4L907.6 662.3M910.3 657.4L913.3 655.1M910.3 657.4L908.5 653.5M349.4 692.9L347.6 685.4M349.4 692.9L344.9 696.1M349.4 692.9L345.1 690.3M349.4 692.9L357.1 692.7M349.4 692.9L344.8 693.2M374.3 227.8L363.7 225.4M374.3 227.8L381.2 227.1M374.3 227.8L377.0 233.2M374.3 227.8L372.1 218.9M374.3 227.8L373.5 233.7M374.3 227.8L379.1 230.8M755.5 457.3L748.5 457.1M755.5 457.3L759.1 467.7M755.5 457.3L750.9 463.6M308.7 638.7L316.2 641.2M308.7 638.7L302.9 637.1M308.7 638.7L310.2 643.0M308.7 638.7L306.9 632.8M308.7 638.7L303.8 641.7M308.7 638.7L307.0 642.6M252.0 655.0L247.7 659.7M252.0 655.0L256.3 652.3M252.0 655.0L256.3 656.1M252.0 655.0L250.7 648.0M252.0 655.0L252.3 660.1M252.0 655.0L254.6 658.2M238.8 679.3L241.2 673.6M238.8 679.3L241.6 683.6M238.8 679.3L232.0 680.4M238.8 679.3L243.3 677.9M238.8 679.3L242.9 680.8M277.2 194.4L272.3 191.2M277.2 194.4L279.0 197.5M277.2 194.4L281.2 194.4M277.2 194.4L277.4 189.3M277.2 194.4L280.4 196.1M277.2 194.4L280.1 191.9M271.1 204.0L264.1 201.5M271.1 204.0L271.1 208.1M271.1 204.0L275.0 202.3M271.1 204.0L273.8 207.0M271.1 204.0L274.7 205.3M465.0 221.6L459.2 223.0M465.0 221.6L464.5 227.0M465.0 221.6L461.7 225.2M284.6 191.2L285.2 188.6M284.6 191.2L284.7 193.2M284.6 191.2L286.9 191.0M284.6 191.2L282.7 192.5M284.6 191.2L285.7 192.4M346.9 239.3L353.9 242.7M346.9 239.3L345.5 235.1M346.9 239.3L342.8 239.3M346.9 239.3L343.6 237.3M346.9 239.3L343.6 242.5M922.9 666.5L927.7 667.4M922.9 666.5L920.5 662.1M922.9 666.5L924.7 663.5M922.9 666.5L917.8 672.6M922.9 666.5L926.5 664.6M922.9 666.5L916.9 665.8M922.9 666.5L923.0 662.7M241.8 687.0L241.6 683.6M241.8 687.0L243.2 689.3M241.8 687.0L240.0 690.2M981.2 602.4L978.1 599.4M981.2 602.4L982.3 607.1M981.2 602.4L986.8 602.6M981.2 602.4L977.6 603.3M981.2 602.4L978.9 605.9M481.7 245.1L481.7 250.0M481.7 245.1L476.5 242.0M481.7 245.1L489.1 244.0M481.7 245.1L478.2 248.7M481.7 245.1L476.8 245.9M349.2 211.7L349.3 215.0M349.2 211.7L346.6 209.4M349.2 211.7L351.8 206.8M349.2 211.7L346.8 213.7M349.2 211.7L346.2 211.9M987.1 638.0L987.1 633.1M987.1 638.0L985.6 641.6M987.1 638.0L984.1 636.1M987.1 638.0L990.2 641.7M987.1 638.0L983.1 639.4M471.7 309.1L466.1 313.9M471.7 309.1L472.3 303.2M471.7 309.1L467.1 308.2M471.7 309.1L469.0 305.5M745.6 498.5L738.1 502.8M745.6 498.5L742.3 493.5M899.2 625.2L899.2 618.2M899.2 625.2L899.6 631.1M899.2 625.2L902.7 625.3M899.2 625.2L895.0 629.0M899.2 625.2L902.7 622.1M899.2 625.2L902.7 628.6M422.8 327.3L427.0 327.7M422.8 327.3L420.0 326.3M415.0 210.9L410.6 211.4M415.0 210.9L418.3 212.3M415.0 210.9L411.4 205.5M415.0 210.9L418.6 209.0M316.2 641.2L321.2 634.5M316.2 641.2L310.2 643.0M316.2 641.2L316.5 646.3M316.2 641.2L312.9 645.1M469.0 232.4L465.8 232.0M469.0 232.4L471.7 236.0M469.0 232.4L474.4 232.2M469.0 232.4L466.5 229.7M699.3 402.1L694.9 399.9M699.3 402.1L702.7 403.3M970.2 662.0L970.8 658.5M970.2 662.0L966.7 664.4M970.2 662.0L968.6 659.2M970.2 662.0L966.8 661.3M970.2 662.0L969.2 666.6M970.2 662.0L973.9 658.7M342.2 717.3L343.9 712.0M342.2 717.3L338.9 720.3M342.2 717.3L338.9 715.1M342.2 717.3L340.4 712.7M342.2 717.3L337.4 717.9M311.1 182.6L313.4 179.8M311.1 182.6L309.0 183.7M311.1 182.6L308.6 181.9M311.1 182.6L313.6 182.8M713.4 401.2L713.9 407.2M713.4 401.2L707.8 404.3M1009.4 227.5L1013.3 222.5M1009.4 227.5L1011.4 233.9M1108.2 179.4L1108.1 185.2M1108.2 179.4L1103.2 175.9M1108.2 179.4L1102.4 180.9M304.7 746.7L306.5 754.0M304.7 746.7L305.2 742.1M304.7 746.7L299.4 744.7M304.7 746.7L302.4 742.7M466.1 313.9L461.0 317.8M466.1 313.9L467.1 308.2M466.1 313.9L462.8 311.4M466.1 313.9L464.7 309.8M466.1 313.9L460.2 313.8M344.5 199.7L344.0 203.3M344.5 199.7L341.3 199.9M344.5 199.7L349.0 197.8M344.5 199.7L342.1 201.7M344.5 199.7L341.8 197.4M347.6 685.4L346.9 679.6M347.6 685.4L345.1 690.3M347.6 685.4L343.9 685.6M347.6 685.4L351.8 679.4M347.6 685.4L343.6 682.3M347.6 685.4L344.2 687.7M1137.1 223.9L1134.7 218.4M1137.1 223.9L1135.5 229.2M1137.1 223.9L1133.0 222.2M618.9 463.9L619.7 460.8M618.9 463.9L614.8 467.2M720.5 521.8L713.8 522.9M720.5 521.8L722.6 516.4M477.3 292.2L476.3 289.1M477.3 292.2L475.4 296.2M477.3 292.2L479.8 297.0M477.3 292.2L479.1 288.5M635.9 415.3L643.1 412.5M635.9 415.3L635.1 421.0M1028.2 189.8L1033.6 188.1M1028.2 189.8L1027.0 194.4M649.5 523.6L655.9 528.5M649.5 523.6L646.5 518.4M649.5 523.6L654.5 522.3M1114.7 289.2L1127.6 290.3M1114.7 289.2L1106.3 289.9M1114.7 289.2L1115.8 282.8M298.3 636.6L302.9 637.1M298.3 636.6L294.4 639.6M298.3 636.6L294.6 633.4M298.3 636.6L299.1 640.9M745.9 449.1L747.4 444.6M745.9 449.1L746.4 452.6M1019.7 200.8L1024.8 198.1M1019.7 200.8L1021.3 204.4M264.0 645.0L269.8 645.2M264.0 645.0L263.2 649.6M264.0 645.0L266.9 648.4M334.2 728.9L329.7 728.1M334.2 728.9L334.3 724.1M334.2 728.9L339.3 733.2M334.2 728.9L331.8 725.8M281.8 745.5L286.1 744.6M281.8 745.5L279.7 742.3M281.8 745.5L283.2 742.1M940.0 671.3L940.6 667.9M940.0 671.3L936.6 675.0M940.0 671.3L943.5 669.6M940.0 671.3L936.8 669.1M453.2 220.2L451.9 216.6M453.2 220.2L455.6 222.0M347.2 707.6L343.9 712.0M347.2 707.6L342.9 705.2M347.2 707.6L357.7 709.9M347.2 707.6L345.8 702.5M347.2 707.6L341.7 708.9M626.2 494.4L621.3 492.4M626.2 494.4L628.2 496.3M273.0 641.2L269.8 645.2M273.0 641.2L278.0 641.8M273.0 641.2L274.4 644.8M652.8 403.4L646.5 406.5M652.8 403.4L659.0 403.5M652.8 403.4L651.8 408.3M475.7 237.2L476.5 242.0M475.7 237.2L471.7 236.0M475.7 237.2L474.4 232.2M475.7 237.2L472.9 239.8M319.3 181.8L316.1 182.3M319.3 181.8L321.6 184.0M319.3 181.8L323.3 179.2M319.3 181.8L317.8 183.8M319.3 181.8L319.2 184.3M1102.1 295.4L1106.3 289.9M1102.1 295.4L1097.7 293.4M328.6 650.4L324.4 650.2M328.6 650.4L330.6 655.1M328.6 650.4L326.9 653.9M476.1 300.2L472.3 303.2M476.1 300.2L475.4 296.2M476.1 300.2L479.8 297.0M476.1 300.2L472.7 299.0M291.7 256.2L295.1 257.8M291.7 256.2L288.6 254.4M291.7 256.2L292.9 254.0M291.7 256.2L287.8 257.7M291.7 256.2L294.5 255.0M291.7 256.2L291.1 253.4M294.9 747.4L292.2 752.2M294.9 747.4L299.4 744.7M294.9 747.4L292.4 743.9M294.9 747.4L295.7 743.0M457.3 322.4L460.5 334.6M457.3 322.4L461.0 317.8M457.3 322.4L451.7 321.6M457.3 322.4L456.9 316.9M457.3 322.4L453.7 318.5M363.2 252.1L367.6 249.7M363.2 252.1L357.9 249.7M363.2 252.1L364.1 256.2M363.2 252.1L367.1 254.1M322.5 257.7L319.9 257.1M322.5 257.7L324.9 256.0M322.5 257.7L320.7 260.4M322.5 257.7L321.4 255.8M322.5 257.7L322.9 255.4M718.6 410.8L725.5 411.0M718.6 410.8L713.9 407.2M705.8 528.3L699.5 528.9M705.8 528.3L709.7 525.4M1123.4 276.9L1118.4 279.2M1123.4 276.9L1124.5 271.8M636.8 514.1L635.0 508.1M636.8 514.1L642.4 516.0M343.6 699.5L344.9 696.1M343.6 699.5L342.5 702.1M343.6 699.5L345.8 702.5M1085.7 174.5L1091.9 172.5M1085.7 174.5L1090.4 176.7M401.1 211.3L404.8 213.7M401.1 211.3L400.8 215.7M954.7 584.5L956.4 587.9M954.7 584.5L956.5 579.9M954.7 584.5L953.3 587.2M954.7 584.5L951.6 585.2M484.7 267.9L481.6 265.4M484.7 267.9L481.8 270.9M484.7 267.9L481.1 268.1M296.2 181.9L295.0 177.5M296.2 181.9L297.4 184.7M296.2 181.9L299.0 182.8M296.2 181.9L294.7 184.1M1015.5 212.1L1014.8 217.9M383.9 311.8L386.8 314.5M383.9 311.8L386.4 312.0M383.9 311.8L381.6 309.2M442.8 210.2L444.4 214.4M442.8 210.2L440.0 213.7M1011.3 247.1L1014.3 252.1M1011.3 247.1L1011.6 240.3M408.3 328.7L405.5 324.6M408.3 328.7L413.4 327.4M408.3 328.7L409.5 324.9M408.3 328.7L411.8 333.2M478.7 252.5L481.7 250.0M478.7 252.5L479.1 255.8M478.7 252.5L478.2 248.7M347.5 308.2L360.1 303.6M347.5 308.2L351.8 293.7M669.8 399.3L663.8 400.1M390.5 216.5L389.3 221.2M390.5 216.5L394.1 219.1M390.5 216.5L385.0 216.6M1026.0 278.2L1031.9 283.4M247.2 717.6L245.6 713.5M247.2 717.6L249.8 720.9M247.2 717.6L245.2 722.7M247.2 717.6L247.8 714.9M306.3 180.5L305.9 176.3M306.3 180.5L304.3 182.8M306.3 180.5L302.9 179.4M306.3 180.5L308.6 181.9M306.3 180.5L306.9 183.1M368.7 244.9L367.6 249.7M368.7 244.9L371.6 241.7M368.7 244.9L367.2 239.7M368.7 244.9L370.5 247.7M435.4 327.1L438.6 326.1M435.4 327.1L432.4 326.5M668.7 530.9L674.3 529.3M668.7 530.9L662.9 527.2M1112.8 188.1L1108.1 185.2M1112.8 188.1L1117.0 191.1M747.4 444.6L743.8 438.6M451.9 216.6L447.4 215.8M1013.4 258.4L1014.3 252.1M1013.4 258.4L1017.2 262.9M417.3 326.2L420.0 326.3M417.3 326.2L413.4 327.4M680.0 530.6L674.3 529.3M447.8 321.1L445.2 323.7M447.8 321.1L451.7 321.6M447.8 321.1L449.6 319.7M285.2 188.6L286.9 191.0M285.2 188.6L288.5 188.7M618.0 472.6L614.8 467.2M618.0 472.6L615.9 478.9M618.0 472.6L619.9 477.1M1119.9 195.9L1123.4 199.1M1119.9 195.9L1117.0 191.1M366.5 286.4L367.8 282.8M366.5 286.4L368.6 290.0M369.4 292.4L369.9 295.7M369.4 292.4L368.6 290.0M373.4 296.1L369.9 295.7M694.9 399.9L688.8 398.0M688.8 398.0L683.8 398.7M1080.9 299.3L1088.9 298.9M481.9 259.0L488.0 257.7M481.9 259.0L479.1 255.8M481.9 259.0L481.2 262.5M366.5 274.3L363.5 274.3M410.6 211.4L411.4 205.5M410.6 211.4L407.9 213.0M748.5 476.5L747.0 483.9M1128.3 267.9L1124.5 271.8M285.3 639.9L287.9 641.3M285.3 639.9L281.9 641.6M630.3 504.3L623.5 506.3M630.3 504.3L635.0 508.1M630.3 504.3L629.5 499.5M1138.0 239.0L1135.3 245.1M1138.0 239.0L1136.2 233.7M632.5 424.0L635.1 421.0M632.5 424.0L629.8 426.8M1047.5 293.5L1040.9 290.2M241.5 702.9L242.9 706.8M241.5 702.9L239.7 698.6M241.5 702.9L244.6 704.7M241.5 702.9L243.1 699.5M241.5 702.9L236.0 701.2M431.8 210.1L434.4 202.8M431.8 210.1L428.1 211.0M431.8 210.1L434.2 212.4M679.2 398.8L683.8 398.7M730.8 418.5L725.5 411.0M730.8 418.5L735.5 423.6M730.8 418.5L738.5 418.3M725.9 513.8L722.6 516.4M725.9 513.8L729.9 510.8M1011.6 240.3L1011.4 233.9M482.2 277.7L479.6 280.9M482.2 277.7L481.4 273.9M619.2 456.7L619.7 460.8M956.4 587.9L953.3 587.2M956.4 587.9L959.0 588.8M265.3 736.2L268.3 737.5M265.3 736.2L261.2 737.3M265.3 736.2L262.8 733.8M265.3 736.2L267.9 735.1M427.0 327.7L430.1 326.7M1038.4 186.1L1033.6 188.1M1038.4 186.1L1041.7 180.2M620.9 481.4L615.9 478.9M620.9 481.4L619.9 477.1M1118.4 279.2L1115.8 282.8M422.3 204.7L421.4 210.7M422.3 204.7L418.6 209.0M694.1 529.0L699.5 528.9M694.1 529.0L690.0 532.3M694.1 529.0L689.8 528.8M397.5 217.4L400.8 215.7M397.5 217.4L394.1 219.1M379.1 307.4L381.6 309.2M379.1 307.4L377.3 304.9M479.6 284.7L479.6 280.9M479.6 284.7L479.1 288.5M479.6 284.7L482.1 287.2M1092.9 306.9L1088.9 298.9M736.7 510.5L738.1 502.8M736.7 510.5L742.6 518.5M736.7 510.5L729.9 510.8M736.7 510.5L733.4 506.2M445.2 323.7L446.3 328.3M1018.0 269.8L1006.4 271.7M1018.0 269.8L1017.2 262.9M360.8 271.4L354.5 271.3M360.8 271.4L363.5 274.3M436.5 213.1L434.2 212.4M436.5 213.1L440.0 213.7M351.3 734.4L339.3 733.2M386.8 314.5L385.7 319.2M386.8 314.5L386.4 312.0M386.8 314.5L389.4 316.5M1006.4 271.7L993.9 268.7M344.1 206.8L344.8 208.1M344.1 206.8L343.7 205.5M655.9 528.5L654.3 537.6M655.9 528.5L654.5 522.3M655.9 528.5L662.9 527.2M655.9 528.5L658.7 524.2M744.4 432.5L743.8 438.6M744.4 432.5L738.7 429.2M744.4 432.5L740.5 434.2M421.4 210.7L418.3 212.3M421.4 210.7L418.6 209.0M646.5 406.5L643.1 412.5M646.5 406.5L651.8 408.3M646.5 406.5L647.9 410.6M610.4 491.1L621.3 492.4M937.2 683.1L936.6 675.0M1127.6 290.3L1135.9 303.6M405.5 324.6L409.5 324.9M1096.5 177.0L1091.9 172.5M1096.5 177.0L1103.2 175.9M1096.5 177.0L1102.4 180.9M1096.5 177.0L1090.4 176.7M404.6 197.6L411.4 205.5M455.9 201.6L465.8 184.7M1088.9 298.9L1093.6 295.2M313.4 179.8L316.1 182.3M313.4 179.8L313.6 182.8M351.5 192.4L349.0 197.8M747.0 483.9L744.2 489.1M362.3 206.1L351.8 206.8M1134.5 192.8L1143.7 177.9M260.6 741.9L261.2 737.3M232.2 704.6L228.7 696.7M232.2 704.6L236.0 701.2M1134.7 218.4L1133.0 222.2M744.2 489.1L742.3 493.5M325.9 267.0L332.0 274.6M325.9 267.0L321.6 264.4M257.9 222.6L250.6 232.0M257.9 222.6L262.8 217.4M257.9 222.6L264.7 226.4M349.8 262.2L338.8 262.8M349.8 262.2L354.5 271.3M353.9 242.7L357.9 249.7M354.5 717.5L357.7 709.9M264.0 633.6L251.2 627.9M252.3 640.7L251.2 627.9M252.3 640.7L250.7 648.0M264.1 201.5L250.1 201.2M321.4 171.0L319.3 161.1M321.4 171.0L323.3 179.2M363.7 225.4L356.3 229.5M363.7 225.4L357.9 219.1M363.7 225.4L372.1 218.9M295.0 177.5L295.1 169.2M320.1 749.9L318.4 742.3M320.1 749.9L314.0 743.7M920.9 679.1L917.8 672.6M920.9 679.1L910.1 682.4M272.9 260.3L262.3 262.3M336.4 176.0L340.6 182.1M336.4 176.0L332.5 178.2M238.1 724.8L227.9 728.9M238.1 724.8L245.2 722.7M356.3 229.5L350.4 227.8M1036.6 173.0L1041.7 180.2M246.3 738.8L235.2 754.1M246.3 738.8L250.3 731.8M486.0 288.0L482.1 287.2M306.5 754.0L301.2 764.3M902.0 664.8L907.6 662.3M1093.6 295.2L1097.7 293.4M894.3 601.8L893.5 593.0M894.3 601.8L899.9 598.9M259.1 237.1L250.6 232.0M259.1 237.1L262.9 246.1M259.1 237.1L265.0 232.9M272.3 191.2L277.4 189.3M321.2 634.5L318.3 623.3M305.9 176.3L302.9 179.4M746.4 419.6L738.5 418.3M909.5 586.6L916.9 590.2M909.5 586.6L908.1 575.4M338.8 262.8L332.0 274.6M338.8 262.8L336.5 254.8M278.8 248.6L282.2 250.0M278.8 248.6L279.9 245.6M278.8 248.6L281.2 247.2M278.8 248.6L277.0 246.1M278.8 248.6L275.1 249.3M337.9 250.5L335.1 248.3M337.9 250.5L333.8 250.6M337.9 250.5L336.5 254.8M337.9 250.5L337.7 247.4M272.2 238.9L275.4 237.3M272.2 238.9L269.6 243.8M272.2 238.9L273.5 236.0M272.2 238.9L275.2 239.4M272.2 238.9L274.0 242.0M927.7 667.4L926.5 664.6M927.7 667.4L930.6 669.0M927.7 667.4L929.2 664.7M927.7 667.4L930.7 666.4M270.6 213.8L272.7 215.4M270.6 213.8L270.3 217.7M270.6 213.8L272.4 211.0M270.6 213.8L268.0 210.8M270.6 213.8L273.2 213.5M910.9 598.2L914.8 597.2M910.9 598.2L913.0 600.8M910.9 598.2L914.5 599.4M910.9 598.2L910.6 601.9M976.5 654.8L980.9 651.8M976.5 654.8L973.7 655.1M976.5 654.8L976.8 651.4M976.5 654.8L973.9 658.7M976.5 654.8L974.6 653.1M933.6 668.7L932.9 666.5M933.6 668.7L936.8 669.1M933.6 668.7L930.6 669.0M933.6 668.7L935.1 666.7M340.6 243.8L338.8 245.6M340.6 243.8L339.2 242.3M340.6 243.8L341.1 241.1M340.6 243.8L338.3 243.8M340.6 243.8L343.6 242.5M285.3 250.9L282.2 250.0M285.3 250.9L287.6 250.5M285.3 250.9L284.6 248.4M285.3 250.9L286.3 249.1M285.3 250.9L287.0 252.5M899.7 640.7L903.3 643.6M899.7 640.7L901.1 635.9M899.7 640.7L903.9 639.5M300.2 257.8L298.9 256.0M300.2 257.8L302.4 259.5M300.2 257.8L297.8 257.7M300.2 257.8L300.4 256.2M300.2 257.8L302.6 257.3M300.2 257.8L301.4 256.5M970.8 658.5L968.6 659.2M970.8 658.5L973.9 658.7M970.8 658.5L971.9 656.4M899.2 618.2L903.4 616.2M899.2 618.2L902.7 622.1M899.2 618.2L903.1 619.2M350.4 227.8L347.7 224.5M350.4 227.8L346.7 228.9M350.4 227.8L350.7 223.3M350.4 227.8L346.9 226.8M269.7 229.7L269.8 225.6M269.7 229.7L273.0 231.5M269.7 229.7L265.0 232.9M269.7 229.7L264.7 226.4M269.7 229.7L272.2 227.2M269.7 229.7L272.8 229.1M273.6 233.9L273.0 231.5M273.6 233.9L275.3 235.0M273.6 233.9L273.5 236.0M273.6 233.9L275.1 233.5M273.6 233.9L274.5 232.5M916.9 590.2L921.1 591.3M916.9 590.2L916.9 594.8M916.9 590.2L919.8 593.7M333.0 186.3L328.8 186.4M333.0 186.3L334.4 190.5M333.0 186.3L331.1 189.3M342.9 666.5L338.5 662.9M342.9 666.5L343.0 672.2M342.9 666.5L339.5 670.2M342.9 666.5L337.9 666.5M906.0 650.7L909.3 650.4M906.0 650.7L906.3 646.2M906.0 650.7L908.5 653.5M906.0 650.7L908.4 648.5M935.2 583.3L930.7 585.3M935.2 583.3L939.7 583.9M935.2 583.3L935.6 586.9M935.2 583.3L932.9 587.5M935.2 583.3L938.3 586.4M968.9 591.6L972.3 593.4M968.9 591.6L965.3 591.3M968.9 591.6L967.9 594.1M968.9 591.6L966.6 593.0M968.9 591.6L969.8 595.0M309.7 258.6L307.1 258.2M309.7 258.6L308.0 261.3M309.7 258.6L311.5 257.3M309.7 258.6L311.9 259.4M271.7 221.1L270.3 217.7M271.7 221.1L272.7 222.9M271.7 221.1L271.0 223.3M271.7 221.1L272.6 219.2M328.4 257.6L329.3 253.8M328.4 257.6L324.9 256.0M328.4 257.6L326.8 254.3M956.2 668.9L959.7 667.9M956.2 668.9L953.0 669.0M956.2 668.9L955.8 666.1M956.2 668.9L958.0 665.7M956.2 668.9L953.4 666.8M904.9 606.3L908.7 604.4M904.9 606.3L905.9 610.1M904.9 606.3L908.1 607.3M980.9 651.8L981.4 647.9M980.9 651.8L976.8 651.4M980.9 651.8L978.7 648.4M334.7 656.2L335.0 660.3M334.7 656.2L330.6 655.1M334.7 656.2L332.1 658.4M247.7 659.7L241.9 660.7M247.7 659.7L245.6 665.1M247.7 659.7L252.3 660.1M247.7 659.7L250.2 664.2M313.6 258.4L311.5 257.3M313.6 258.4L315.0 257.1M313.6 258.4L311.9 259.4M313.6 258.4L313.5 261.2M987.5 624.3L987.0 628.8M987.5 624.3L986.2 621.0M987.5 624.3L984.5 624.7M987.5 624.3L984.3 622.2M987.5 624.3L984.9 627.0M318.4 742.3L314.0 743.7M318.4 742.3L319.5 737.6M318.4 742.3L314.9 738.8M340.7 193.6L336.7 193.3M340.7 193.6L339.2 197.0M340.7 193.6L337.9 195.6M340.7 193.6L341.8 197.4M241.2 673.6L243.3 677.9M241.2 673.6L245.4 670.6M241.2 673.6L245.2 675.0M277.3 201.2L275.0 202.3M277.3 201.2L278.8 200.7M277.3 201.2L278.2 199.4M946.7 672.9L943.5 669.6M946.7 672.9L947.6 668.5M242.9 706.8L245.4 709.2M242.9 706.8L244.6 704.7M242.9 706.8L245.4 706.7M345.0 232.6L345.5 235.1M345.0 232.6L344.4 231.4M345.0 232.6L345.6 230.7M926.8 585.8L923.4 582.4M926.8 585.8L930.7 585.3M926.8 585.8L925.9 589.5M926.8 585.8L929.3 588.6M268.3 737.5L271.3 737.7M268.3 737.5L267.9 735.1M259.2 729.7L255.3 729.2M259.2 729.7L261.4 731.2M986.4 613.8L983.8 616.2M986.4 613.8L983.2 612.5M986.4 613.8L990.7 612.6M899.6 631.1L895.0 629.0M899.6 631.1L901.1 635.9M899.6 631.1L902.7 628.6M899.6 631.1L903.2 632.7M271.1 208.1L273.8 207.0M271.1 208.1L272.4 211.0M271.1 208.1L268.0 210.8M271.1 208.1L273.7 209.0M332.3 253.2L329.3 253.8M332.3 253.2L333.8 250.6M332.3 253.2L336.5 254.8M332.3 253.2L330.1 251.8M332.3 253.2L331.3 250.9M978.1 599.4L977.6 603.3M978.1 599.4L974.5 598.9M978.1 599.4L975.5 601.7M349.3 215.0L346.8 213.7M349.3 215.0L347.5 217.4M349.3 215.0L346.7 215.6M987.1 633.1L984.1 636.1M987.1 633.1L987.0 628.8M987.1 633.1L983.8 633.4M987.1 633.1L984.4 630.3M985.6 641.6L990.2 641.7M985.6 641.6L982.4 642.7M985.6 641.6L983.1 639.4M252.6 722.3L249.8 720.9M252.6 722.3L254.2 724.5M321.1 650.0L324.4 650.2M321.1 650.0L318.8 648.8M316.6 257.8L315.0 257.1M316.6 257.8L316.2 256.5M316.6 257.8L317.7 256.8M316.6 257.8L318.1 259.1M329.7 728.1L327.0 730.1M329.7 728.1L327.5 728.2M329.7 728.1L331.8 725.8M966.7 664.4L963.9 663.1M966.7 664.4L966.8 661.3M966.7 664.4L969.2 666.6M325.2 184.2L321.6 184.0M325.2 184.2L323.3 179.2M325.2 184.2L328.8 186.4M325.2 184.2L324.3 186.4M325.2 184.2L326.1 186.9M325.2 184.2L323.0 185.7M346.9 679.6L342.9 677.0M346.9 679.6L351.8 679.4M346.9 679.6L343.6 682.3M302.9 637.1L306.9 632.8M302.9 637.1L299.1 640.9M302.9 637.1L303.8 641.7M295.1 257.8L296.7 255.7M295.1 257.8L297.8 257.7M295.1 257.8L294.5 255.0M288.6 254.4L287.8 257.7M288.6 254.4L289.2 252.1M288.6 254.4L287.0 252.5M288.6 254.4L291.1 253.4M942.8 583.2L939.7 583.9M942.8 583.2L945.1 585.2M942.8 583.2L946.3 580.5M942.8 583.2L941.9 586.1M304.1 258.0L302.4 259.5M304.1 258.0L305.5 257.3M304.1 258.0L302.6 257.3M323.8 736.9L319.5 737.6M323.8 736.9L328.2 737.0M323.8 736.9L325.2 733.2M323.8 736.9L321.5 734.4M1013.3 222.5L1014.8 217.9M385.1 226.7L381.2 227.1M385.1 226.7L387.5 224.9M310.8 740.0L314.0 743.7M310.8 740.0L307.8 740.3M310.8 740.0L314.9 738.8M917.5 657.9L914.8 657.6M917.5 657.9L919.2 659.2M239.7 698.6L239.5 694.2M239.7 698.6L242.6 696.1M239.7 698.6L243.1 699.5M239.7 698.6L236.0 701.2M239.5 694.2L240.0 690.2M239.5 694.2L242.6 696.1M239.5 694.2L234.8 691.8M1031.9 283.4L1036.8 286.1M343.9 712.0L341.7 708.9M343.9 712.0L340.4 712.7M295.2 185.9L297.4 184.7M295.2 185.9L294.1 187.1M295.2 185.9L294.7 184.1M981.0 610.6L982.3 607.1M981.0 610.6L983.2 612.5M981.0 610.6L981.0 612.5M367.1 257.7L367.1 260.8M367.1 257.7L364.1 256.2M367.1 257.7L367.1 254.1M375.7 236.9L377.0 233.2M375.7 236.9L374.4 239.9M375.7 236.9L373.5 233.7M461.0 317.8L456.9 316.9M461.0 317.8L460.2 313.8M256.3 652.3L256.3 656.1M256.3 652.3L250.7 648.0M256.3 652.3L258.6 654.9M256.3 652.3L260.5 652.5M338.9 720.3L336.1 721.3M338.9 720.3L337.4 717.9M1135.5 229.2L1136.2 233.7M713.8 522.9L709.7 525.4M347.9 221.6L347.7 224.5M347.9 221.6L350.7 223.3M347.9 221.6L346.6 222.9M347.9 221.6L347.4 219.3M316.1 182.3L313.6 182.8M316.1 182.3L317.8 183.8M255.3 729.2L254.2 724.5M255.3 729.2L250.3 731.8M982.3 607.1L986.8 602.6M982.3 607.1L978.9 605.9M961.3 589.0L959.0 588.8M961.3 589.0L963.2 590.3M245.6 713.5L245.4 709.2M245.6 713.5L247.8 714.9M920.5 662.1L919.2 659.2M920.5 662.1L916.9 665.8M920.5 662.1L923.0 662.7M950.5 587.4L953.3 587.2M950.5 587.4L951.6 585.2M272.6 741.5L271.3 737.7M272.6 741.5L276.5 740.8M904.8 613.3L903.4 616.2M904.8 613.3L905.9 610.1M904.8 613.3L905.0 615.4M904.8 613.3L906.3 611.9M646.5 518.4L642.4 516.0M300.1 184.6L297.4 184.7M300.1 184.6L299.0 182.8M300.1 184.6L301.6 184.5M290.6 186.5L288.5 188.7M290.6 186.5L292.4 187.7M659.0 403.5L663.8 400.1M911.6 653.7L913.3 655.1M911.6 653.7L910.8 651.8M911.6 653.7L908.5 653.5M914.8 657.6L913.3 655.1M344.9 696.1L344.8 693.2M345.1 690.3L344.8 693.2M345.1 690.3L344.2 687.7M286.1 744.6L283.2 742.1M286.1 744.6L289.5 743.6M381.2 227.1L379.1 230.8M377.0 233.2L373.5 233.7M377.0 233.2L379.1 230.8M748.5 457.1L746.4 452.6M748.5 457.1L750.9 463.6M269.8 645.2L274.4 644.8M269.8 645.2L266.9 648.4M310.2 643.0L312.9 645.1M310.2 643.0L307.0 642.6M738.1 502.8L733.4 506.2M241.6 683.6L242.9 680.8M279.0 197.5L280.4 196.1M279.0 197.5L278.2 199.4M281.2 194.4L282.7 192.5M281.2 194.4L280.4 196.1M281.2 194.4L280.1 191.9M275.0 202.3L274.7 205.3M1036.8 286.1L1040.9 290.2M459.2 223.0L455.6 222.0M459.2 223.0L461.7 225.2M464.5 227.0L466.5 229.7M464.5 227.0L461.7 225.2M345.5 235.1L343.6 237.3M342.8 239.3L341.1 241.1M342.8 239.3L343.6 237.3M342.8 239.3L343.6 242.5M284.7 193.2L282.7 192.5M284.7 193.2L285.7 192.4M243.2 689.3L240.0 690.2M643.1 412.5L647.9 410.6M278.0 641.8L274.4 644.8M278.0 641.8L281.9 641.6M481.7 250.0L478.2 248.7M476.5 242.0L472.9 239.8M476.5 242.0L476.8 245.9M346.6 209.4L351.8 206.8M346.6 209.4L344.8 208.1M346.6 209.4L346.2 211.9M472.3 303.2L469.0 305.5M472.3 303.2L472.7 299.0M467.1 308.2L469.0 305.5M467.1 308.2L464.7 309.8M362.4 263.6L365.8 263.4M316.5 646.3L318.8 648.8M316.5 646.3L312.9 645.1M418.3 212.3L418.6 209.0M256.3 656.1L258.6 654.9M256.3 656.1L254.6 658.2M713.9 407.2L707.8 404.3M707.8 404.3L702.7 403.3M465.8 232.0L466.5 229.7M1108.1 185.2L1102.4 180.9M309.0 183.7L308.6 181.9M309.0 183.7L306.9 183.1M305.2 742.1L307.8 740.3M305.2 742.1L302.4 742.7M299.4 744.7L295.7 743.0M299.4 744.7L302.4 742.7M344.0 203.3L342.1 201.7M344.0 203.3L343.7 205.5M341.3 199.9L342.1 201.7M341.3 199.9L339.9 198.7M341.3 199.9L341.8 197.4M924.7 663.5L926.5 664.6M924.7 663.5L923.0 662.7M654.5 522.3L658.7 524.2M476.3 289.1L479.1 288.5M294.4 639.6L294.6 633.4M294.4 639.6L299.1 640.9M294.4 639.6L290.7 641.5M1024.8 198.1L1027.0 194.4M263.2 649.6L266.9 648.4M263.2 649.6L260.5 652.5M451.7 321.6L449.6 319.7M451.7 321.6L451.2 318.9M451.7 321.6L453.7 318.5M334.3 724.1L331.8 725.8M334.3 724.1L336.1 721.3M279.7 742.3L283.2 742.1M279.7 742.3L276.5 740.8M413.4 327.4L409.5 324.9M413.4 327.4L411.8 333.2M651.8 408.3L647.9 410.6M471.7 236.0L474.4 232.2M471.7 236.0L472.9 239.8M321.6 184.0L323.3 179.2M321.6 184.0L319.2 184.3M321.6 184.0L323.0 185.7M262.3 262.3L262.9 246.1M628.2 496.3L629.5 499.5M324.4 650.2L326.9 653.9M893.5 593.0L899.9 598.9M984.1 636.1L983.8 633.4M984.1 636.1L983.1 639.4M475.4 296.2L479.8 297.0M475.4 296.2L472.7 299.0M292.4 743.9L295.7 743.0M292.4 743.9L289.5 743.6M367.6 249.7L370.5 247.7M367.6 249.7L367.1 254.1M319.9 257.1L320.7 260.4M319.9 257.1L321.4 255.8M319.9 257.1L317.7 256.8M319.9 257.1L318.1 259.1M902.7 625.3L902.7 622.1M902.7 625.3L902.7 628.6M385.7 319.2L389.4 316.5M404.8 213.7L400.8 215.7M404.8 213.7L407.9 213.0M481.6 265.4L481.1 268.1M481.6 265.4L481.2 262.5M481.8 270.9L481.4 273.9M481.8 270.9L481.1 268.1M342.5 702.1L342.9 705.2M342.5 702.1L345.8 702.5M338.9 715.1L340.4 712.7M338.9 715.1L337.4 717.9M444.4 214.4L440.0 213.7M444.4 214.4L447.4 215.8M261.2 737.3L262.8 733.8M462.8 311.4L464.7 309.8M462.8 311.4L460.2 313.8M389.3 221.2L394.1 219.1M389.3 221.2L385.0 216.6M389.3 221.2L387.5 224.9M343.9 685.6L343.6 682.3M343.9 685.6L344.2 687.7M249.8 720.9L245.2 722.7M304.3 182.8L302.9 179.4M304.3 182.8L306.9 183.1M304.3 182.8L302.7 184.1M371.6 241.7L367.2 239.7M371.6 241.7L374.4 239.9M432.4 326.5L430.1 326.7M940.6 667.9L943.5 669.6M940.6 667.9L936.8 669.1M342.9 705.2L345.8 702.5M342.9 705.2L341.7 708.9M999.3 616.4L990.7 612.6M327.0 730.1L327.5 728.2M327.0 730.1L325.2 733.2M917.8 672.6L910.1 682.4M917.8 672.6L916.9 665.8M292.9 254.0L294.5 255.0M292.9 254.0L291.1 253.4M307.1 258.2L308.0 261.3M307.1 258.2L305.5 257.3M690.0 532.3L689.8 528.8M287.9 641.3L290.7 641.5M953.3 587.2L951.6 585.2M297.4 184.7L299.0 182.8M297.4 184.7L294.7 184.1M986.8 602.6L992.9 594.7M262.8 733.8L261.4 731.2M360.1 303.6L351.8 293.7M615.9 478.9L619.9 477.1M277.4 189.3L280.1 191.9M759.1 467.7L750.9 463.6M936.6 675.0L936.8 669.1M262.9 246.1L269.6 243.8M729.9 510.8L733.4 506.2M735.5 423.6L738.7 429.2M735.5 423.6L738.5 418.3M1091.9 172.5L1090.4 176.7M990.2 641.7L997.2 641.4M944.5 572.6L941.1 559.6M944.5 572.6L946.3 580.5M1103.2 175.9L1102.4 180.9M294.6 633.4L295.9 622.5M266.4 218.5L262.8 217.4M266.4 218.5L270.3 217.7M330.9 741.7L328.2 737.0M228.7 696.7L236.0 701.2M228.7 696.7L234.8 691.8M662.9 527.2L658.7 524.2M892.8 648.8L885.5 645.8M743.8 438.6L740.5 434.2M738.7 429.2L740.5 434.2M357.1 692.7L366.5 688.4M241.9 660.7L245.6 665.1M286.9 191.0L288.5 188.7M286.9 191.0L285.7 192.4M276.4 243.5L278.4 242.2M276.4 243.5L278.7 243.9M276.4 243.5L274.0 242.0M276.4 243.5L277.2 240.7M276.4 243.5L277.0 246.1M282.2 250.0L284.6 248.4M282.2 250.0L283.3 246.9M282.2 250.0L281.2 247.2M338.8 245.6L338.3 243.8M338.8 245.6L337.7 247.4M338.8 245.6L337.3 244.7M338.8 245.6L336.7 245.7M914.8 597.2L916.9 594.8M914.8 597.2L914.5 599.4M275.4 237.3L275.3 235.0M275.4 237.3L277.0 238.3M275.4 237.3L273.5 236.0M275.4 237.3L275.2 239.4M335.1 248.3L333.8 250.6M335.1 248.3L335.4 246.7M335.1 248.3L337.7 247.4M926.5 664.6L929.2 664.7M903.3 643.6L903.9 639.5M903.3 643.6L906.3 646.2M903.3 643.6L906.1 642.5M338.5 662.9L335.0 660.3M338.5 662.9L335.4 663.9M338.5 662.9L337.9 666.5M343.0 672.2L339.5 670.2M343.0 672.2L342.9 677.0M343.0 672.2L340.7 673.7M272.7 215.4L270.3 217.7M272.7 215.4L273.2 213.5M930.7 585.3L929.3 588.6M930.7 585.3L932.9 587.5M901.1 635.9L903.9 639.5M901.1 635.9L903.2 632.7M901.1 635.9L904.2 636.1M328.8 186.4L331.1 189.3M328.8 186.4L328.9 188.7M328.8 186.4L326.1 186.9M328.8 186.4L327.5 188.0M972.3 593.4L972.1 596.9M972.3 593.4L969.8 595.0M939.7 583.9L941.9 586.1M939.7 583.9L938.3 586.4M973.7 655.1L973.9 658.7M973.7 655.1L974.6 653.1M973.7 655.1L971.9 656.4M334.4 190.5L331.1 189.3M334.4 190.5L336.7 193.3M334.4 190.5L332.4 191.2M334.4 190.5L334.6 193.0M334.4 190.5L333.5 192.2M932.9 666.5L930.6 669.0M932.9 666.5L935.1 666.7M932.9 666.5L930.7 666.4M245.6 665.1L245.4 670.6M245.6 665.1L250.2 664.2M245.6 665.1L248.5 668.1M959.7 667.9L960.7 664.6M959.7 667.9L958.0 665.7M287.6 250.5L289.2 252.1M287.6 250.5L286.3 249.1M287.6 250.5L287.0 252.5M953.0 669.0L953.4 666.8M953.0 669.0L950.7 668.0M269.8 225.6L264.7 226.4M269.8 225.6L271.0 223.3M269.8 225.6L272.2 227.2M269.8 225.6L272.3 224.9M913.0 600.8L914.5 599.4M913.0 600.8L910.6 601.9M981.4 647.9L978.7 648.4M981.4 647.9L980.6 645.4M987.0 628.8L984.4 630.3M987.0 628.8L984.9 627.0M245.4 709.2L245.4 706.7M339.2 242.3L341.1 241.1M339.2 242.3L338.3 243.8M339.2 242.3L338.2 243.0M921.1 591.3L919.8 593.7M921.1 591.3L923.7 591.3M298.9 256.0L296.7 255.7M298.9 256.0L297.8 257.7M298.9 256.0L300.4 256.2M986.2 621.0L984.4 619.3M986.2 621.0L984.3 622.2M965.3 591.3L963.2 590.3M965.3 591.3L966.6 593.0M270.3 217.7L272.6 219.2M968.6 659.2L966.8 661.3M908.7 604.4L910.6 601.9M908.7 604.4L908.1 607.3M903.4 616.2L903.1 619.2M903.4 616.2L905.0 615.4M902.7 622.1L903.1 619.2M347.7 224.5L350.7 223.3M347.7 224.5L346.9 226.8M347.7 224.5L346.6 222.9M346.7 228.9L346.9 226.8M346.7 228.9L345.6 230.7M273.0 231.5L274.5 232.5M273.0 231.5L272.8 229.1M243.3 677.9L242.9 680.8M243.3 677.9L245.2 675.0M916.9 594.8L919.8 593.7M275.3 235.0L273.5 236.0M275.3 235.0L275.1 233.5M314.0 743.7L314.9 738.8M909.3 650.4L910.8 651.8M909.3 650.4L908.5 653.5M909.3 650.4L908.4 648.5M329.3 253.8L330.1 251.8M329.3 253.8L326.8 254.3M324.9 256.0L326.8 254.3M324.9 256.0L322.9 255.4M311.5 257.3L311.9 259.4M272.7 222.9L271.0 223.3M272.7 222.9L272.3 224.9M905.9 610.1L908.1 607.3M905.9 610.1L906.3 611.9M976.8 651.4L974.6 653.1M976.8 651.4L978.7 648.4M335.0 660.3L332.1 658.4M335.0 660.3L335.4 663.9M330.6 655.1L326.9 653.9M330.6 655.1L332.1 658.4M252.3 660.1L250.2 664.2M252.3 660.1L254.6 658.2M302.4 259.5L302.6 257.3M331.1 189.3L332.4 191.2M331.1 189.3L328.9 188.7M315.0 257.1L316.2 256.5M319.5 737.6L314.9 738.8M319.5 737.6L321.5 734.4M336.7 193.3L334.6 193.0M336.7 193.3L337.9 195.6M339.2 197.0L339.9 198.7M339.2 197.0L337.9 195.6M339.2 197.0L341.8 197.4M245.4 670.6L245.2 675.0M245.4 670.6L248.5 668.1M943.5 669.6L947.6 668.5M947.6 668.5L950.7 668.0M278.8 200.7L278.2 199.4M339.5 670.2L340.7 673.7M339.5 670.2L337.9 666.5M977.6 603.3L975.5 601.7M977.6 603.3L978.9 605.9M244.6 704.7L245.4 706.7M925.9 589.5L929.3 588.6M925.9 589.5L923.7 591.3M344.4 231.4L345.6 230.7M983.8 616.2L983.2 612.5M983.8 616.2L984.4 619.3M902.7 628.6L903.2 632.7M935.6 586.9L932.9 587.5M935.6 586.9L938.3 586.4M240.0 690.2L234.8 691.8M967.9 594.1L966.6 593.0M967.9 594.1L969.8 595.0M273.8 207.0L274.7 205.3M273.8 207.0L273.7 209.0M272.4 211.0L268.0 210.8M272.4 211.0L273.2 213.5M272.4 211.0L273.7 209.0M333.8 250.6L336.5 254.8M333.8 250.6L331.3 250.9M974.5 598.9L975.5 601.7M974.5 598.9L972.1 596.9M346.8 213.7L346.7 215.6M346.8 213.7L346.2 211.9M347.5 217.4L346.7 215.6M347.5 217.4L347.4 219.3M982.4 642.7L983.1 639.4M982.4 642.7L980.6 645.4M282.7 192.5L280.1 191.9M955.8 666.1L958.0 665.7M955.8 666.1L953.4 666.8M963.9 663.1L966.8 661.3M963.9 663.1L960.7 664.6M342.9 677.0L343.6 682.3M342.9 677.0L340.7 673.7M299.1 640.9L303.8 641.7M303.8 641.7L307.0 642.6M983.2 612.5L981.0 612.5M478.2 248.7L476.8 245.9M945.1 585.2L946.3 580.5M945.1 585.2L941.9 586.1M984.5 624.7L984.3 622.2M984.5 624.7L984.9 627.0M242.6 696.1L243.1 699.5M294.1 187.1L292.4 187.7M456.9 316.9L460.2 313.8M456.9 316.9L453.7 318.5M320.7 260.4L321.6 264.4M320.7 260.4L318.1 259.1M367.1 260.8L365.8 263.4M308.6 181.9L306.9 183.1M317.8 183.8L319.2 184.3M364.1 256.2L367.1 254.1M301.6 184.5L302.7 184.1M449.6 319.7L451.2 318.9M479.1 288.5L482.1 287.2M936.8 669.1L935.1 666.7M341.1 241.1L343.6 242.5M983.8 633.4L984.4 630.3M316.2 256.5L317.7 256.8M324.3 186.4L326.1 186.9M324.3 186.4L323.0 185.7M258.6 654.9L260.5 652.5M296.7 255.7L297.8 257.7M296.7 255.7L294.5 255.0M289.2 252.1L287.0 252.5M289.2 252.1L291.1 253.4M328.2 737.0L325.2 733.2M321.4 255.8L322.9 255.4M973.9 658.7L971.9 656.4M930.6 669.0L930.7 666.4M265.0 232.9L264.7 226.4M269.6 243.8L274.0 242.0M325.2 733.2L321.5 734.4M341.7 708.9L340.4 712.7M336.1 721.3L337.4 717.9M279.9 245.6L281.9 245.5M279.9 245.6L278.7 243.9M279.9 245.6L281.4 244.4M279.9 245.6L281.2 247.2M279.9 245.6L280.5 243.6M279.9 245.6L277.0 246.1M278.4 242.2L279.8 242.3M278.4 242.2L278.7 243.9M278.4 242.2L277.2 240.7M284.6 248.4L286.3 249.1M284.6 248.4L283.3 246.9M338.3 243.8L337.3 244.7M338.3 243.8L338.2 243.0M903.9 639.5L906.1 642.5M903.9 639.5L904.2 636.1M277.0 238.3L275.2 239.4M277.0 238.3L277.2 240.7M906.3 646.2L906.1 642.5M906.3 646.2L908.4 648.5M335.4 246.7L337.7 247.4M335.4 246.7L336.7 245.7M317.7 256.8L318.1 259.1M929.2 664.7L930.7 666.4M929.3 588.6L932.9 587.5M903.2 632.7L904.2 636.1M941.9 586.1L938.3 586.4M250.2 664.2L248.5 668.1M311.9 259.4L313.5 261.2M271.0 223.3L272.3 224.9M272.2 227.2L272.8 229.1M272.2 227.2L272.3 224.9M978.7 648.4L980.6 645.4M300.4 256.2L301.4 256.5M451.2 318.9L453.7 318.5M275.1 233.5L274.5 232.5M910.8 651.8L908.5 653.5M330.1 251.8L331.3 250.9M335.4 663.9L337.9 666.5M332.4 191.2L333.5 192.2M328.9 188.7L327.5 188.0M339.9 198.7L341.8 197.4M334.6 193.0L333.5 192.2M326.1 186.9L327.5 188.0M302.6 257.3L301.4 256.5M984.4 630.3L984.9 627.0M984.4 619.3L984.3 622.2M972.1 596.9L969.8 595.0M960.7 664.6L958.0 665.7M953.4 666.8L950.7 668.0M281.9 245.5L283.3 246.9M281.9 245.5L281.4 244.4M281.9 245.5L281.2 247.2M279.8 242.3L278.7 243.9M279.8 242.3L280.5 243.6M275.2 239.4L274.0 242.0M275.2 239.4L277.2 240.7M283.3 246.9L281.2 247.2M337.7 247.4L336.7 245.7M337.3 244.7L336.7 245.7M278.7 243.9L280.5 243.6M278.7 243.9L277.0 246.1M274.0 242.0L277.2 240.7M281.4 244.4L280.5 243.6M277.0 246.1L275.1 249.3" fill="none" stroke="#1f77b4" stroke-width="0.82" stroke-linecap="square"/>
<g fill="none" stroke="#ff0000" stroke-width="2.22">
<circle cx="309.48" cy="220.49" r="14.64"/>
<circle cx="423.32" cy="269.28" r="22.77"/>
<circle cx="1073.85" cy="236.75" r="26.02"/>
<circle cx="683.54" cy="464.44" r="29.27"/>
<circle cx="943.75" cy="627.07" r="16.26"/>
<circle cx="293.22" cy="692.12" r="19.52"/>
</g>
<path d="M163.5 822.5L1204.5 822.5L1204.5 107.5L163.5 107.5Z" fill="none" stroke="#000" stroke-width="3.33" stroke-linejoin="round"/>
<rect x="111" y="71" width="1145" height="787" fill="none" stroke="#1b1b1b" stroke-width="2"/>
<path d="M163 857v9M326 857v9M488 857v9M651 857v9M814 857v9M976 857v9M1139 857v9M112 822h-9M112 660h-9M112 497h-9M112 334h-9M112 172h-9" stroke="#1b1b1b" stroke-width="2" fill="none"/>
</svg>
<svg width="1280" height="960" viewBox="0 0 1280 960" style="position:absolute;left:0;top:0;will-change:transform">
<text class="tk" x="163.11" y="889.5" text-anchor="middle" textLength="12.5" lengthAdjust="spacingAndGlyphs">0</text>
<text class="tk" x="325.74" y="889.5" text-anchor="middle" textLength="26" lengthAdjust="spacingAndGlyphs">50</text>
<text class="tk" x="488.38" y="889.5" text-anchor="middle" textLength="40" lengthAdjust="spacingAndGlyphs">100</text>
<text class="tk" x="651.01" y="889.5" text-anchor="middle" textLength="40" lengthAdjust="spacingAndGlyphs">150</text>
<text class="tk" x="813.64" y="889.5" text-anchor="middle" textLength="40" lengthAdjust="spacingAndGlyphs">200</text>
<text class="tk" x="976.27" y="889.5" text-anchor="middle" textLength="40" lengthAdjust="spacingAndGlyphs">250</text>
<text class="tk" x="1138.9" y="889.5" text-anchor="middle" textLength="40" lengthAdjust="spacingAndGlyphs">300</text>
<text class="tk" x="94.5" y="830.42" text-anchor="end" textLength="12.5" lengthAdjust="spacingAndGlyphs">0</text>
<text class="tk" x="94.5" y="667.79" text-anchor="end" textLength="26" lengthAdjust="spacingAndGlyphs">50</text>
<text class="tk" x="94.5" y="505.16" text-anchor="end" textLength="40" lengthAdjust="spacingAndGlyphs">100</text>
<text class="tk" x="94.5" y="342.53" text-anchor="end" textLength="40" lengthAdjust="spacingAndGlyphs">150</text>
<text class="tk" x="94.5" y="179.9" text-anchor="end" textLength="40" lengthAdjust="spacingAndGlyphs">200</text>
<text class="lb" x="683.5" y="917" text-anchor="middle" textLength="80" lengthAdjust="spacingAndGlyphs">x [mm]</text>
<text class="lb" transform="translate(38,465.5) rotate(-90)" text-anchor="middle" textLength="80" lengthAdjust="spacingAndGlyphs">y [mm]</text>
<text class="tt" x="683.5" y="57.5" text-anchor="middle" textLength="647" lengthAdjust="spacingAndGlyphs">Constrained Delaunay Triangulation / Rib Pattern</text>
</svg>
</body></html>
